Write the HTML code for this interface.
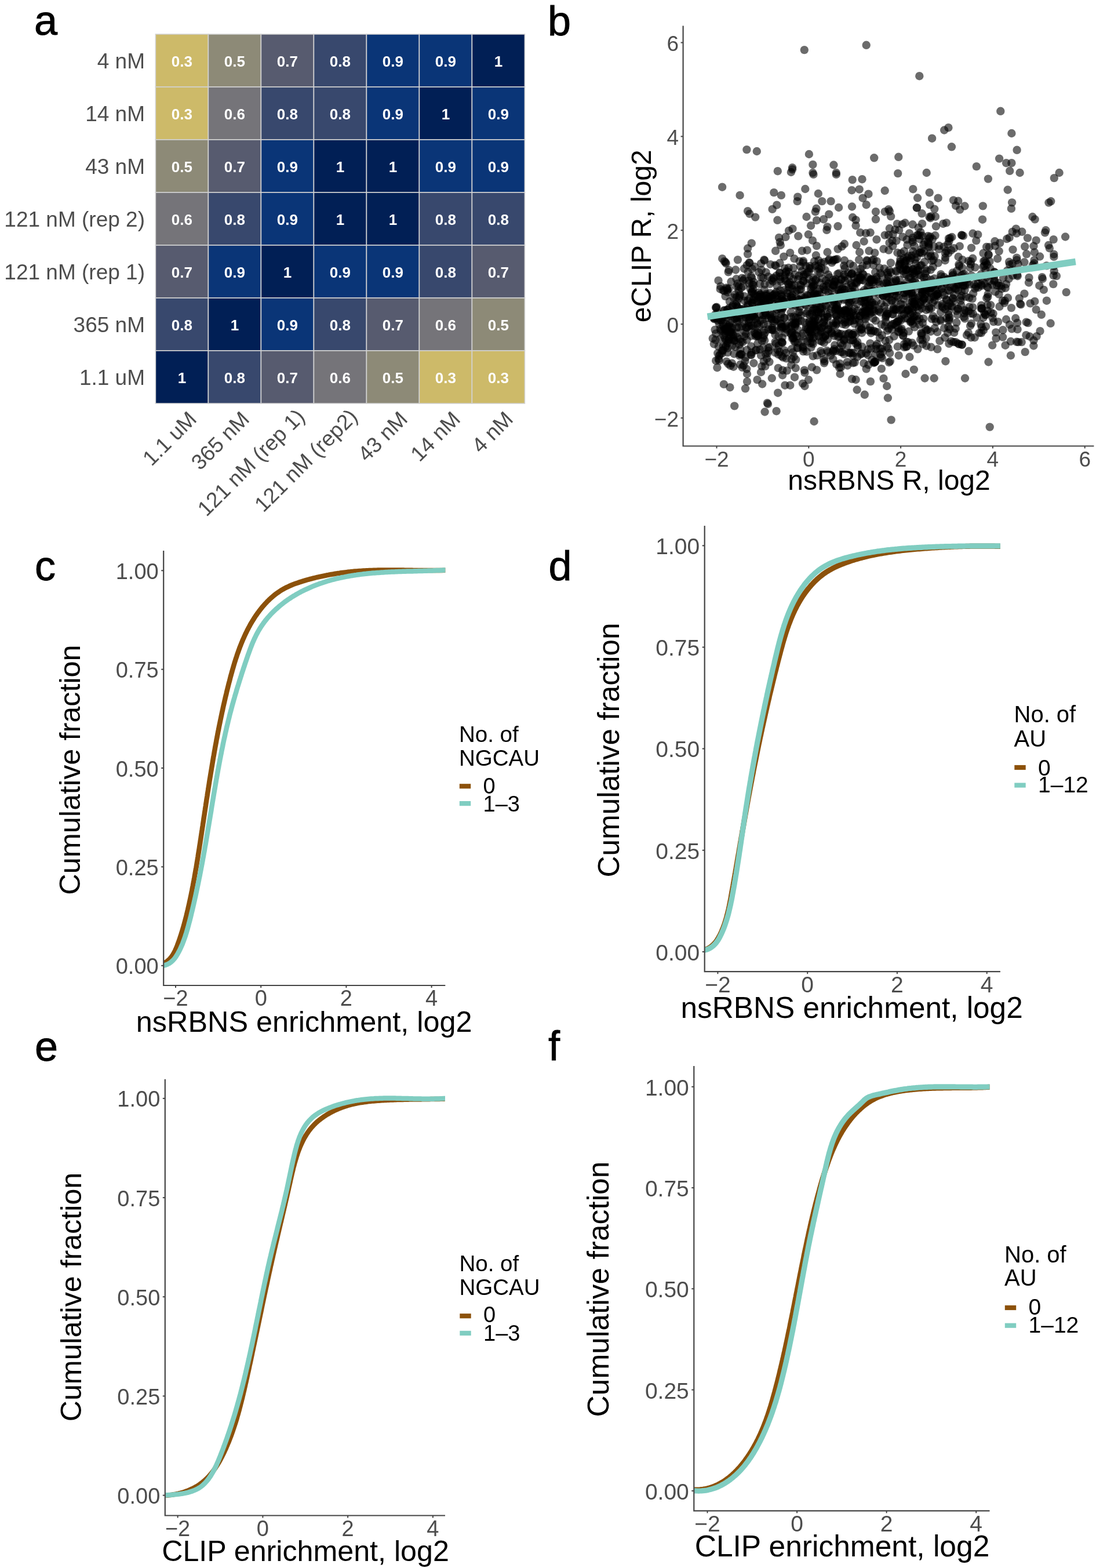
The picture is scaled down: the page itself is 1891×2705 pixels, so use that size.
<!DOCTYPE html>
<html><head><meta charset="utf-8"><style>
html,body{margin:0;padding:0;background:#fff;}
svg{display:block;font-family:"Liberation Sans", Arial, Helvetica, sans-serif;}
</style></head><body>
<svg width="1891" height="2705" viewBox="0 0 1891 2705">
<rect width="1891" height="2705" fill="#fff"/>
<text x="59.0" y="60.0" font-size="72" fill="#000" text-anchor="start" stroke="#000" stroke-width="0.9">a</text>
<text x="945.0" y="60.5" font-size="72" fill="#000" text-anchor="start" stroke="#000" stroke-width="0.9">b</text>
<text x="60.0" y="1001.0" font-size="72" fill="#000" text-anchor="start" stroke="#000" stroke-width="0.9">c</text>
<text x="946.5" y="1000.5" font-size="72" fill="#000" text-anchor="start" stroke="#000" stroke-width="0.9">d</text>
<text x="60.0" y="1829.5" font-size="72" fill="#000" text-anchor="start" stroke="#000" stroke-width="0.9">e</text>
<text x="946.0" y="1829.0" font-size="72" fill="#000" text-anchor="start" stroke="#000" stroke-width="0.9">f</text>
<g>
<rect x="268.4" y="59.0" width="91.0" height="91.0" fill="#cdba69" stroke="#d2d2d2" stroke-width="1.6"/>
<rect x="359.4" y="59.0" width="91.0" height="91.0" fill="#8d8a77" stroke="#d2d2d2" stroke-width="1.6"/>
<rect x="450.4" y="59.0" width="91.0" height="91.0" fill="#575b6f" stroke="#d2d2d2" stroke-width="1.6"/>
<rect x="541.4" y="59.0" width="91.0" height="91.0" fill="#38486d" stroke="#d2d2d2" stroke-width="1.6"/>
<rect x="632.4" y="59.0" width="91.0" height="91.0" fill="#0a3577" stroke="#d2d2d2" stroke-width="1.6"/>
<rect x="723.4" y="59.0" width="91.0" height="91.0" fill="#0a3577" stroke="#d2d2d2" stroke-width="1.6"/>
<rect x="814.4" y="59.0" width="91.0" height="91.0" fill="#011f55" stroke="#d2d2d2" stroke-width="1.6"/>
<rect x="268.4" y="150.0" width="91.0" height="91.0" fill="#cdba69" stroke="#d2d2d2" stroke-width="1.6"/>
<rect x="359.4" y="150.0" width="91.0" height="91.0" fill="#757479" stroke="#d2d2d2" stroke-width="1.6"/>
<rect x="450.4" y="150.0" width="91.0" height="91.0" fill="#38486d" stroke="#d2d2d2" stroke-width="1.6"/>
<rect x="541.4" y="150.0" width="91.0" height="91.0" fill="#38486d" stroke="#d2d2d2" stroke-width="1.6"/>
<rect x="632.4" y="150.0" width="91.0" height="91.0" fill="#0a3577" stroke="#d2d2d2" stroke-width="1.6"/>
<rect x="723.4" y="150.0" width="91.0" height="91.0" fill="#011f55" stroke="#d2d2d2" stroke-width="1.6"/>
<rect x="814.4" y="150.0" width="91.0" height="91.0" fill="#0a3577" stroke="#d2d2d2" stroke-width="1.6"/>
<rect x="268.4" y="241.0" width="91.0" height="91.0" fill="#8d8a77" stroke="#d2d2d2" stroke-width="1.6"/>
<rect x="359.4" y="241.0" width="91.0" height="91.0" fill="#575b6f" stroke="#d2d2d2" stroke-width="1.6"/>
<rect x="450.4" y="241.0" width="91.0" height="91.0" fill="#0a3577" stroke="#d2d2d2" stroke-width="1.6"/>
<rect x="541.4" y="241.0" width="91.0" height="91.0" fill="#011f55" stroke="#d2d2d2" stroke-width="1.6"/>
<rect x="632.4" y="241.0" width="91.0" height="91.0" fill="#011f55" stroke="#d2d2d2" stroke-width="1.6"/>
<rect x="723.4" y="241.0" width="91.0" height="91.0" fill="#0a3577" stroke="#d2d2d2" stroke-width="1.6"/>
<rect x="814.4" y="241.0" width="91.0" height="91.0" fill="#0a3577" stroke="#d2d2d2" stroke-width="1.6"/>
<rect x="268.4" y="332.0" width="91.0" height="91.0" fill="#757479" stroke="#d2d2d2" stroke-width="1.6"/>
<rect x="359.4" y="332.0" width="91.0" height="91.0" fill="#38486d" stroke="#d2d2d2" stroke-width="1.6"/>
<rect x="450.4" y="332.0" width="91.0" height="91.0" fill="#0a3577" stroke="#d2d2d2" stroke-width="1.6"/>
<rect x="541.4" y="332.0" width="91.0" height="91.0" fill="#011f55" stroke="#d2d2d2" stroke-width="1.6"/>
<rect x="632.4" y="332.0" width="91.0" height="91.0" fill="#011f55" stroke="#d2d2d2" stroke-width="1.6"/>
<rect x="723.4" y="332.0" width="91.0" height="91.0" fill="#38486d" stroke="#d2d2d2" stroke-width="1.6"/>
<rect x="814.4" y="332.0" width="91.0" height="91.0" fill="#38486d" stroke="#d2d2d2" stroke-width="1.6"/>
<rect x="268.4" y="423.0" width="91.0" height="91.0" fill="#575b6f" stroke="#d2d2d2" stroke-width="1.6"/>
<rect x="359.4" y="423.0" width="91.0" height="91.0" fill="#0a3577" stroke="#d2d2d2" stroke-width="1.6"/>
<rect x="450.4" y="423.0" width="91.0" height="91.0" fill="#011f55" stroke="#d2d2d2" stroke-width="1.6"/>
<rect x="541.4" y="423.0" width="91.0" height="91.0" fill="#0a3577" stroke="#d2d2d2" stroke-width="1.6"/>
<rect x="632.4" y="423.0" width="91.0" height="91.0" fill="#0a3577" stroke="#d2d2d2" stroke-width="1.6"/>
<rect x="723.4" y="423.0" width="91.0" height="91.0" fill="#38486d" stroke="#d2d2d2" stroke-width="1.6"/>
<rect x="814.4" y="423.0" width="91.0" height="91.0" fill="#575b6f" stroke="#d2d2d2" stroke-width="1.6"/>
<rect x="268.4" y="514.0" width="91.0" height="91.0" fill="#38486d" stroke="#d2d2d2" stroke-width="1.6"/>
<rect x="359.4" y="514.0" width="91.0" height="91.0" fill="#011f55" stroke="#d2d2d2" stroke-width="1.6"/>
<rect x="450.4" y="514.0" width="91.0" height="91.0" fill="#0a3577" stroke="#d2d2d2" stroke-width="1.6"/>
<rect x="541.4" y="514.0" width="91.0" height="91.0" fill="#38486d" stroke="#d2d2d2" stroke-width="1.6"/>
<rect x="632.4" y="514.0" width="91.0" height="91.0" fill="#575b6f" stroke="#d2d2d2" stroke-width="1.6"/>
<rect x="723.4" y="514.0" width="91.0" height="91.0" fill="#757479" stroke="#d2d2d2" stroke-width="1.6"/>
<rect x="814.4" y="514.0" width="91.0" height="91.0" fill="#8d8a77" stroke="#d2d2d2" stroke-width="1.6"/>
<rect x="268.4" y="605.0" width="91.0" height="91.0" fill="#011f55" stroke="#d2d2d2" stroke-width="1.6"/>
<rect x="359.4" y="605.0" width="91.0" height="91.0" fill="#38486d" stroke="#d2d2d2" stroke-width="1.6"/>
<rect x="450.4" y="605.0" width="91.0" height="91.0" fill="#575b6f" stroke="#d2d2d2" stroke-width="1.6"/>
<rect x="541.4" y="605.0" width="91.0" height="91.0" fill="#757479" stroke="#d2d2d2" stroke-width="1.6"/>
<rect x="632.4" y="605.0" width="91.0" height="91.0" fill="#8d8a77" stroke="#d2d2d2" stroke-width="1.6"/>
<rect x="723.4" y="605.0" width="91.0" height="91.0" fill="#cdba69" stroke="#d2d2d2" stroke-width="1.6"/>
<rect x="814.4" y="605.0" width="91.0" height="91.0" fill="#cdba69" stroke="#d2d2d2" stroke-width="1.6"/>
</g>
<text x="313.9" y="115.0" font-size="26" fill="#ffffff" text-anchor="middle" font-weight="bold">0.3</text>
<text x="404.9" y="115.0" font-size="26" fill="#ffffff" text-anchor="middle" font-weight="bold">0.5</text>
<text x="495.9" y="115.0" font-size="26" fill="#ffffff" text-anchor="middle" font-weight="bold">0.7</text>
<text x="586.9" y="115.0" font-size="26" fill="#ffffff" text-anchor="middle" font-weight="bold">0.8</text>
<text x="677.9" y="115.0" font-size="26" fill="#ffffff" text-anchor="middle" font-weight="bold">0.9</text>
<text x="768.9" y="115.0" font-size="26" fill="#ffffff" text-anchor="middle" font-weight="bold">0.9</text>
<text x="859.9" y="115.0" font-size="26" fill="#ffffff" text-anchor="middle" font-weight="bold">1</text>
<text x="313.9" y="206.0" font-size="26" fill="#ffffff" text-anchor="middle" font-weight="bold">0.3</text>
<text x="404.9" y="206.0" font-size="26" fill="#ffffff" text-anchor="middle" font-weight="bold">0.6</text>
<text x="495.9" y="206.0" font-size="26" fill="#ffffff" text-anchor="middle" font-weight="bold">0.8</text>
<text x="586.9" y="206.0" font-size="26" fill="#ffffff" text-anchor="middle" font-weight="bold">0.8</text>
<text x="677.9" y="206.0" font-size="26" fill="#ffffff" text-anchor="middle" font-weight="bold">0.9</text>
<text x="768.9" y="206.0" font-size="26" fill="#ffffff" text-anchor="middle" font-weight="bold">1</text>
<text x="859.9" y="206.0" font-size="26" fill="#ffffff" text-anchor="middle" font-weight="bold">0.9</text>
<text x="313.9" y="297.0" font-size="26" fill="#ffffff" text-anchor="middle" font-weight="bold">0.5</text>
<text x="404.9" y="297.0" font-size="26" fill="#ffffff" text-anchor="middle" font-weight="bold">0.7</text>
<text x="495.9" y="297.0" font-size="26" fill="#ffffff" text-anchor="middle" font-weight="bold">0.9</text>
<text x="586.9" y="297.0" font-size="26" fill="#ffffff" text-anchor="middle" font-weight="bold">1</text>
<text x="677.9" y="297.0" font-size="26" fill="#ffffff" text-anchor="middle" font-weight="bold">1</text>
<text x="768.9" y="297.0" font-size="26" fill="#ffffff" text-anchor="middle" font-weight="bold">0.9</text>
<text x="859.9" y="297.0" font-size="26" fill="#ffffff" text-anchor="middle" font-weight="bold">0.9</text>
<text x="313.9" y="388.0" font-size="26" fill="#ffffff" text-anchor="middle" font-weight="bold">0.6</text>
<text x="404.9" y="388.0" font-size="26" fill="#ffffff" text-anchor="middle" font-weight="bold">0.8</text>
<text x="495.9" y="388.0" font-size="26" fill="#ffffff" text-anchor="middle" font-weight="bold">0.9</text>
<text x="586.9" y="388.0" font-size="26" fill="#ffffff" text-anchor="middle" font-weight="bold">1</text>
<text x="677.9" y="388.0" font-size="26" fill="#ffffff" text-anchor="middle" font-weight="bold">1</text>
<text x="768.9" y="388.0" font-size="26" fill="#ffffff" text-anchor="middle" font-weight="bold">0.8</text>
<text x="859.9" y="388.0" font-size="26" fill="#ffffff" text-anchor="middle" font-weight="bold">0.8</text>
<text x="313.9" y="479.0" font-size="26" fill="#ffffff" text-anchor="middle" font-weight="bold">0.7</text>
<text x="404.9" y="479.0" font-size="26" fill="#ffffff" text-anchor="middle" font-weight="bold">0.9</text>
<text x="495.9" y="479.0" font-size="26" fill="#ffffff" text-anchor="middle" font-weight="bold">1</text>
<text x="586.9" y="479.0" font-size="26" fill="#ffffff" text-anchor="middle" font-weight="bold">0.9</text>
<text x="677.9" y="479.0" font-size="26" fill="#ffffff" text-anchor="middle" font-weight="bold">0.9</text>
<text x="768.9" y="479.0" font-size="26" fill="#ffffff" text-anchor="middle" font-weight="bold">0.8</text>
<text x="859.9" y="479.0" font-size="26" fill="#ffffff" text-anchor="middle" font-weight="bold">0.7</text>
<text x="313.9" y="570.0" font-size="26" fill="#ffffff" text-anchor="middle" font-weight="bold">0.8</text>
<text x="404.9" y="570.0" font-size="26" fill="#ffffff" text-anchor="middle" font-weight="bold">1</text>
<text x="495.9" y="570.0" font-size="26" fill="#ffffff" text-anchor="middle" font-weight="bold">0.9</text>
<text x="586.9" y="570.0" font-size="26" fill="#ffffff" text-anchor="middle" font-weight="bold">0.8</text>
<text x="677.9" y="570.0" font-size="26" fill="#ffffff" text-anchor="middle" font-weight="bold">0.7</text>
<text x="768.9" y="570.0" font-size="26" fill="#ffffff" text-anchor="middle" font-weight="bold">0.6</text>
<text x="859.9" y="570.0" font-size="26" fill="#ffffff" text-anchor="middle" font-weight="bold">0.5</text>
<text x="313.9" y="661.0" font-size="26" fill="#ffffff" text-anchor="middle" font-weight="bold">1</text>
<text x="404.9" y="661.0" font-size="26" fill="#ffffff" text-anchor="middle" font-weight="bold">0.8</text>
<text x="495.9" y="661.0" font-size="26" fill="#ffffff" text-anchor="middle" font-weight="bold">0.7</text>
<text x="586.9" y="661.0" font-size="26" fill="#ffffff" text-anchor="middle" font-weight="bold">0.6</text>
<text x="677.9" y="661.0" font-size="26" fill="#ffffff" text-anchor="middle" font-weight="bold">0.5</text>
<text x="768.9" y="661.0" font-size="26" fill="#ffffff" text-anchor="middle" font-weight="bold">0.3</text>
<text x="859.9" y="661.0" font-size="26" fill="#ffffff" text-anchor="middle" font-weight="bold">0.3</text>
<text x="250.0" y="117.7" font-size="37" fill="#4d4d4d" text-anchor="end" >4 nM</text>
<text x="250.0" y="208.7" font-size="37" fill="#4d4d4d" text-anchor="end" >14 nM</text>
<text x="250.0" y="299.7" font-size="37" fill="#4d4d4d" text-anchor="end" >43 nM</text>
<text x="250.0" y="390.7" font-size="37" fill="#4d4d4d" text-anchor="end" >121 nM (rep 2)</text>
<text x="250.0" y="481.7" font-size="37" fill="#4d4d4d" text-anchor="end" >121 nM (rep 1)</text>
<text x="250.0" y="572.7" font-size="37" fill="#4d4d4d" text-anchor="end" >365 nM</text>
<text x="250.0" y="663.7" font-size="37" fill="#4d4d4d" text-anchor="end" >1.1 uM</text>
<text transform="translate(341.4,725.5) rotate(-45)" font-size="37" fill="#4d4d4d" text-anchor="end">1.1 uM</text>
<text transform="translate(432.4,725.5) rotate(-45)" font-size="37" fill="#4d4d4d" text-anchor="end">365 nM</text>
<text transform="translate(527.9,721.0) rotate(-45)" font-size="37" fill="#4d4d4d" text-anchor="end">121 nM (rep 1)</text>
<text transform="translate(618.9,721.0) rotate(-45)" font-size="37" fill="#4d4d4d" text-anchor="end">121 nM (rep2)</text>
<text transform="translate(705.4,725.5) rotate(-45)" font-size="37" fill="#4d4d4d" text-anchor="end">43 nM</text>
<text transform="translate(796.4,725.5) rotate(-45)" font-size="37" fill="#4d4d4d" text-anchor="end">14 nM</text>
<text transform="translate(887.4,725.5) rotate(-45)" font-size="37" fill="#4d4d4d" text-anchor="end">4 nM</text>
<g fill="#000" fill-opacity="0.58">
<circle cx="1387.8" cy="86.1" r="7.2"/>
<circle cx="1494.7" cy="77.8" r="7.2"/>
<circle cx="1288.4" cy="258.1" r="7.2"/>
<circle cx="1305.8" cy="261.0" r="7.2"/>
<circle cx="1395.9" cy="266.0" r="7.2"/>
<circle cx="1508.2" cy="272.3" r="7.2"/>
<circle cx="1402.4" cy="283.9" r="7.2"/>
<circle cx="1438.4" cy="284.5" r="7.2"/>
<circle cx="1367.1" cy="289.3" r="7.2"/>
<circle cx="1341.8" cy="295.2" r="7.2"/>
<circle cx="1364.9" cy="297.0" r="7.2"/>
<circle cx="1402.4" cy="298.0" r="7.2"/>
<circle cx="1442.8" cy="298.0" r="7.2"/>
<circle cx="1586.3" cy="131.2" r="7.2"/>
<circle cx="1726.3" cy="191.8" r="7.2"/>
<circle cx="1636.4" cy="220.2" r="7.2"/>
<circle cx="1629.2" cy="224.5" r="7.2"/>
<circle cx="1608.1" cy="238.7" r="7.2"/>
<circle cx="1745.4" cy="230.0" r="7.2"/>
<circle cx="1641.9" cy="253.3" r="7.2"/>
<circle cx="1754.6" cy="258.8" r="7.2"/>
<circle cx="1550.3" cy="270.8" r="7.2"/>
<circle cx="1724.1" cy="273.6" r="7.2"/>
<circle cx="1736.1" cy="281.2" r="7.2"/>
<circle cx="1745.4" cy="281.2" r="7.2"/>
<circle cx="1684.8" cy="287.1" r="7.2"/>
<circle cx="1549.2" cy="299.1" r="7.2"/>
<circle cx="1598.7" cy="298.0" r="7.2"/>
<circle cx="1742.2" cy="294.8" r="7.2"/>
<circle cx="1759.6" cy="298.0" r="7.2"/>
<circle cx="1827.6" cy="298.0" r="7.2"/>
<circle cx="1367.1" cy="292.2" r="7.2"/>
<circle cx="1403.5" cy="300.9" r="7.2"/>
<circle cx="1442.8" cy="300.9" r="7.2"/>
<circle cx="1470.7" cy="310.1" r="7.2"/>
<circle cx="1487.5" cy="309.2" r="7.2"/>
<circle cx="1246.1" cy="322.7" r="7.2"/>
<circle cx="1276.6" cy="336.9" r="7.2"/>
<circle cx="1335.3" cy="332.1" r="7.2"/>
<circle cx="1347.9" cy="336.9" r="7.2"/>
<circle cx="1389.3" cy="326.0" r="7.2"/>
<circle cx="1411.8" cy="334.0" r="7.2"/>
<circle cx="1376.3" cy="339.7" r="7.2"/>
<circle cx="1375.6" cy="347.1" r="7.2"/>
<circle cx="1469.6" cy="328.2" r="7.2"/>
<circle cx="1482.7" cy="326.6" r="7.2"/>
<circle cx="1498.4" cy="334.7" r="7.2"/>
<circle cx="1488.6" cy="341.7" r="7.2"/>
<circle cx="1494.7" cy="353.2" r="7.2"/>
<circle cx="1526.7" cy="328.8" r="7.2"/>
<circle cx="1418.3" cy="347.1" r="7.2"/>
<circle cx="1433.6" cy="347.1" r="7.2"/>
<circle cx="1447.1" cy="358.0" r="7.2"/>
<circle cx="1470.0" cy="356.5" r="7.2"/>
<circle cx="1408.5" cy="359.8" r="7.2"/>
<circle cx="1406.8" cy="365.2" r="7.2"/>
<circle cx="1340.3" cy="353.7" r="7.2"/>
<circle cx="1332.6" cy="360.9" r="7.2"/>
<circle cx="1290.1" cy="364.1" r="7.2"/>
<circle cx="1293.4" cy="368.9" r="7.2"/>
<circle cx="1303.2" cy="374.6" r="7.2"/>
<circle cx="1341.4" cy="379.8" r="7.2"/>
<circle cx="1391.5" cy="374.0" r="7.2"/>
<circle cx="1421.0" cy="378.3" r="7.2"/>
<circle cx="1430.3" cy="369.6" r="7.2"/>
<circle cx="1409.0" cy="380.1" r="7.2"/>
<circle cx="1399.1" cy="389.2" r="7.2"/>
<circle cx="1427.5" cy="391.4" r="7.2"/>
<circle cx="1426.4" cy="396.8" r="7.2"/>
<circle cx="1445.6" cy="390.3" r="7.2"/>
<circle cx="1471.1" cy="375.0" r="7.2"/>
<circle cx="1476.6" cy="379.4" r="7.2"/>
<circle cx="1476.6" cy="389.2" r="7.2"/>
<circle cx="1511.0" cy="365.2" r="7.2"/>
<circle cx="1511.0" cy="378.3" r="7.2"/>
<circle cx="1526.7" cy="365.2" r="7.2"/>
<circle cx="1526.7" cy="405.6" r="7.2"/>
<circle cx="1367.5" cy="394.7" r="7.2"/>
<circle cx="1361.0" cy="397.9" r="7.2"/>
<circle cx="1377.3" cy="407.3" r="7.2"/>
<circle cx="1355.5" cy="408.8" r="7.2"/>
<circle cx="1344.0" cy="409.9" r="7.2"/>
<circle cx="1345.7" cy="417.6" r="7.2"/>
<circle cx="1346.8" cy="423.0" r="7.2"/>
<circle cx="1394.8" cy="404.5" r="7.2"/>
<circle cx="1402.0" cy="414.9" r="7.2"/>
<circle cx="1409.0" cy="424.1" r="7.2"/>
<circle cx="1296.7" cy="419.7" r="7.2"/>
<circle cx="1290.1" cy="428.5" r="7.2"/>
<circle cx="1290.1" cy="438.3" r="7.2"/>
<circle cx="1484.2" cy="401.2" r="7.2"/>
<circle cx="1494.0" cy="402.3" r="7.2"/>
<circle cx="1501.6" cy="401.2" r="7.2"/>
<circle cx="1490.7" cy="416.5" r="7.2"/>
<circle cx="1512.5" cy="413.2" r="7.2"/>
<circle cx="1477.6" cy="423.0" r="7.2"/>
<circle cx="1483.1" cy="435.0" r="7.2"/>
<circle cx="1456.9" cy="420.8" r="7.2"/>
<circle cx="1452.6" cy="425.2" r="7.2"/>
<circle cx="1445.6" cy="429.6" r="7.2"/>
<circle cx="1427.5" cy="435.0" r="7.2"/>
<circle cx="1338.1" cy="432.8" r="7.2"/>
<circle cx="1363.2" cy="436.1" r="7.2"/>
<circle cx="1383.9" cy="432.8" r="7.2"/>
<circle cx="1392.6" cy="431.7" r="7.2"/>
<circle cx="1407.9" cy="440.5" r="7.2"/>
<circle cx="1412.2" cy="449.2" r="7.2"/>
<circle cx="1352.3" cy="442.6" r="7.2"/>
<circle cx="1249.8" cy="450.9" r="7.2"/>
<circle cx="1293.4" cy="453.5" r="7.2"/>
<circle cx="1313.0" cy="454.6" r="7.2"/>
<circle cx="1329.4" cy="456.2" r="7.2"/>
<circle cx="1499.4" cy="432.8" r="7.2"/>
<circle cx="1509.3" cy="436.1" r="7.2"/>
<circle cx="1524.5" cy="429.6" r="7.2"/>
<circle cx="1404.6" cy="727.0" r="7.2"/>
<circle cx="1537.6" cy="724.4" r="7.2"/>
<circle cx="1707.7" cy="736.6" r="7.2"/>
<circle cx="1267.2" cy="700.4" r="7.2"/>
<circle cx="1323.9" cy="695.2" r="7.2"/>
<circle cx="1325.0" cy="697.0" r="7.2"/>
<circle cx="1319.6" cy="710.5" r="7.2"/>
<circle cx="1339.6" cy="709.2" r="7.2"/>
<circle cx="1342.2" cy="677.7" r="7.2"/>
<circle cx="1248.9" cy="662.9" r="7.2"/>
<circle cx="1259.4" cy="668.2" r="7.2"/>
<circle cx="1286.0" cy="670.3" r="7.2"/>
<circle cx="1478.7" cy="672.5" r="7.2"/>
<circle cx="1491.8" cy="680.8" r="7.2"/>
<circle cx="1531.9" cy="686.5" r="7.2"/>
<circle cx="1530.2" cy="666.0" r="7.2"/>
<circle cx="1524.5" cy="652.9" r="7.2"/>
<circle cx="1501.9" cy="658.1" r="7.2"/>
<circle cx="1470.0" cy="653.8" r="7.2"/>
<circle cx="1476.6" cy="655.0" r="7.2"/>
<circle cx="1595.6" cy="652.5" r="7.2"/>
<circle cx="1611.7" cy="652.5" r="7.2"/>
<circle cx="1665.0" cy="652.5" r="7.2"/>
<circle cx="1562.5" cy="645.0" r="7.2"/>
<circle cx="1576.9" cy="637.6" r="7.2"/>
<circle cx="1631.4" cy="623.2" r="7.2"/>
<circle cx="1705.5" cy="624.5" r="7.2"/>
<circle cx="1743.9" cy="613.2" r="7.2"/>
<circle cx="1768.7" cy="607.1" r="7.2"/>
<circle cx="1671.5" cy="605.8" r="7.2"/>
<circle cx="1617.4" cy="602.3" r="7.2"/>
<circle cx="1550.7" cy="613.2" r="7.2"/>
<circle cx="1569.4" cy="615.8" r="7.2"/>
<circle cx="1449.5" cy="645.0" r="7.2"/>
<circle cx="1388.5" cy="642.9" r="7.2"/>
<circle cx="1395.0" cy="655.1" r="7.2"/>
<circle cx="1388.5" cy="666.0" r="7.2"/>
<circle cx="1385.0" cy="661.6" r="7.2"/>
<circle cx="1371.0" cy="650.7" r="7.2"/>
<circle cx="1363.2" cy="664.7" r="7.2"/>
<circle cx="1354.4" cy="664.7" r="7.2"/>
<circle cx="1350.1" cy="647.2" r="7.2"/>
<circle cx="1331.8" cy="652.5" r="7.2"/>
<circle cx="1315.2" cy="662.5" r="7.2"/>
<circle cx="1306.5" cy="655.1" r="7.2"/>
<circle cx="1289.0" cy="658.1" r="7.2"/>
<circle cx="1289.0" cy="645.0" r="7.2"/>
<circle cx="1313.0" cy="642.0" r="7.2"/>
<circle cx="1583.4" cy="602.3" r="7.2"/>
<circle cx="1441.9" cy="605.7" r="7.2"/>
<circle cx="1298.9" cy="543.3" r="7.2"/>
<circle cx="1530.8" cy="540.7" r="7.2"/>
<circle cx="1244.5" cy="544.4" r="7.2"/>
<circle cx="1320.8" cy="540.3" r="7.2"/>
<circle cx="1549.6" cy="572.6" r="7.2"/>
<circle cx="1402.9" cy="593.2" r="7.2"/>
<circle cx="1839.7" cy="504.1" r="7.2"/>
<circle cx="1338.7" cy="458.7" r="7.2"/>
<circle cx="1551.2" cy="397.0" r="7.2"/>
<circle cx="1308.5" cy="579.6" r="7.2"/>
<circle cx="1602.2" cy="426.4" r="7.2"/>
<circle cx="1331.4" cy="483.3" r="7.2"/>
<circle cx="1734.7" cy="496.9" r="7.2"/>
<circle cx="1296.3" cy="533.6" r="7.2"/>
<circle cx="1301.2" cy="507.5" r="7.2"/>
<circle cx="1746.7" cy="454.7" r="7.2"/>
<circle cx="1554.2" cy="552.6" r="7.2"/>
<circle cx="1605.6" cy="505.4" r="7.2"/>
<circle cx="1447.5" cy="492.4" r="7.2"/>
<circle cx="1287.3" cy="542.2" r="7.2"/>
<circle cx="1510.4" cy="572.0" r="7.2"/>
<circle cx="1590.7" cy="575.2" r="7.2"/>
<circle cx="1243.3" cy="493.9" r="7.2"/>
<circle cx="1542.5" cy="534.6" r="7.2"/>
<circle cx="1254.8" cy="534.2" r="7.2"/>
<circle cx="1703.0" cy="456.6" r="7.2"/>
<circle cx="1331.2" cy="568.7" r="7.2"/>
<circle cx="1295.7" cy="579.5" r="7.2"/>
<circle cx="1568.1" cy="536.0" r="7.2"/>
<circle cx="1492.0" cy="519.5" r="7.2"/>
<circle cx="1575.5" cy="505.0" r="7.2"/>
<circle cx="1609.4" cy="494.9" r="7.2"/>
<circle cx="1571.6" cy="554.5" r="7.2"/>
<circle cx="1767.4" cy="452.3" r="7.2"/>
<circle cx="1396.5" cy="462.3" r="7.2"/>
<circle cx="1457.7" cy="484.3" r="7.2"/>
<circle cx="1494.7" cy="636.4" r="7.2"/>
<circle cx="1397.0" cy="581.3" r="7.2"/>
<circle cx="1392.8" cy="470.4" r="7.2"/>
<circle cx="1770.7" cy="555.7" r="7.2"/>
<circle cx="1417.8" cy="565.0" r="7.2"/>
<circle cx="1723.5" cy="507.6" r="7.2"/>
<circle cx="1333.4" cy="485.6" r="7.2"/>
<circle cx="1416.8" cy="453.7" r="7.2"/>
<circle cx="1498.6" cy="569.9" r="7.2"/>
<circle cx="1280.3" cy="479.6" r="7.2"/>
<circle cx="1544.8" cy="501.7" r="7.2"/>
<circle cx="1468.7" cy="518.6" r="7.2"/>
<circle cx="1805.7" cy="458.4" r="7.2"/>
<circle cx="1296.8" cy="503.4" r="7.2"/>
<circle cx="1494.3" cy="609.4" r="7.2"/>
<circle cx="1530.4" cy="597.6" r="7.2"/>
<circle cx="1584.0" cy="465.8" r="7.2"/>
<circle cx="1575.4" cy="464.1" r="7.2"/>
<circle cx="1563.7" cy="449.5" r="7.2"/>
<circle cx="1306.6" cy="573.7" r="7.2"/>
<circle cx="1708.5" cy="463.1" r="7.2"/>
<circle cx="1818.8" cy="307.1" r="7.2"/>
<circle cx="1350.7" cy="518.9" r="7.2"/>
<circle cx="1396.6" cy="583.6" r="7.2"/>
<circle cx="1414.3" cy="526.0" r="7.2"/>
<circle cx="1356.2" cy="566.2" r="7.2"/>
<circle cx="1285.2" cy="572.8" r="7.2"/>
<circle cx="1620.5" cy="424.0" r="7.2"/>
<circle cx="1427.8" cy="546.7" r="7.2"/>
<circle cx="1347.4" cy="485.9" r="7.2"/>
<circle cx="1598.0" cy="534.7" r="7.2"/>
<circle cx="1533.9" cy="625.2" r="7.2"/>
<circle cx="1433.9" cy="532.8" r="7.2"/>
<circle cx="1787.7" cy="534.1" r="7.2"/>
<circle cx="1539.4" cy="518.1" r="7.2"/>
<circle cx="1490.4" cy="626.7" r="7.2"/>
<circle cx="1464.8" cy="527.1" r="7.2"/>
<circle cx="1303.9" cy="580.2" r="7.2"/>
<circle cx="1371.8" cy="577.5" r="7.2"/>
<circle cx="1469.2" cy="539.8" r="7.2"/>
<circle cx="1553.0" cy="491.7" r="7.2"/>
<circle cx="1537.5" cy="561.8" r="7.2"/>
<circle cx="1348.6" cy="511.8" r="7.2"/>
<circle cx="1265.5" cy="632.7" r="7.2"/>
<circle cx="1382.1" cy="498.9" r="7.2"/>
<circle cx="1421.3" cy="619.7" r="7.2"/>
<circle cx="1489.9" cy="483.7" r="7.2"/>
<circle cx="1424.8" cy="527.3" r="7.2"/>
<circle cx="1353.1" cy="604.4" r="7.2"/>
<circle cx="1233.6" cy="568.9" r="7.2"/>
<circle cx="1401.6" cy="572.9" r="7.2"/>
<circle cx="1423.9" cy="579.6" r="7.2"/>
<circle cx="1722.1" cy="555.1" r="7.2"/>
<circle cx="1420.8" cy="582.3" r="7.2"/>
<circle cx="1643.8" cy="514.5" r="7.2"/>
<circle cx="1719.8" cy="492.3" r="7.2"/>
<circle cx="1255.4" cy="608.1" r="7.2"/>
<circle cx="1364.1" cy="574.9" r="7.2"/>
<circle cx="1713.6" cy="541.0" r="7.2"/>
<circle cx="1612.5" cy="518.1" r="7.2"/>
<circle cx="1247.8" cy="597.4" r="7.2"/>
<circle cx="1324.2" cy="609.9" r="7.2"/>
<circle cx="1694.0" cy="531.8" r="7.2"/>
<circle cx="1537.1" cy="373.4" r="7.2"/>
<circle cx="1630.2" cy="582.4" r="7.2"/>
<circle cx="1429.3" cy="488.0" r="7.2"/>
<circle cx="1337.5" cy="589.9" r="7.2"/>
<circle cx="1341.4" cy="517.0" r="7.2"/>
<circle cx="1288.2" cy="636.5" r="7.2"/>
<circle cx="1247.7" cy="500.9" r="7.2"/>
<circle cx="1428.0" cy="516.7" r="7.2"/>
<circle cx="1407.1" cy="510.1" r="7.2"/>
<circle cx="1466.5" cy="609.3" r="7.2"/>
<circle cx="1450.5" cy="504.5" r="7.2"/>
<circle cx="1430.8" cy="447.4" r="7.2"/>
<circle cx="1272.0" cy="581.8" r="7.2"/>
<circle cx="1466.8" cy="546.0" r="7.2"/>
<circle cx="1251.7" cy="574.9" r="7.2"/>
<circle cx="1267.6" cy="542.1" r="7.2"/>
<circle cx="1438.4" cy="526.3" r="7.2"/>
<circle cx="1274.2" cy="494.2" r="7.2"/>
<circle cx="1521.5" cy="601.4" r="7.2"/>
<circle cx="1477.7" cy="510.3" r="7.2"/>
<circle cx="1437.6" cy="482.7" r="7.2"/>
<circle cx="1265.5" cy="583.7" r="7.2"/>
<circle cx="1260.2" cy="630.9" r="7.2"/>
<circle cx="1524.1" cy="510.1" r="7.2"/>
<circle cx="1259.7" cy="572.1" r="7.2"/>
<circle cx="1283.0" cy="630.6" r="7.2"/>
<circle cx="1368.2" cy="582.5" r="7.2"/>
<circle cx="1783.4" cy="596.5" r="7.2"/>
<circle cx="1642.4" cy="409.0" r="7.2"/>
<circle cx="1367.0" cy="573.7" r="7.2"/>
<circle cx="1532.3" cy="496.8" r="7.2"/>
<circle cx="1693.1" cy="490.9" r="7.2"/>
<circle cx="1596.9" cy="507.7" r="7.2"/>
<circle cx="1528.9" cy="487.8" r="7.2"/>
<circle cx="1571.2" cy="479.2" r="7.2"/>
<circle cx="1322.1" cy="507.2" r="7.2"/>
<circle cx="1520.0" cy="615.7" r="7.2"/>
<circle cx="1498.4" cy="629.4" r="7.2"/>
<circle cx="1553.8" cy="455.1" r="7.2"/>
<circle cx="1773.7" cy="557.1" r="7.2"/>
<circle cx="1534.3" cy="586.4" r="7.2"/>
<circle cx="1284.3" cy="511.3" r="7.2"/>
<circle cx="1306.4" cy="557.5" r="7.2"/>
<circle cx="1598.2" cy="496.7" r="7.2"/>
<circle cx="1296.9" cy="505.7" r="7.2"/>
<circle cx="1575.1" cy="465.0" r="7.2"/>
<circle cx="1501.9" cy="503.3" r="7.2"/>
<circle cx="1299.1" cy="517.2" r="7.2"/>
<circle cx="1437.5" cy="449.8" r="7.2"/>
<circle cx="1327.8" cy="511.9" r="7.2"/>
<circle cx="1593.3" cy="549.6" r="7.2"/>
<circle cx="1247.5" cy="604.2" r="7.2"/>
<circle cx="1333.2" cy="509.6" r="7.2"/>
<circle cx="1319.1" cy="449.3" r="7.2"/>
<circle cx="1459.5" cy="516.5" r="7.2"/>
<circle cx="1327.4" cy="624.3" r="7.2"/>
<circle cx="1645.0" cy="520.5" r="7.2"/>
<circle cx="1522.2" cy="617.9" r="7.2"/>
<circle cx="1411.5" cy="468.0" r="7.2"/>
<circle cx="1650.4" cy="536.4" r="7.2"/>
<circle cx="1578.0" cy="484.3" r="7.2"/>
<circle cx="1288.6" cy="586.4" r="7.2"/>
<circle cx="1347.0" cy="507.4" r="7.2"/>
<circle cx="1597.1" cy="522.6" r="7.2"/>
<circle cx="1499.2" cy="515.1" r="7.2"/>
<circle cx="1232.6" cy="548.1" r="7.2"/>
<circle cx="1371.9" cy="473.9" r="7.2"/>
<circle cx="1357.1" cy="568.5" r="7.2"/>
<circle cx="1507.3" cy="570.7" r="7.2"/>
<circle cx="1693.1" cy="574.4" r="7.2"/>
<circle cx="1297.1" cy="522.0" r="7.2"/>
<circle cx="1256.3" cy="627.6" r="7.2"/>
<circle cx="1541.5" cy="530.6" r="7.2"/>
<circle cx="1480.2" cy="475.6" r="7.2"/>
<circle cx="1354.7" cy="563.1" r="7.2"/>
<circle cx="1422.7" cy="561.6" r="7.2"/>
<circle cx="1702.4" cy="477.9" r="7.2"/>
<circle cx="1684.6" cy="478.7" r="7.2"/>
<circle cx="1705.5" cy="439.7" r="7.2"/>
<circle cx="1448.3" cy="601.5" r="7.2"/>
<circle cx="1575.1" cy="552.0" r="7.2"/>
<circle cx="1700.4" cy="543.3" r="7.2"/>
<circle cx="1447.2" cy="580.0" r="7.2"/>
<circle cx="1437.4" cy="604.9" r="7.2"/>
<circle cx="1712.0" cy="491.2" r="7.2"/>
<circle cx="1509.7" cy="624.7" r="7.2"/>
<circle cx="1304.6" cy="603.7" r="7.2"/>
<circle cx="1375.8" cy="515.2" r="7.2"/>
<circle cx="1445.0" cy="472.6" r="7.2"/>
<circle cx="1466.3" cy="554.4" r="7.2"/>
<circle cx="1666.6" cy="511.9" r="7.2"/>
<circle cx="1573.6" cy="591.4" r="7.2"/>
<circle cx="1653.0" cy="490.7" r="7.2"/>
<circle cx="1728.4" cy="498.1" r="7.2"/>
<circle cx="1255.2" cy="600.7" r="7.2"/>
<circle cx="1379.8" cy="499.7" r="7.2"/>
<circle cx="1810.8" cy="428.2" r="7.2"/>
<circle cx="1638.7" cy="567.7" r="7.2"/>
<circle cx="1572.9" cy="504.7" r="7.2"/>
<circle cx="1609.8" cy="460.4" r="7.2"/>
<circle cx="1252.4" cy="596.2" r="7.2"/>
<circle cx="1651.0" cy="467.2" r="7.2"/>
<circle cx="1818.7" cy="467.5" r="7.2"/>
<circle cx="1776.7" cy="580.5" r="7.2"/>
<circle cx="1269.0" cy="598.5" r="7.2"/>
<circle cx="1672.5" cy="490.6" r="7.2"/>
<circle cx="1297.5" cy="463.7" r="7.2"/>
<circle cx="1370.5" cy="492.3" r="7.2"/>
<circle cx="1343.3" cy="596.1" r="7.2"/>
<circle cx="1429.9" cy="449.2" r="7.2"/>
<circle cx="1457.1" cy="535.4" r="7.2"/>
<circle cx="1337.2" cy="457.5" r="7.2"/>
<circle cx="1334.9" cy="508.2" r="7.2"/>
<circle cx="1613.9" cy="373.7" r="7.2"/>
<circle cx="1375.2" cy="579.9" r="7.2"/>
<circle cx="1474.4" cy="532.5" r="7.2"/>
<circle cx="1426.9" cy="542.8" r="7.2"/>
<circle cx="1525.7" cy="463.4" r="7.2"/>
<circle cx="1528.3" cy="555.4" r="7.2"/>
<circle cx="1501.0" cy="564.9" r="7.2"/>
<circle cx="1632.9" cy="384.4" r="7.2"/>
<circle cx="1328.8" cy="545.2" r="7.2"/>
<circle cx="1284.3" cy="580.5" r="7.2"/>
<circle cx="1348.4" cy="589.9" r="7.2"/>
<circle cx="1262.3" cy="566.4" r="7.2"/>
<circle cx="1325.7" cy="477.2" r="7.2"/>
<circle cx="1402.1" cy="535.8" r="7.2"/>
<circle cx="1320.3" cy="521.2" r="7.2"/>
<circle cx="1390.3" cy="458.9" r="7.2"/>
<circle cx="1736.1" cy="490.1" r="7.2"/>
<circle cx="1320.7" cy="514.6" r="7.2"/>
<circle cx="1659.5" cy="406.0" r="7.2"/>
<circle cx="1382.2" cy="553.6" r="7.2"/>
<circle cx="1359.4" cy="500.9" r="7.2"/>
<circle cx="1675.4" cy="582.2" r="7.2"/>
<circle cx="1662.2" cy="492.7" r="7.2"/>
<circle cx="1557.4" cy="408.7" r="7.2"/>
<circle cx="1492.0" cy="532.1" r="7.2"/>
<circle cx="1328.5" cy="542.1" r="7.2"/>
<circle cx="1724.5" cy="528.8" r="7.2"/>
<circle cx="1658.9" cy="475.1" r="7.2"/>
<circle cx="1574.3" cy="472.2" r="7.2"/>
<circle cx="1653.6" cy="443.0" r="7.2"/>
<circle cx="1249.5" cy="501.9" r="7.2"/>
<circle cx="1347.6" cy="541.7" r="7.2"/>
<circle cx="1280.4" cy="563.2" r="7.2"/>
<circle cx="1383.0" cy="518.4" r="7.2"/>
<circle cx="1360.0" cy="489.3" r="7.2"/>
<circle cx="1468.8" cy="473.2" r="7.2"/>
<circle cx="1469.6" cy="471.9" r="7.2"/>
<circle cx="1251.5" cy="599.0" r="7.2"/>
<circle cx="1381.9" cy="544.0" r="7.2"/>
<circle cx="1482.1" cy="448.2" r="7.2"/>
<circle cx="1450.6" cy="505.5" r="7.2"/>
<circle cx="1495.4" cy="449.0" r="7.2"/>
<circle cx="1249.4" cy="535.1" r="7.2"/>
<circle cx="1352.6" cy="500.4" r="7.2"/>
<circle cx="1693.6" cy="493.0" r="7.2"/>
<circle cx="1448.2" cy="634.3" r="7.2"/>
<circle cx="1467.7" cy="587.0" r="7.2"/>
<circle cx="1544.7" cy="486.6" r="7.2"/>
<circle cx="1575.2" cy="433.7" r="7.2"/>
<circle cx="1600.9" cy="417.8" r="7.2"/>
<circle cx="1416.7" cy="539.8" r="7.2"/>
<circle cx="1466.5" cy="455.3" r="7.2"/>
<circle cx="1501.4" cy="592.4" r="7.2"/>
<circle cx="1443.4" cy="558.6" r="7.2"/>
<circle cx="1424.4" cy="501.1" r="7.2"/>
<circle cx="1271.5" cy="552.5" r="7.2"/>
<circle cx="1422.0" cy="626.3" r="7.2"/>
<circle cx="1501.4" cy="541.0" r="7.2"/>
<circle cx="1517.9" cy="582.9" r="7.2"/>
<circle cx="1693.9" cy="532.2" r="7.2"/>
<circle cx="1746.1" cy="349.4" r="7.2"/>
<circle cx="1626.7" cy="504.1" r="7.2"/>
<circle cx="1507.2" cy="486.6" r="7.2"/>
<circle cx="1435.3" cy="501.7" r="7.2"/>
<circle cx="1346.4" cy="526.9" r="7.2"/>
<circle cx="1464.0" cy="576.0" r="7.2"/>
<circle cx="1295.3" cy="612.1" r="7.2"/>
<circle cx="1414.6" cy="530.8" r="7.2"/>
<circle cx="1466.9" cy="522.8" r="7.2"/>
<circle cx="1412.3" cy="541.9" r="7.2"/>
<circle cx="1568.8" cy="497.9" r="7.2"/>
<circle cx="1298.1" cy="523.0" r="7.2"/>
<circle cx="1679.1" cy="506.3" r="7.2"/>
<circle cx="1664.5" cy="355.5" r="7.2"/>
<circle cx="1586.4" cy="549.4" r="7.2"/>
<circle cx="1672.2" cy="513.7" r="7.2"/>
<circle cx="1292.9" cy="489.5" r="7.2"/>
<circle cx="1515.8" cy="536.4" r="7.2"/>
<circle cx="1594.2" cy="515.2" r="7.2"/>
<circle cx="1737.2" cy="412.1" r="7.2"/>
<circle cx="1590.8" cy="531.8" r="7.2"/>
<circle cx="1612.6" cy="566.3" r="7.2"/>
<circle cx="1376.6" cy="600.4" r="7.2"/>
<circle cx="1471.7" cy="626.2" r="7.2"/>
<circle cx="1573.5" cy="468.0" r="7.2"/>
<circle cx="1309.1" cy="529.4" r="7.2"/>
<circle cx="1487.8" cy="483.0" r="7.2"/>
<circle cx="1351.1" cy="530.8" r="7.2"/>
<circle cx="1636.3" cy="563.8" r="7.2"/>
<circle cx="1604.9" cy="408.2" r="7.2"/>
<circle cx="1638.4" cy="523.3" r="7.2"/>
<circle cx="1486.7" cy="568.5" r="7.2"/>
<circle cx="1298.5" cy="528.2" r="7.2"/>
<circle cx="1372.7" cy="548.0" r="7.2"/>
<circle cx="1463.4" cy="481.0" r="7.2"/>
<circle cx="1401.3" cy="590.7" r="7.2"/>
<circle cx="1457.5" cy="505.9" r="7.2"/>
<circle cx="1240.8" cy="613.7" r="7.2"/>
<circle cx="1629.1" cy="566.0" r="7.2"/>
<circle cx="1729.8" cy="518.7" r="7.2"/>
<circle cx="1317.8" cy="623.4" r="7.2"/>
<circle cx="1617.8" cy="526.5" r="7.2"/>
<circle cx="1674.0" cy="562.0" r="7.2"/>
<circle cx="1635.1" cy="528.9" r="7.2"/>
<circle cx="1528.6" cy="545.4" r="7.2"/>
<circle cx="1533.4" cy="513.9" r="7.2"/>
<circle cx="1744.9" cy="359.9" r="7.2"/>
<circle cx="1242.6" cy="551.9" r="7.2"/>
<circle cx="1376.7" cy="569.0" r="7.2"/>
<circle cx="1572.3" cy="445.4" r="7.2"/>
<circle cx="1727.4" cy="493.3" r="7.2"/>
<circle cx="1468.6" cy="608.4" r="7.2"/>
<circle cx="1277.4" cy="602.7" r="7.2"/>
<circle cx="1607.7" cy="550.1" r="7.2"/>
<circle cx="1365.9" cy="572.3" r="7.2"/>
<circle cx="1390.4" cy="526.6" r="7.2"/>
<circle cx="1402.7" cy="493.5" r="7.2"/>
<circle cx="1318.1" cy="569.9" r="7.2"/>
<circle cx="1561.1" cy="459.0" r="7.2"/>
<circle cx="1457.7" cy="476.9" r="7.2"/>
<circle cx="1396.6" cy="520.0" r="7.2"/>
<circle cx="1493.4" cy="527.9" r="7.2"/>
<circle cx="1569.8" cy="449.6" r="7.2"/>
<circle cx="1358.7" cy="505.9" r="7.2"/>
<circle cx="1266.5" cy="610.5" r="7.2"/>
<circle cx="1367.1" cy="560.2" r="7.2"/>
<circle cx="1469.8" cy="577.3" r="7.2"/>
<circle cx="1484.2" cy="478.1" r="7.2"/>
<circle cx="1495.7" cy="457.2" r="7.2"/>
<circle cx="1404.7" cy="563.8" r="7.2"/>
<circle cx="1637.0" cy="553.6" r="7.2"/>
<circle cx="1379.0" cy="516.6" r="7.2"/>
<circle cx="1466.0" cy="515.2" r="7.2"/>
<circle cx="1537.7" cy="518.7" r="7.2"/>
<circle cx="1234.6" cy="586.4" r="7.2"/>
<circle cx="1529.3" cy="543.3" r="7.2"/>
<circle cx="1276.0" cy="544.8" r="7.2"/>
<circle cx="1340.6" cy="534.0" r="7.2"/>
<circle cx="1386.3" cy="520.0" r="7.2"/>
<circle cx="1598.4" cy="596.7" r="7.2"/>
<circle cx="1809.0" cy="423.0" r="7.2"/>
<circle cx="1287.2" cy="564.8" r="7.2"/>
<circle cx="1596.8" cy="503.9" r="7.2"/>
<circle cx="1258.4" cy="572.7" r="7.2"/>
<circle cx="1798.9" cy="481.0" r="7.2"/>
<circle cx="1573.0" cy="553.7" r="7.2"/>
<circle cx="1368.8" cy="462.3" r="7.2"/>
<circle cx="1365.2" cy="563.3" r="7.2"/>
<circle cx="1617.4" cy="506.6" r="7.2"/>
<circle cx="1380.9" cy="459.3" r="7.2"/>
<circle cx="1316.3" cy="525.2" r="7.2"/>
<circle cx="1610.6" cy="448.6" r="7.2"/>
<circle cx="1369.2" cy="559.0" r="7.2"/>
<circle cx="1453.2" cy="607.6" r="7.2"/>
<circle cx="1331.5" cy="550.5" r="7.2"/>
<circle cx="1556.3" cy="544.3" r="7.2"/>
<circle cx="1603.6" cy="411.3" r="7.2"/>
<circle cx="1349.5" cy="531.1" r="7.2"/>
<circle cx="1582.0" cy="358.4" r="7.2"/>
<circle cx="1449.5" cy="500.1" r="7.2"/>
<circle cx="1487.6" cy="509.4" r="7.2"/>
<circle cx="1396.5" cy="553.9" r="7.2"/>
<circle cx="1399.2" cy="506.1" r="7.2"/>
<circle cx="1255.8" cy="534.3" r="7.2"/>
<circle cx="1437.5" cy="606.7" r="7.2"/>
<circle cx="1580.1" cy="454.8" r="7.2"/>
<circle cx="1548.4" cy="436.0" r="7.2"/>
<circle cx="1372.4" cy="589.7" r="7.2"/>
<circle cx="1360.5" cy="461.9" r="7.2"/>
<circle cx="1447.4" cy="471.5" r="7.2"/>
<circle cx="1451.1" cy="482.7" r="7.2"/>
<circle cx="1317.6" cy="558.8" r="7.2"/>
<circle cx="1501.6" cy="482.5" r="7.2"/>
<circle cx="1441.8" cy="481.8" r="7.2"/>
<circle cx="1316.7" cy="583.2" r="7.2"/>
<circle cx="1345.4" cy="470.6" r="7.2"/>
<circle cx="1438.7" cy="517.3" r="7.2"/>
<circle cx="1590.9" cy="506.2" r="7.2"/>
<circle cx="1311.8" cy="507.5" r="7.2"/>
<circle cx="1718.6" cy="583.9" r="7.2"/>
<circle cx="1725.2" cy="419.2" r="7.2"/>
<circle cx="1340.2" cy="509.8" r="7.2"/>
<circle cx="1337.2" cy="506.9" r="7.2"/>
<circle cx="1561.6" cy="384.5" r="7.2"/>
<circle cx="1508.3" cy="625.0" r="7.2"/>
<circle cx="1578.9" cy="520.1" r="7.2"/>
<circle cx="1659.3" cy="483.1" r="7.2"/>
<circle cx="1401.1" cy="559.8" r="7.2"/>
<circle cx="1590.6" cy="368.3" r="7.2"/>
<circle cx="1622.6" cy="551.4" r="7.2"/>
<circle cx="1605.4" cy="497.6" r="7.2"/>
<circle cx="1603.1" cy="533.6" r="7.2"/>
<circle cx="1741.6" cy="409.9" r="7.2"/>
<circle cx="1429.3" cy="505.3" r="7.2"/>
<circle cx="1303.8" cy="604.5" r="7.2"/>
<circle cx="1414.1" cy="507.7" r="7.2"/>
<circle cx="1692.8" cy="472.9" r="7.2"/>
<circle cx="1817.7" cy="413.1" r="7.2"/>
<circle cx="1763.3" cy="399.8" r="7.2"/>
<circle cx="1489.9" cy="521.3" r="7.2"/>
<circle cx="1559.8" cy="541.9" r="7.2"/>
<circle cx="1240.7" cy="622.1" r="7.2"/>
<circle cx="1536.4" cy="506.5" r="7.2"/>
<circle cx="1600.3" cy="569.1" r="7.2"/>
<circle cx="1234.3" cy="542.4" r="7.2"/>
<circle cx="1429.1" cy="567.7" r="7.2"/>
<circle cx="1564.7" cy="413.3" r="7.2"/>
<circle cx="1411.1" cy="561.8" r="7.2"/>
<circle cx="1327.7" cy="519.3" r="7.2"/>
<circle cx="1562.8" cy="510.5" r="7.2"/>
<circle cx="1485.5" cy="478.6" r="7.2"/>
<circle cx="1258.5" cy="560.0" r="7.2"/>
<circle cx="1605.8" cy="465.5" r="7.2"/>
<circle cx="1575.8" cy="547.3" r="7.2"/>
<circle cx="1526.7" cy="502.7" r="7.2"/>
<circle cx="1373.2" cy="620.3" r="7.2"/>
<circle cx="1540.4" cy="424.3" r="7.2"/>
<circle cx="1253.4" cy="623.6" r="7.2"/>
<circle cx="1656.1" cy="361.6" r="7.2"/>
<circle cx="1500.9" cy="516.9" r="7.2"/>
<circle cx="1564.9" cy="486.2" r="7.2"/>
<circle cx="1673.9" cy="462.0" r="7.2"/>
<circle cx="1618.7" cy="453.6" r="7.2"/>
<circle cx="1345.5" cy="453.8" r="7.2"/>
<circle cx="1519.1" cy="471.4" r="7.2"/>
<circle cx="1619.9" cy="429.9" r="7.2"/>
<circle cx="1682.4" cy="461.4" r="7.2"/>
<circle cx="1340.8" cy="493.4" r="7.2"/>
<circle cx="1551.0" cy="535.1" r="7.2"/>
<circle cx="1588.4" cy="400.7" r="7.2"/>
<circle cx="1509.2" cy="499.6" r="7.2"/>
<circle cx="1533.1" cy="566.9" r="7.2"/>
<circle cx="1327.9" cy="598.7" r="7.2"/>
<circle cx="1408.8" cy="563.1" r="7.2"/>
<circle cx="1696.5" cy="436.8" r="7.2"/>
<circle cx="1404.0" cy="506.6" r="7.2"/>
<circle cx="1761.4" cy="525.3" r="7.2"/>
<circle cx="1422.5" cy="547.9" r="7.2"/>
<circle cx="1318.2" cy="523.3" r="7.2"/>
<circle cx="1589.7" cy="430.0" r="7.2"/>
<circle cx="1441.7" cy="485.2" r="7.2"/>
<circle cx="1684.3" cy="415.1" r="7.2"/>
<circle cx="1447.4" cy="535.4" r="7.2"/>
<circle cx="1262.8" cy="626.6" r="7.2"/>
<circle cx="1647.0" cy="497.6" r="7.2"/>
<circle cx="1533.4" cy="431.6" r="7.2"/>
<circle cx="1589.1" cy="574.7" r="7.2"/>
<circle cx="1682.3" cy="497.9" r="7.2"/>
<circle cx="1310.6" cy="508.7" r="7.2"/>
<circle cx="1537.1" cy="470.0" r="7.2"/>
<circle cx="1321.6" cy="469.7" r="7.2"/>
<circle cx="1423.6" cy="518.6" r="7.2"/>
<circle cx="1493.1" cy="544.3" r="7.2"/>
<circle cx="1704.7" cy="507.5" r="7.2"/>
<circle cx="1527.9" cy="547.9" r="7.2"/>
<circle cx="1588.1" cy="585.9" r="7.2"/>
<circle cx="1315.7" cy="551.1" r="7.2"/>
<circle cx="1493.2" cy="550.2" r="7.2"/>
<circle cx="1475.5" cy="487.4" r="7.2"/>
<circle cx="1654.4" cy="456.3" r="7.2"/>
<circle cx="1704.0" cy="536.2" r="7.2"/>
<circle cx="1355.6" cy="609.0" r="7.2"/>
<circle cx="1557.3" cy="532.6" r="7.2"/>
<circle cx="1512.3" cy="482.3" r="7.2"/>
<circle cx="1255.2" cy="504.2" r="7.2"/>
<circle cx="1590.2" cy="578.4" r="7.2"/>
<circle cx="1409.2" cy="511.4" r="7.2"/>
<circle cx="1393.6" cy="537.7" r="7.2"/>
<circle cx="1434.8" cy="575.2" r="7.2"/>
<circle cx="1250.3" cy="567.3" r="7.2"/>
<circle cx="1502.8" cy="574.5" r="7.2"/>
<circle cx="1269.2" cy="465.5" r="7.2"/>
<circle cx="1255.6" cy="588.5" r="7.2"/>
<circle cx="1277.3" cy="628.8" r="7.2"/>
<circle cx="1476.2" cy="577.5" r="7.2"/>
<circle cx="1246.2" cy="446.2" r="7.2"/>
<circle cx="1377.6" cy="524.5" r="7.2"/>
<circle cx="1603.5" cy="503.2" r="7.2"/>
<circle cx="1558.5" cy="579.0" r="7.2"/>
<circle cx="1643.7" cy="470.5" r="7.2"/>
<circle cx="1399.4" cy="599.4" r="7.2"/>
<circle cx="1466.3" cy="507.7" r="7.2"/>
<circle cx="1371.9" cy="527.7" r="7.2"/>
<circle cx="1741.9" cy="560.0" r="7.2"/>
<circle cx="1504.5" cy="620.6" r="7.2"/>
<circle cx="1483.4" cy="556.7" r="7.2"/>
<circle cx="1434.0" cy="572.3" r="7.2"/>
<circle cx="1312.8" cy="511.1" r="7.2"/>
<circle cx="1635.2" cy="421.4" r="7.2"/>
<circle cx="1756.5" cy="455.5" r="7.2"/>
<circle cx="1500.0" cy="530.9" r="7.2"/>
<circle cx="1497.3" cy="612.5" r="7.2"/>
<circle cx="1604.8" cy="496.7" r="7.2"/>
<circle cx="1646.2" cy="573.9" r="7.2"/>
<circle cx="1535.8" cy="623.3" r="7.2"/>
<circle cx="1591.9" cy="557.0" r="7.2"/>
<circle cx="1257.3" cy="586.4" r="7.2"/>
<circle cx="1561.1" cy="450.8" r="7.2"/>
<circle cx="1415.0" cy="488.2" r="7.2"/>
<circle cx="1540.7" cy="498.9" r="7.2"/>
<circle cx="1357.0" cy="467.7" r="7.2"/>
<circle cx="1409.2" cy="638.3" r="7.2"/>
<circle cx="1460.8" cy="494.8" r="7.2"/>
<circle cx="1313.4" cy="478.1" r="7.2"/>
<circle cx="1784.2" cy="454.3" r="7.2"/>
<circle cx="1310.9" cy="513.1" r="7.2"/>
<circle cx="1639.3" cy="495.1" r="7.2"/>
<circle cx="1450.8" cy="633.7" r="7.2"/>
<circle cx="1557.2" cy="493.6" r="7.2"/>
<circle cx="1494.2" cy="506.9" r="7.2"/>
<circle cx="1406.7" cy="458.3" r="7.2"/>
<circle cx="1364.2" cy="546.8" r="7.2"/>
<circle cx="1423.6" cy="465.7" r="7.2"/>
<circle cx="1479.9" cy="599.3" r="7.2"/>
<circle cx="1386.0" cy="606.3" r="7.2"/>
<circle cx="1431.7" cy="539.9" r="7.2"/>
<circle cx="1639.0" cy="501.9" r="7.2"/>
<circle cx="1337.4" cy="577.1" r="7.2"/>
<circle cx="1717.4" cy="503.3" r="7.2"/>
<circle cx="1439.3" cy="602.1" r="7.2"/>
<circle cx="1784.9" cy="435.1" r="7.2"/>
<circle cx="1689.5" cy="477.9" r="7.2"/>
<circle cx="1557.1" cy="494.9" r="7.2"/>
<circle cx="1611.3" cy="511.8" r="7.2"/>
<circle cx="1270.7" cy="512.9" r="7.2"/>
<circle cx="1454.1" cy="559.1" r="7.2"/>
<circle cx="1405.4" cy="559.8" r="7.2"/>
<circle cx="1435.7" cy="574.1" r="7.2"/>
<circle cx="1469.3" cy="503.3" r="7.2"/>
<circle cx="1692.3" cy="559.3" r="7.2"/>
<circle cx="1517.6" cy="462.2" r="7.2"/>
<circle cx="1282.1" cy="493.9" r="7.2"/>
<circle cx="1653.0" cy="500.6" r="7.2"/>
<circle cx="1443.2" cy="628.5" r="7.2"/>
<circle cx="1643.0" cy="476.2" r="7.2"/>
<circle cx="1641.2" cy="431.6" r="7.2"/>
<circle cx="1715.4" cy="469.3" r="7.2"/>
<circle cx="1721.1" cy="446.2" r="7.2"/>
<circle cx="1467.8" cy="547.9" r="7.2"/>
<circle cx="1416.1" cy="605.7" r="7.2"/>
<circle cx="1660.6" cy="448.1" r="7.2"/>
<circle cx="1633.0" cy="433.2" r="7.2"/>
<circle cx="1520.4" cy="523.5" r="7.2"/>
<circle cx="1258.3" cy="531.4" r="7.2"/>
<circle cx="1300.8" cy="517.5" r="7.2"/>
<circle cx="1518.6" cy="601.3" r="7.2"/>
<circle cx="1543.1" cy="507.6" r="7.2"/>
<circle cx="1662.2" cy="481.9" r="7.2"/>
<circle cx="1700.5" cy="465.7" r="7.2"/>
<circle cx="1301.4" cy="543.0" r="7.2"/>
<circle cx="1292.6" cy="453.2" r="7.2"/>
<circle cx="1422.2" cy="551.9" r="7.2"/>
<circle cx="1243.7" cy="570.8" r="7.2"/>
<circle cx="1378.0" cy="538.9" r="7.2"/>
<circle cx="1626.5" cy="530.5" r="7.2"/>
<circle cx="1574.7" cy="417.4" r="7.2"/>
<circle cx="1514.5" cy="572.9" r="7.2"/>
<circle cx="1271.5" cy="565.0" r="7.2"/>
<circle cx="1695.8" cy="355.4" r="7.2"/>
<circle cx="1594.6" cy="515.3" r="7.2"/>
<circle cx="1278.7" cy="496.6" r="7.2"/>
<circle cx="1351.6" cy="520.5" r="7.2"/>
<circle cx="1399.1" cy="498.8" r="7.2"/>
<circle cx="1493.0" cy="537.1" r="7.2"/>
<circle cx="1440.7" cy="534.3" r="7.2"/>
<circle cx="1353.7" cy="548.5" r="7.2"/>
<circle cx="1707.7" cy="484.8" r="7.2"/>
<circle cx="1555.1" cy="569.6" r="7.2"/>
<circle cx="1349.6" cy="582.3" r="7.2"/>
<circle cx="1636.1" cy="500.8" r="7.2"/>
<circle cx="1298.4" cy="544.7" r="7.2"/>
<circle cx="1485.6" cy="504.6" r="7.2"/>
<circle cx="1403.6" cy="532.7" r="7.2"/>
<circle cx="1437.3" cy="557.4" r="7.2"/>
<circle cx="1290.2" cy="518.4" r="7.2"/>
<circle cx="1458.5" cy="551.7" r="7.2"/>
<circle cx="1506.2" cy="501.5" r="7.2"/>
<circle cx="1450.4" cy="607.4" r="7.2"/>
<circle cx="1457.8" cy="555.7" r="7.2"/>
<circle cx="1459.9" cy="535.8" r="7.2"/>
<circle cx="1743.8" cy="589.0" r="7.2"/>
<circle cx="1664.3" cy="482.9" r="7.2"/>
<circle cx="1285.4" cy="622.9" r="7.2"/>
<circle cx="1341.0" cy="603.0" r="7.2"/>
<circle cx="1637.5" cy="416.3" r="7.2"/>
<circle cx="1567.9" cy="571.6" r="7.2"/>
<circle cx="1655.1" cy="458.9" r="7.2"/>
<circle cx="1242.7" cy="498.7" r="7.2"/>
<circle cx="1245.8" cy="609.6" r="7.2"/>
<circle cx="1578.0" cy="545.3" r="7.2"/>
<circle cx="1703.7" cy="526.0" r="7.2"/>
<circle cx="1572.9" cy="441.0" r="7.2"/>
<circle cx="1436.8" cy="519.9" r="7.2"/>
<circle cx="1642.5" cy="528.6" r="7.2"/>
<circle cx="1518.0" cy="491.0" r="7.2"/>
<circle cx="1494.0" cy="560.7" r="7.2"/>
<circle cx="1293.2" cy="551.0" r="7.2"/>
<circle cx="1474.2" cy="558.6" r="7.2"/>
<circle cx="1701.2" cy="452.6" r="7.2"/>
<circle cx="1462.3" cy="630.5" r="7.2"/>
<circle cx="1385.0" cy="575.3" r="7.2"/>
<circle cx="1551.3" cy="572.2" r="7.2"/>
<circle cx="1550.1" cy="554.3" r="7.2"/>
<circle cx="1266.9" cy="587.8" r="7.2"/>
<circle cx="1650.3" cy="478.8" r="7.2"/>
<circle cx="1568.5" cy="479.4" r="7.2"/>
<circle cx="1314.6" cy="587.9" r="7.2"/>
<circle cx="1339.4" cy="503.5" r="7.2"/>
<circle cx="1350.3" cy="638.7" r="7.2"/>
<circle cx="1580.2" cy="487.8" r="7.2"/>
<circle cx="1276.6" cy="507.7" r="7.2"/>
<circle cx="1263.8" cy="528.6" r="7.2"/>
<circle cx="1606.6" cy="373.2" r="7.2"/>
<circle cx="1474.7" cy="625.3" r="7.2"/>
<circle cx="1491.2" cy="542.5" r="7.2"/>
<circle cx="1543.1" cy="502.6" r="7.2"/>
<circle cx="1651.3" cy="490.9" r="7.2"/>
<circle cx="1443.7" cy="527.1" r="7.2"/>
<circle cx="1746.7" cy="399.9" r="7.2"/>
<circle cx="1565.5" cy="500.3" r="7.2"/>
<circle cx="1386.0" cy="450.3" r="7.2"/>
<circle cx="1404.8" cy="553.9" r="7.2"/>
<circle cx="1303.9" cy="576.0" r="7.2"/>
<circle cx="1229.7" cy="583.8" r="7.2"/>
<circle cx="1818.4" cy="442.9" r="7.2"/>
<circle cx="1794.1" cy="442.5" r="7.2"/>
<circle cx="1781.9" cy="457.4" r="7.2"/>
<circle cx="1402.7" cy="614.3" r="7.2"/>
<circle cx="1402.0" cy="554.2" r="7.2"/>
<circle cx="1283.8" cy="463.5" r="7.2"/>
<circle cx="1587.7" cy="457.9" r="7.2"/>
<circle cx="1347.1" cy="531.4" r="7.2"/>
<circle cx="1662.3" cy="492.6" r="7.2"/>
<circle cx="1504.5" cy="521.7" r="7.2"/>
<circle cx="1300.6" cy="546.1" r="7.2"/>
<circle cx="1400.8" cy="633.5" r="7.2"/>
<circle cx="1531.0" cy="470.4" r="7.2"/>
<circle cx="1606.4" cy="496.3" r="7.2"/>
<circle cx="1548.4" cy="554.7" r="7.2"/>
<circle cx="1570.7" cy="541.8" r="7.2"/>
<circle cx="1340.0" cy="551.4" r="7.2"/>
<circle cx="1699.2" cy="450.3" r="7.2"/>
<circle cx="1358.3" cy="512.4" r="7.2"/>
<circle cx="1385.7" cy="601.8" r="7.2"/>
<circle cx="1235.0" cy="530.5" r="7.2"/>
<circle cx="1372.5" cy="502.9" r="7.2"/>
<circle cx="1272.4" cy="530.0" r="7.2"/>
<circle cx="1563.5" cy="598.5" r="7.2"/>
<circle cx="1267.2" cy="540.2" r="7.2"/>
<circle cx="1416.6" cy="539.7" r="7.2"/>
<circle cx="1485.4" cy="611.2" r="7.2"/>
<circle cx="1540.7" cy="541.9" r="7.2"/>
<circle cx="1409.6" cy="613.1" r="7.2"/>
<circle cx="1630.9" cy="436.8" r="7.2"/>
<circle cx="1610.5" cy="491.1" r="7.2"/>
<circle cx="1251.6" cy="511.1" r="7.2"/>
<circle cx="1268.3" cy="548.7" r="7.2"/>
<circle cx="1625.5" cy="528.3" r="7.2"/>
<circle cx="1355.7" cy="469.9" r="7.2"/>
<circle cx="1754.0" cy="402.6" r="7.2"/>
<circle cx="1318.9" cy="500.0" r="7.2"/>
<circle cx="1408.7" cy="533.9" r="7.2"/>
<circle cx="1428.7" cy="607.7" r="7.2"/>
<circle cx="1472.2" cy="458.8" r="7.2"/>
<circle cx="1800.8" cy="499.9" r="7.2"/>
<circle cx="1760.0" cy="524.1" r="7.2"/>
<circle cx="1547.1" cy="533.6" r="7.2"/>
<circle cx="1251.9" cy="452.5" r="7.2"/>
<circle cx="1534.4" cy="466.2" r="7.2"/>
<circle cx="1400.5" cy="568.1" r="7.2"/>
<circle cx="1380.2" cy="529.4" r="7.2"/>
<circle cx="1387.0" cy="473.2" r="7.2"/>
<circle cx="1559.2" cy="574.0" r="7.2"/>
<circle cx="1462.4" cy="546.5" r="7.2"/>
<circle cx="1249.1" cy="547.6" r="7.2"/>
<circle cx="1674.9" cy="455.8" r="7.2"/>
<circle cx="1557.5" cy="525.8" r="7.2"/>
<circle cx="1705.0" cy="496.2" r="7.2"/>
<circle cx="1553.5" cy="447.4" r="7.2"/>
<circle cx="1664.6" cy="500.3" r="7.2"/>
<circle cx="1606.8" cy="531.8" r="7.2"/>
<circle cx="1345.0" cy="470.6" r="7.2"/>
<circle cx="1456.5" cy="517.3" r="7.2"/>
<circle cx="1635.1" cy="574.2" r="7.2"/>
<circle cx="1648.6" cy="566.9" r="7.2"/>
<circle cx="1253.5" cy="567.2" r="7.2"/>
<circle cx="1548.7" cy="598.0" r="7.2"/>
<circle cx="1288.7" cy="603.8" r="7.2"/>
<circle cx="1597.7" cy="583.6" r="7.2"/>
<circle cx="1602.4" cy="420.5" r="7.2"/>
<circle cx="1311.7" cy="522.5" r="7.2"/>
<circle cx="1621.0" cy="483.8" r="7.2"/>
<circle cx="1625.8" cy="497.4" r="7.2"/>
<circle cx="1716.2" cy="469.7" r="7.2"/>
<circle cx="1449.1" cy="627.2" r="7.2"/>
<circle cx="1333.6" cy="514.6" r="7.2"/>
<circle cx="1368.4" cy="481.4" r="7.2"/>
<circle cx="1733.1" cy="522.6" r="7.2"/>
<circle cx="1247.3" cy="571.3" r="7.2"/>
<circle cx="1649.3" cy="498.2" r="7.2"/>
<circle cx="1388.6" cy="513.2" r="7.2"/>
<circle cx="1651.9" cy="542.8" r="7.2"/>
<circle cx="1460.8" cy="540.0" r="7.2"/>
<circle cx="1496.1" cy="450.1" r="7.2"/>
<circle cx="1787.7" cy="414.7" r="7.2"/>
<circle cx="1618.1" cy="491.7" r="7.2"/>
<circle cx="1564.1" cy="465.2" r="7.2"/>
<circle cx="1393.7" cy="517.4" r="7.2"/>
<circle cx="1265.3" cy="513.1" r="7.2"/>
<circle cx="1644.4" cy="482.5" r="7.2"/>
<circle cx="1378.4" cy="475.8" r="7.2"/>
<circle cx="1501.0" cy="527.2" r="7.2"/>
<circle cx="1313.8" cy="465.6" r="7.2"/>
<circle cx="1493.0" cy="524.2" r="7.2"/>
<circle cx="1274.5" cy="502.1" r="7.2"/>
<circle cx="1603.7" cy="332.2" r="7.2"/>
<circle cx="1636.9" cy="543.0" r="7.2"/>
<circle cx="1410.1" cy="508.5" r="7.2"/>
<circle cx="1279.5" cy="611.4" r="7.2"/>
<circle cx="1576.2" cy="595.9" r="7.2"/>
<circle cx="1747.4" cy="475.4" r="7.2"/>
<circle cx="1604.5" cy="495.4" r="7.2"/>
<circle cx="1558.8" cy="515.3" r="7.2"/>
<circle cx="1486.4" cy="565.9" r="7.2"/>
<circle cx="1253.5" cy="559.6" r="7.2"/>
<circle cx="1730.2" cy="581.6" r="7.2"/>
<circle cx="1529.3" cy="506.6" r="7.2"/>
<circle cx="1283.9" cy="535.4" r="7.2"/>
<circle cx="1390.5" cy="564.9" r="7.2"/>
<circle cx="1559.0" cy="492.1" r="7.2"/>
<circle cx="1697.2" cy="450.5" r="7.2"/>
<circle cx="1550.3" cy="566.1" r="7.2"/>
<circle cx="1441.5" cy="561.7" r="7.2"/>
<circle cx="1636.6" cy="537.3" r="7.2"/>
<circle cx="1629.4" cy="509.4" r="7.2"/>
<circle cx="1462.8" cy="535.0" r="7.2"/>
<circle cx="1338.9" cy="592.5" r="7.2"/>
<circle cx="1559.9" cy="472.8" r="7.2"/>
<circle cx="1696.7" cy="547.8" r="7.2"/>
<circle cx="1524.6" cy="488.9" r="7.2"/>
<circle cx="1367.1" cy="498.3" r="7.2"/>
<circle cx="1450.4" cy="592.1" r="7.2"/>
<circle cx="1473.2" cy="477.8" r="7.2"/>
<circle cx="1314.3" cy="631.9" r="7.2"/>
<circle cx="1425.9" cy="493.0" r="7.2"/>
<circle cx="1487.0" cy="574.2" r="7.2"/>
<circle cx="1396.1" cy="556.2" r="7.2"/>
<circle cx="1648.9" cy="590.2" r="7.2"/>
<circle cx="1529.3" cy="511.4" r="7.2"/>
<circle cx="1457.3" cy="499.5" r="7.2"/>
<circle cx="1462.0" cy="624.4" r="7.2"/>
<circle cx="1508.0" cy="506.2" r="7.2"/>
<circle cx="1703.3" cy="494.9" r="7.2"/>
<circle cx="1393.4" cy="588.9" r="7.2"/>
<circle cx="1299.2" cy="498.8" r="7.2"/>
<circle cx="1704.3" cy="512.3" r="7.2"/>
<circle cx="1235.2" cy="622.2" r="7.2"/>
<circle cx="1511.4" cy="602.2" r="7.2"/>
<circle cx="1437.6" cy="561.3" r="7.2"/>
<circle cx="1496.7" cy="539.7" r="7.2"/>
<circle cx="1678.5" cy="402.8" r="7.2"/>
<circle cx="1632.6" cy="516.5" r="7.2"/>
<circle cx="1601.1" cy="441.8" r="7.2"/>
<circle cx="1471.6" cy="503.2" r="7.2"/>
<circle cx="1560.0" cy="433.4" r="7.2"/>
<circle cx="1439.3" cy="579.5" r="7.2"/>
<circle cx="1699.9" cy="542.7" r="7.2"/>
<circle cx="1559.1" cy="445.7" r="7.2"/>
<circle cx="1316.9" cy="600.0" r="7.2"/>
<circle cx="1457.8" cy="584.5" r="7.2"/>
<circle cx="1535.2" cy="609.2" r="7.2"/>
<circle cx="1356.2" cy="561.4" r="7.2"/>
<circle cx="1326.1" cy="605.3" r="7.2"/>
<circle cx="1560.2" cy="593.3" r="7.2"/>
<circle cx="1437.4" cy="492.4" r="7.2"/>
<circle cx="1731.0" cy="479.2" r="7.2"/>
<circle cx="1646.3" cy="508.3" r="7.2"/>
<circle cx="1550.1" cy="513.6" r="7.2"/>
<circle cx="1415.7" cy="532.4" r="7.2"/>
<circle cx="1554.3" cy="436.9" r="7.2"/>
<circle cx="1370.5" cy="589.5" r="7.2"/>
<circle cx="1580.8" cy="493.7" r="7.2"/>
<circle cx="1646.0" cy="428.2" r="7.2"/>
<circle cx="1451.9" cy="538.6" r="7.2"/>
<circle cx="1654.9" cy="593.9" r="7.2"/>
<circle cx="1260.9" cy="545.5" r="7.2"/>
<circle cx="1303.2" cy="549.5" r="7.2"/>
<circle cx="1487.5" cy="598.3" r="7.2"/>
<circle cx="1398.2" cy="573.9" r="7.2"/>
<circle cx="1277.5" cy="534.3" r="7.2"/>
<circle cx="1588.1" cy="435.5" r="7.2"/>
<circle cx="1798.0" cy="478.2" r="7.2"/>
<circle cx="1275.9" cy="613.6" r="7.2"/>
<circle cx="1718.3" cy="573.4" r="7.2"/>
<circle cx="1523.1" cy="509.9" r="7.2"/>
<circle cx="1284.6" cy="558.8" r="7.2"/>
<circle cx="1456.2" cy="473.8" r="7.2"/>
<circle cx="1390.6" cy="568.4" r="7.2"/>
<circle cx="1325.0" cy="559.9" r="7.2"/>
<circle cx="1678.3" cy="445.8" r="7.2"/>
<circle cx="1809.5" cy="349.6" r="7.2"/>
<circle cx="1245.9" cy="548.7" r="7.2"/>
<circle cx="1299.0" cy="545.6" r="7.2"/>
<circle cx="1455.7" cy="585.9" r="7.2"/>
<circle cx="1385.2" cy="598.0" r="7.2"/>
<circle cx="1564.1" cy="465.8" r="7.2"/>
<circle cx="1323.1" cy="618.6" r="7.2"/>
<circle cx="1319.8" cy="574.1" r="7.2"/>
<circle cx="1566.1" cy="549.3" r="7.2"/>
<circle cx="1469.6" cy="471.8" r="7.2"/>
<circle cx="1536.9" cy="453.4" r="7.2"/>
<circle cx="1476.8" cy="544.1" r="7.2"/>
<circle cx="1668.0" cy="578.0" r="7.2"/>
<circle cx="1334.6" cy="557.1" r="7.2"/>
<circle cx="1627.2" cy="386.0" r="7.2"/>
<circle cx="1235.9" cy="531.1" r="7.2"/>
<circle cx="1715.2" cy="475.9" r="7.2"/>
<circle cx="1264.6" cy="585.6" r="7.2"/>
<circle cx="1540.0" cy="542.1" r="7.2"/>
<circle cx="1250.9" cy="583.9" r="7.2"/>
<circle cx="1388.5" cy="556.3" r="7.2"/>
<circle cx="1457.0" cy="542.8" r="7.2"/>
<circle cx="1676.2" cy="475.3" r="7.2"/>
<circle cx="1554.3" cy="524.6" r="7.2"/>
<circle cx="1362.7" cy="487.0" r="7.2"/>
<circle cx="1572.4" cy="505.4" r="7.2"/>
<circle cx="1337.6" cy="608.3" r="7.2"/>
<circle cx="1591.4" cy="406.9" r="7.2"/>
<circle cx="1507.4" cy="448.0" r="7.2"/>
<circle cx="1289.8" cy="525.9" r="7.2"/>
<circle cx="1531.8" cy="541.2" r="7.2"/>
<circle cx="1770.4" cy="578.2" r="7.2"/>
<circle cx="1783.5" cy="587.3" r="7.2"/>
<circle cx="1367.4" cy="509.2" r="7.2"/>
<circle cx="1284.8" cy="531.9" r="7.2"/>
<circle cx="1463.7" cy="470.1" r="7.2"/>
<circle cx="1346.7" cy="565.1" r="7.2"/>
<circle cx="1321.1" cy="610.7" r="7.2"/>
<circle cx="1492.0" cy="513.3" r="7.2"/>
<circle cx="1344.4" cy="530.5" r="7.2"/>
<circle cx="1238.5" cy="553.1" r="7.2"/>
<circle cx="1258.8" cy="520.1" r="7.2"/>
<circle cx="1527.7" cy="588.0" r="7.2"/>
<circle cx="1541.4" cy="533.0" r="7.2"/>
<circle cx="1623.1" cy="553.3" r="7.2"/>
<circle cx="1585.1" cy="527.8" r="7.2"/>
<circle cx="1689.7" cy="574.4" r="7.2"/>
<circle cx="1473.2" cy="574.3" r="7.2"/>
<circle cx="1244.6" cy="552.8" r="7.2"/>
<circle cx="1427.0" cy="605.0" r="7.2"/>
<circle cx="1488.3" cy="459.3" r="7.2"/>
<circle cx="1384.5" cy="588.9" r="7.2"/>
<circle cx="1415.2" cy="470.8" r="7.2"/>
<circle cx="1249.5" cy="536.3" r="7.2"/>
<circle cx="1702.1" cy="425.9" r="7.2"/>
<circle cx="1407.2" cy="483.5" r="7.2"/>
<circle cx="1507.8" cy="626.0" r="7.2"/>
<circle cx="1480.0" cy="535.9" r="7.2"/>
<circle cx="1415.4" cy="570.9" r="7.2"/>
<circle cx="1531.4" cy="503.3" r="7.2"/>
<circle cx="1463.0" cy="556.3" r="7.2"/>
<circle cx="1633.2" cy="548.8" r="7.2"/>
<circle cx="1291.8" cy="545.3" r="7.2"/>
<circle cx="1474.6" cy="498.2" r="7.2"/>
<circle cx="1406.1" cy="506.5" r="7.2"/>
<circle cx="1346.0" cy="529.2" r="7.2"/>
<circle cx="1386.1" cy="476.9" r="7.2"/>
<circle cx="1593.2" cy="422.2" r="7.2"/>
<circle cx="1257.6" cy="497.8" r="7.2"/>
<circle cx="1781.4" cy="374.0" r="7.2"/>
<circle cx="1545.5" cy="467.5" r="7.2"/>
<circle cx="1452.5" cy="507.0" r="7.2"/>
<circle cx="1570.2" cy="529.2" r="7.2"/>
<circle cx="1464.8" cy="521.7" r="7.2"/>
<circle cx="1504.5" cy="482.3" r="7.2"/>
<circle cx="1311.0" cy="489.8" r="7.2"/>
<circle cx="1508.6" cy="537.3" r="7.2"/>
<circle cx="1515.9" cy="507.4" r="7.2"/>
<circle cx="1252.7" cy="586.7" r="7.2"/>
<circle cx="1239.5" cy="483.9" r="7.2"/>
<circle cx="1255.4" cy="572.5" r="7.2"/>
<circle cx="1412.7" cy="502.5" r="7.2"/>
<circle cx="1485.4" cy="568.7" r="7.2"/>
<circle cx="1306.3" cy="578.7" r="7.2"/>
<circle cx="1533.2" cy="361.1" r="7.2"/>
<circle cx="1365.3" cy="629.5" r="7.2"/>
<circle cx="1747.5" cy="430.6" r="7.2"/>
<circle cx="1602.1" cy="423.7" r="7.2"/>
<circle cx="1401.3" cy="486.5" r="7.2"/>
<circle cx="1237.9" cy="539.4" r="7.2"/>
<circle cx="1687.2" cy="404.7" r="7.2"/>
<circle cx="1526.8" cy="562.1" r="7.2"/>
<circle cx="1259.7" cy="572.4" r="7.2"/>
<circle cx="1592.2" cy="513.7" r="7.2"/>
<circle cx="1638.4" cy="547.7" r="7.2"/>
<circle cx="1380.7" cy="491.2" r="7.2"/>
<circle cx="1457.6" cy="462.9" r="7.2"/>
<circle cx="1389.9" cy="473.4" r="7.2"/>
<circle cx="1403.3" cy="479.0" r="7.2"/>
<circle cx="1281.1" cy="590.2" r="7.2"/>
<circle cx="1347.3" cy="558.0" r="7.2"/>
<circle cx="1549.2" cy="496.8" r="7.2"/>
<circle cx="1264.8" cy="526.2" r="7.2"/>
<circle cx="1437.0" cy="496.7" r="7.2"/>
<circle cx="1312.1" cy="553.3" r="7.2"/>
<circle cx="1559.6" cy="505.3" r="7.2"/>
<circle cx="1637.4" cy="592.8" r="7.2"/>
<circle cx="1439.3" cy="448.3" r="7.2"/>
<circle cx="1704.9" cy="308.6" r="7.2"/>
<circle cx="1346.4" cy="548.7" r="7.2"/>
<circle cx="1316.9" cy="544.0" r="7.2"/>
<circle cx="1681.7" cy="582.2" r="7.2"/>
<circle cx="1362.7" cy="476.1" r="7.2"/>
<circle cx="1294.6" cy="497.8" r="7.2"/>
<circle cx="1418.2" cy="480.1" r="7.2"/>
<circle cx="1574.9" cy="559.0" r="7.2"/>
<circle cx="1438.2" cy="490.9" r="7.2"/>
<circle cx="1419.5" cy="557.3" r="7.2"/>
<circle cx="1471.0" cy="494.2" r="7.2"/>
<circle cx="1621.3" cy="588.1" r="7.2"/>
<circle cx="1421.7" cy="591.5" r="7.2"/>
<circle cx="1670.8" cy="574.2" r="7.2"/>
<circle cx="1618.6" cy="341.7" r="7.2"/>
<circle cx="1569.0" cy="506.9" r="7.2"/>
<circle cx="1345.3" cy="607.2" r="7.2"/>
<circle cx="1446.0" cy="521.2" r="7.2"/>
<circle cx="1539.1" cy="486.5" r="7.2"/>
<circle cx="1659.0" cy="502.0" r="7.2"/>
<circle cx="1738.9" cy="513.8" r="7.2"/>
<circle cx="1416.0" cy="518.3" r="7.2"/>
<circle cx="1591.6" cy="500.0" r="7.2"/>
<circle cx="1529.3" cy="536.7" r="7.2"/>
<circle cx="1451.8" cy="552.0" r="7.2"/>
<circle cx="1263.1" cy="596.5" r="7.2"/>
<circle cx="1256.8" cy="540.2" r="7.2"/>
<circle cx="1706.9" cy="426.2" r="7.2"/>
<circle cx="1551.4" cy="456.0" r="7.2"/>
<circle cx="1577.1" cy="470.9" r="7.2"/>
<circle cx="1442.1" cy="447.8" r="7.2"/>
<circle cx="1231.5" cy="549.3" r="7.2"/>
<circle cx="1430.7" cy="514.6" r="7.2"/>
<circle cx="1581.8" cy="444.1" r="7.2"/>
<circle cx="1308.3" cy="577.6" r="7.2"/>
<circle cx="1388.9" cy="515.6" r="7.2"/>
<circle cx="1538.7" cy="568.3" r="7.2"/>
<circle cx="1504.6" cy="487.4" r="7.2"/>
<circle cx="1339.4" cy="528.6" r="7.2"/>
<circle cx="1319.3" cy="490.5" r="7.2"/>
<circle cx="1546.6" cy="495.9" r="7.2"/>
<circle cx="1348.0" cy="567.4" r="7.2"/>
<circle cx="1755.7" cy="476.2" r="7.2"/>
<circle cx="1391.9" cy="540.7" r="7.2"/>
<circle cx="1561.6" cy="549.3" r="7.2"/>
<circle cx="1396.1" cy="481.3" r="7.2"/>
<circle cx="1603.8" cy="516.7" r="7.2"/>
<circle cx="1307.8" cy="531.5" r="7.2"/>
<circle cx="1237.4" cy="634.2" r="7.2"/>
<circle cx="1664.3" cy="535.0" r="7.2"/>
<circle cx="1361.7" cy="495.7" r="7.2"/>
<circle cx="1597.7" cy="495.4" r="7.2"/>
<circle cx="1252.1" cy="567.5" r="7.2"/>
<circle cx="1448.9" cy="489.0" r="7.2"/>
<circle cx="1512.4" cy="478.2" r="7.2"/>
<circle cx="1258.8" cy="563.0" r="7.2"/>
<circle cx="1294.6" cy="537.3" r="7.2"/>
<circle cx="1805.9" cy="518.7" r="7.2"/>
<circle cx="1503.1" cy="570.5" r="7.2"/>
<circle cx="1741.1" cy="451.8" r="7.2"/>
<circle cx="1445.8" cy="533.8" r="7.2"/>
<circle cx="1740.6" cy="481.0" r="7.2"/>
<circle cx="1395.6" cy="468.5" r="7.2"/>
<circle cx="1405.0" cy="491.5" r="7.2"/>
<circle cx="1565.4" cy="444.3" r="7.2"/>
<circle cx="1606.4" cy="482.8" r="7.2"/>
<circle cx="1817.3" cy="490.1" r="7.2"/>
<circle cx="1415.0" cy="588.0" r="7.2"/>
<circle cx="1392.4" cy="520.6" r="7.2"/>
<circle cx="1461.8" cy="596.5" r="7.2"/>
<circle cx="1616.6" cy="509.3" r="7.2"/>
<circle cx="1355.0" cy="573.8" r="7.2"/>
<circle cx="1506.6" cy="549.5" r="7.2"/>
<circle cx="1442.2" cy="556.0" r="7.2"/>
<circle cx="1242.7" cy="567.4" r="7.2"/>
<circle cx="1317.0" cy="479.4" r="7.2"/>
<circle cx="1645.3" cy="590.1" r="7.2"/>
<circle cx="1796.8" cy="542.8" r="7.2"/>
<circle cx="1354.1" cy="475.5" r="7.2"/>
<circle cx="1468.6" cy="491.8" r="7.2"/>
<circle cx="1369.5" cy="546.3" r="7.2"/>
<circle cx="1533.2" cy="405.4" r="7.2"/>
<circle cx="1457.0" cy="449.3" r="7.2"/>
<circle cx="1365.8" cy="577.7" r="7.2"/>
<circle cx="1698.2" cy="458.7" r="7.2"/>
<circle cx="1466.1" cy="541.5" r="7.2"/>
<circle cx="1605.8" cy="572.0" r="7.2"/>
<circle cx="1272.6" cy="489.2" r="7.2"/>
<circle cx="1274.9" cy="514.7" r="7.2"/>
<circle cx="1783.5" cy="424.5" r="7.2"/>
<circle cx="1758.7" cy="514.6" r="7.2"/>
<circle cx="1238.3" cy="609.4" r="7.2"/>
<circle cx="1412.5" cy="539.1" r="7.2"/>
<circle cx="1560.1" cy="599.0" r="7.2"/>
<circle cx="1551.7" cy="482.7" r="7.2"/>
<circle cx="1531.9" cy="474.4" r="7.2"/>
<circle cx="1606.2" cy="441.9" r="7.2"/>
<circle cx="1510.4" cy="623.6" r="7.2"/>
<circle cx="1754.9" cy="474.4" r="7.2"/>
<circle cx="1539.5" cy="415.1" r="7.2"/>
<circle cx="1479.3" cy="615.7" r="7.2"/>
<circle cx="1574.6" cy="387.3" r="7.2"/>
<circle cx="1385.6" cy="599.1" r="7.2"/>
<circle cx="1567.3" cy="441.4" r="7.2"/>
<circle cx="1653.1" cy="532.2" r="7.2"/>
<circle cx="1680.7" cy="490.8" r="7.2"/>
<circle cx="1290.7" cy="547.3" r="7.2"/>
<circle cx="1375.9" cy="556.4" r="7.2"/>
<circle cx="1641.2" cy="588.6" r="7.2"/>
<circle cx="1255.3" cy="500.5" r="7.2"/>
<circle cx="1440.2" cy="595.5" r="7.2"/>
<circle cx="1716.8" cy="424.1" r="7.2"/>
<circle cx="1591.1" cy="385.9" r="7.2"/>
<circle cx="1591.6" cy="586.5" r="7.2"/>
<circle cx="1296.4" cy="612.2" r="7.2"/>
<circle cx="1487.8" cy="514.5" r="7.2"/>
<circle cx="1595.0" cy="451.7" r="7.2"/>
<circle cx="1596.2" cy="463.9" r="7.2"/>
<circle cx="1370.4" cy="446.2" r="7.2"/>
<circle cx="1411.3" cy="574.5" r="7.2"/>
<circle cx="1487.6" cy="538.4" r="7.2"/>
<circle cx="1416.7" cy="573.9" r="7.2"/>
<circle cx="1417.5" cy="609.3" r="7.2"/>
<circle cx="1405.0" cy="450.9" r="7.2"/>
<circle cx="1422.0" cy="499.7" r="7.2"/>
<circle cx="1373.2" cy="556.0" r="7.2"/>
<circle cx="1369.7" cy="615.6" r="7.2"/>
<circle cx="1331.0" cy="548.4" r="7.2"/>
<circle cx="1575.6" cy="492.3" r="7.2"/>
<circle cx="1702.2" cy="514.2" r="7.2"/>
<circle cx="1546.1" cy="484.3" r="7.2"/>
<circle cx="1745.7" cy="567.3" r="7.2"/>
<circle cx="1755.2" cy="556.9" r="7.2"/>
<circle cx="1365.8" cy="619.7" r="7.2"/>
<circle cx="1469.0" cy="488.7" r="7.2"/>
<circle cx="1678.4" cy="530.1" r="7.2"/>
<circle cx="1422.7" cy="623.1" r="7.2"/>
<circle cx="1292.2" cy="557.2" r="7.2"/>
<circle cx="1557.6" cy="466.8" r="7.2"/>
<circle cx="1518.8" cy="611.1" r="7.2"/>
<circle cx="1515.6" cy="486.1" r="7.2"/>
<circle cx="1617.8" cy="507.3" r="7.2"/>
<circle cx="1360.7" cy="490.7" r="7.2"/>
<circle cx="1433.1" cy="613.4" r="7.2"/>
<circle cx="1497.6" cy="602.7" r="7.2"/>
<circle cx="1594.2" cy="478.9" r="7.2"/>
<circle cx="1407.2" cy="516.9" r="7.2"/>
<circle cx="1366.6" cy="513.1" r="7.2"/>
<circle cx="1578.1" cy="564.3" r="7.2"/>
<circle cx="1623.1" cy="538.5" r="7.2"/>
<circle cx="1431.1" cy="478.4" r="7.2"/>
<circle cx="1613.3" cy="549.8" r="7.2"/>
<circle cx="1429.6" cy="560.8" r="7.2"/>
<circle cx="1298.3" cy="503.6" r="7.2"/>
<circle cx="1447.1" cy="575.6" r="7.2"/>
<circle cx="1624.6" cy="498.1" r="7.2"/>
<circle cx="1385.8" cy="484.8" r="7.2"/>
<circle cx="1278.3" cy="589.5" r="7.2"/>
<circle cx="1435.3" cy="453.1" r="7.2"/>
<circle cx="1588.4" cy="499.7" r="7.2"/>
<circle cx="1494.0" cy="547.1" r="7.2"/>
<circle cx="1271.5" cy="521.1" r="7.2"/>
<circle cx="1775.0" cy="487.5" r="7.2"/>
<circle cx="1421.2" cy="555.5" r="7.2"/>
<circle cx="1393.9" cy="567.8" r="7.2"/>
<circle cx="1319.2" cy="587.2" r="7.2"/>
<circle cx="1420.7" cy="495.0" r="7.2"/>
<circle cx="1426.1" cy="529.5" r="7.2"/>
<circle cx="1565.1" cy="501.4" r="7.2"/>
<circle cx="1346.2" cy="482.0" r="7.2"/>
<circle cx="1491.3" cy="511.0" r="7.2"/>
<circle cx="1611.5" cy="425.2" r="7.2"/>
<circle cx="1325.7" cy="568.5" r="7.2"/>
<circle cx="1563.4" cy="473.6" r="7.2"/>
<circle cx="1564.3" cy="590.0" r="7.2"/>
<circle cx="1576.3" cy="521.7" r="7.2"/>
<circle cx="1406.1" cy="533.5" r="7.2"/>
<circle cx="1343.1" cy="611.6" r="7.2"/>
<circle cx="1255.7" cy="592.0" r="7.2"/>
<circle cx="1678.8" cy="541.5" r="7.2"/>
<circle cx="1566.8" cy="590.1" r="7.2"/>
<circle cx="1693.0" cy="526.7" r="7.2"/>
<circle cx="1402.9" cy="583.5" r="7.2"/>
<circle cx="1367.8" cy="517.6" r="7.2"/>
<circle cx="1573.5" cy="531.0" r="7.2"/>
<circle cx="1504.4" cy="448.9" r="7.2"/>
<circle cx="1614.9" cy="390.5" r="7.2"/>
<circle cx="1365.9" cy="602.2" r="7.2"/>
<circle cx="1434.4" cy="512.2" r="7.2"/>
<circle cx="1444.7" cy="574.1" r="7.2"/>
<circle cx="1558.0" cy="579.2" r="7.2"/>
<circle cx="1696.2" cy="460.1" r="7.2"/>
<circle cx="1458.9" cy="560.3" r="7.2"/>
<circle cx="1231.9" cy="593.5" r="7.2"/>
<circle cx="1598.8" cy="467.6" r="7.2"/>
<circle cx="1623.3" cy="473.2" r="7.2"/>
<circle cx="1284.8" cy="539.5" r="7.2"/>
<circle cx="1300.4" cy="626.5" r="7.2"/>
<circle cx="1573.9" cy="520.3" r="7.2"/>
<circle cx="1644.7" cy="514.9" r="7.2"/>
<circle cx="1441.6" cy="532.0" r="7.2"/>
<circle cx="1583.8" cy="405.8" r="7.2"/>
<circle cx="1476.4" cy="517.7" r="7.2"/>
<circle cx="1753.0" cy="394.6" r="7.2"/>
<circle cx="1275.4" cy="594.4" r="7.2"/>
<circle cx="1590.9" cy="436.7" r="7.2"/>
<circle cx="1278.3" cy="611.3" r="7.2"/>
<circle cx="1286.4" cy="546.8" r="7.2"/>
<circle cx="1513.2" cy="593.5" r="7.2"/>
<circle cx="1478.2" cy="486.7" r="7.2"/>
<circle cx="1339.8" cy="537.6" r="7.2"/>
<circle cx="1564.7" cy="535.8" r="7.2"/>
<circle cx="1545.0" cy="520.7" r="7.2"/>
<circle cx="1521.7" cy="578.4" r="7.2"/>
<circle cx="1577.0" cy="524.4" r="7.2"/>
<circle cx="1574.8" cy="486.5" r="7.2"/>
<circle cx="1503.1" cy="601.2" r="7.2"/>
<circle cx="1608.9" cy="412.3" r="7.2"/>
<circle cx="1666.5" cy="536.8" r="7.2"/>
<circle cx="1291.2" cy="552.8" r="7.2"/>
<circle cx="1657.5" cy="518.8" r="7.2"/>
<circle cx="1447.1" cy="501.4" r="7.2"/>
<circle cx="1838.1" cy="408.5" r="7.2"/>
<circle cx="1490.5" cy="511.8" r="7.2"/>
<circle cx="1612.1" cy="480.5" r="7.2"/>
<circle cx="1578.5" cy="514.8" r="7.2"/>
<circle cx="1438.9" cy="516.0" r="7.2"/>
<circle cx="1252.1" cy="569.1" r="7.2"/>
<circle cx="1586.3" cy="474.1" r="7.2"/>
<circle cx="1354.1" cy="462.9" r="7.2"/>
<circle cx="1587.6" cy="510.6" r="7.2"/>
<circle cx="1325.7" cy="600.0" r="7.2"/>
<circle cx="1483.0" cy="483.1" r="7.2"/>
<circle cx="1523.9" cy="510.4" r="7.2"/>
<circle cx="1631.0" cy="444.5" r="7.2"/>
<circle cx="1348.0" cy="516.3" r="7.2"/>
<circle cx="1300.3" cy="492.0" r="7.2"/>
<circle cx="1504.5" cy="538.3" r="7.2"/>
<circle cx="1730.4" cy="569.3" r="7.2"/>
<circle cx="1578.5" cy="447.6" r="7.2"/>
<circle cx="1652.5" cy="533.2" r="7.2"/>
<circle cx="1438.1" cy="515.8" r="7.2"/>
<circle cx="1428.9" cy="568.7" r="7.2"/>
<circle cx="1575.2" cy="533.5" r="7.2"/>
<circle cx="1350.9" cy="616.6" r="7.2"/>
<circle cx="1371.5" cy="563.6" r="7.2"/>
<circle cx="1591.2" cy="503.3" r="7.2"/>
<circle cx="1399.8" cy="577.3" r="7.2"/>
<circle cx="1584.1" cy="514.0" r="7.2"/>
<circle cx="1257.6" cy="571.0" r="7.2"/>
<circle cx="1715.4" cy="485.0" r="7.2"/>
<circle cx="1342.9" cy="519.9" r="7.2"/>
<circle cx="1565.6" cy="502.8" r="7.2"/>
<circle cx="1277.4" cy="547.4" r="7.2"/>
<circle cx="1419.5" cy="515.2" r="7.2"/>
<circle cx="1693.8" cy="564.4" r="7.2"/>
<circle cx="1471.1" cy="586.7" r="7.2"/>
<circle cx="1818.3" cy="438.6" r="7.2"/>
<circle cx="1236.4" cy="529.6" r="7.2"/>
<circle cx="1645.0" cy="345.4" r="7.2"/>
<circle cx="1442.8" cy="544.8" r="7.2"/>
<circle cx="1291.9" cy="483.7" r="7.2"/>
<circle cx="1386.3" cy="485.2" r="7.2"/>
<circle cx="1672.5" cy="529.5" r="7.2"/>
<circle cx="1328.7" cy="505.7" r="7.2"/>
<circle cx="1510.8" cy="553.1" r="7.2"/>
<circle cx="1348.5" cy="614.4" r="7.2"/>
<circle cx="1287.0" cy="575.8" r="7.2"/>
<circle cx="1482.3" cy="565.4" r="7.2"/>
<circle cx="1311.9" cy="543.1" r="7.2"/>
<circle cx="1429.0" cy="473.8" r="7.2"/>
<circle cx="1488.5" cy="539.3" r="7.2"/>
<circle cx="1545.0" cy="534.2" r="7.2"/>
<circle cx="1582.3" cy="405.6" r="7.2"/>
<circle cx="1246.0" cy="604.9" r="7.2"/>
<circle cx="1417.6" cy="588.8" r="7.2"/>
<circle cx="1400.4" cy="495.1" r="7.2"/>
<circle cx="1365.6" cy="556.7" r="7.2"/>
<circle cx="1522.8" cy="607.2" r="7.2"/>
<circle cx="1323.5" cy="516.6" r="7.2"/>
<circle cx="1471.3" cy="537.1" r="7.2"/>
<circle cx="1290.9" cy="527.7" r="7.2"/>
<circle cx="1489.6" cy="473.7" r="7.2"/>
<circle cx="1480.2" cy="469.7" r="7.2"/>
<circle cx="1803.0" cy="401.3" r="7.2"/>
<circle cx="1334.8" cy="481.0" r="7.2"/>
<circle cx="1587.7" cy="521.7" r="7.2"/>
<circle cx="1271.2" cy="527.6" r="7.2"/>
<circle cx="1270.9" cy="547.8" r="7.2"/>
<circle cx="1630.8" cy="533.5" r="7.2"/>
<circle cx="1255.2" cy="564.4" r="7.2"/>
<circle cx="1671.3" cy="536.9" r="7.2"/>
<circle cx="1349.0" cy="510.1" r="7.2"/>
<circle cx="1316.0" cy="532.0" r="7.2"/>
<circle cx="1812.6" cy="557.8" r="7.2"/>
<circle cx="1547.2" cy="468.3" r="7.2"/>
<circle cx="1677.6" cy="515.4" r="7.2"/>
<circle cx="1297.3" cy="479.7" r="7.2"/>
<circle cx="1594.2" cy="502.5" r="7.2"/>
<circle cx="1239.8" cy="619.5" r="7.2"/>
<circle cx="1542.6" cy="580.2" r="7.2"/>
<circle cx="1754.1" cy="589.8" r="7.2"/>
<circle cx="1308.3" cy="515.2" r="7.2"/>
<circle cx="1404.7" cy="581.2" r="7.2"/>
<circle cx="1534.5" cy="418.9" r="7.2"/>
<circle cx="1257.6" cy="465.9" r="7.2"/>
<circle cx="1306.6" cy="518.8" r="7.2"/>
<circle cx="1471.9" cy="587.0" r="7.2"/>
<circle cx="1453.5" cy="497.6" r="7.2"/>
<circle cx="1296.0" cy="476.6" r="7.2"/>
<circle cx="1549.1" cy="502.6" r="7.2"/>
<circle cx="1601.2" cy="407.3" r="7.2"/>
<circle cx="1563.3" cy="465.7" r="7.2"/>
<circle cx="1547.0" cy="555.7" r="7.2"/>
<circle cx="1479.7" cy="595.8" r="7.2"/>
<circle cx="1502.9" cy="481.1" r="7.2"/>
<circle cx="1296.0" cy="597.5" r="7.2"/>
<circle cx="1658.3" cy="526.5" r="7.2"/>
<circle cx="1612.6" cy="441.9" r="7.2"/>
<circle cx="1439.1" cy="520.6" r="7.2"/>
<circle cx="1674.8" cy="540.7" r="7.2"/>
<circle cx="1319.6" cy="526.7" r="7.2"/>
<circle cx="1400.9" cy="524.9" r="7.2"/>
<circle cx="1338.4" cy="551.4" r="7.2"/>
<circle cx="1497.0" cy="536.5" r="7.2"/>
<circle cx="1333.1" cy="569.5" r="7.2"/>
<circle cx="1269.7" cy="525.6" r="7.2"/>
<circle cx="1698.9" cy="489.1" r="7.2"/>
<circle cx="1336.5" cy="554.4" r="7.2"/>
<circle cx="1320.8" cy="509.8" r="7.2"/>
<circle cx="1506.4" cy="534.1" r="7.2"/>
<circle cx="1346.1" cy="500.8" r="7.2"/>
<circle cx="1775.5" cy="478.9" r="7.2"/>
<circle cx="1551.5" cy="550.7" r="7.2"/>
<circle cx="1581.6" cy="545.1" r="7.2"/>
<circle cx="1436.2" cy="514.9" r="7.2"/>
<circle cx="1788.6" cy="580.1" r="7.2"/>
<circle cx="1392.3" cy="509.2" r="7.2"/>
<circle cx="1349.5" cy="591.3" r="7.2"/>
<circle cx="1465.2" cy="536.9" r="7.2"/>
<circle cx="1492.9" cy="536.2" r="7.2"/>
<circle cx="1639.2" cy="410.6" r="7.2"/>
<circle cx="1635.2" cy="481.8" r="7.2"/>
<circle cx="1569.0" cy="402.5" r="7.2"/>
<circle cx="1239.8" cy="597.9" r="7.2"/>
<circle cx="1556.9" cy="386.9" r="7.2"/>
<circle cx="1665.1" cy="492.9" r="7.2"/>
<circle cx="1586.6" cy="412.5" r="7.2"/>
<circle cx="1296.9" cy="566.4" r="7.2"/>
<circle cx="1687.8" cy="496.1" r="7.2"/>
<circle cx="1344.5" cy="520.8" r="7.2"/>
<circle cx="1645.7" cy="494.9" r="7.2"/>
<circle cx="1322.3" cy="509.9" r="7.2"/>
<circle cx="1511.5" cy="596.7" r="7.2"/>
<circle cx="1623.9" cy="476.8" r="7.2"/>
<circle cx="1277.9" cy="550.0" r="7.2"/>
<circle cx="1258.0" cy="584.7" r="7.2"/>
<circle cx="1408.0" cy="524.9" r="7.2"/>
<circle cx="1479.8" cy="480.2" r="7.2"/>
<circle cx="1577.8" cy="474.4" r="7.2"/>
<circle cx="1354.1" cy="481.0" r="7.2"/>
<circle cx="1443.6" cy="544.8" r="7.2"/>
<circle cx="1662.0" cy="406.8" r="7.2"/>
<circle cx="1256.3" cy="539.9" r="7.2"/>
<circle cx="1437.4" cy="619.7" r="7.2"/>
<circle cx="1580.3" cy="437.9" r="7.2"/>
<circle cx="1290.6" cy="469.0" r="7.2"/>
<circle cx="1336.6" cy="525.0" r="7.2"/>
<circle cx="1533.1" cy="478.3" r="7.2"/>
<circle cx="1254.7" cy="498.0" r="7.2"/>
<circle cx="1567.7" cy="462.2" r="7.2"/>
<circle cx="1456.3" cy="610.9" r="7.2"/>
<circle cx="1532.9" cy="492.0" r="7.2"/>
<circle cx="1424.9" cy="484.2" r="7.2"/>
<circle cx="1658.9" cy="487.1" r="7.2"/>
<circle cx="1278.4" cy="539.4" r="7.2"/>
<circle cx="1506.1" cy="503.0" r="7.2"/>
<circle cx="1320.3" cy="631.8" r="7.2"/>
<circle cx="1712.2" cy="595.6" r="7.2"/>
<circle cx="1610.0" cy="545.4" r="7.2"/>
<circle cx="1343.5" cy="580.3" r="7.2"/>
<circle cx="1261.3" cy="574.7" r="7.2"/>
<circle cx="1278.2" cy="532.9" r="7.2"/>
<circle cx="1274.8" cy="564.6" r="7.2"/>
<circle cx="1709.2" cy="526.3" r="7.2"/>
<circle cx="1293.4" cy="514.9" r="7.2"/>
<circle cx="1695.1" cy="378.7" r="7.2"/>
<circle cx="1685.4" cy="547.8" r="7.2"/>
<circle cx="1304.1" cy="551.0" r="7.2"/>
<circle cx="1493.7" cy="503.2" r="7.2"/>
<circle cx="1574.6" cy="509.7" r="7.2"/>
<circle cx="1617.3" cy="572.8" r="7.2"/>
<circle cx="1418.6" cy="531.6" r="7.2"/>
<circle cx="1372.5" cy="559.8" r="7.2"/>
<circle cx="1453.4" cy="595.6" r="7.2"/>
<circle cx="1692.8" cy="532.3" r="7.2"/>
<circle cx="1686.9" cy="489.2" r="7.2"/>
<circle cx="1737.9" cy="466.8" r="7.2"/>
<circle cx="1509.0" cy="624.1" r="7.2"/>
<circle cx="1438.8" cy="492.8" r="7.2"/>
<circle cx="1603.6" cy="529.6" r="7.2"/>
<circle cx="1346.1" cy="477.2" r="7.2"/>
<circle cx="1473.1" cy="545.0" r="7.2"/>
<circle cx="1560.5" cy="505.6" r="7.2"/>
<circle cx="1818.1" cy="459.2" r="7.2"/>
<circle cx="1752.2" cy="549.0" r="7.2"/>
<circle cx="1784.5" cy="448.9" r="7.2"/>
<circle cx="1632.0" cy="487.2" r="7.2"/>
<circle cx="1705.7" cy="439.1" r="7.2"/>
<circle cx="1299.9" cy="562.2" r="7.2"/>
<circle cx="1458.9" cy="576.7" r="7.2"/>
<circle cx="1709.7" cy="539.2" r="7.2"/>
<circle cx="1595.7" cy="497.1" r="7.2"/>
<circle cx="1486.0" cy="520.1" r="7.2"/>
<circle cx="1352.3" cy="519.0" r="7.2"/>
<circle cx="1315.8" cy="511.8" r="7.2"/>
<circle cx="1793.3" cy="492.7" r="7.2"/>
<circle cx="1450.5" cy="543.0" r="7.2"/>
<circle cx="1613.5" cy="406.3" r="7.2"/>
<circle cx="1414.1" cy="498.6" r="7.2"/>
<circle cx="1744.9" cy="531.1" r="7.2"/>
<circle cx="1417.1" cy="461.9" r="7.2"/>
<circle cx="1372.8" cy="635.0" r="7.2"/>
<circle cx="1529.7" cy="522.1" r="7.2"/>
<circle cx="1817.7" cy="475.2" r="7.2"/>
<circle cx="1375.4" cy="600.1" r="7.2"/>
<circle cx="1659.7" cy="594.9" r="7.2"/>
<circle cx="1604.3" cy="353.3" r="7.2"/>
<circle cx="1258.5" cy="576.4" r="7.2"/>
<circle cx="1379.6" cy="450.7" r="7.2"/>
<circle cx="1707.5" cy="450.9" r="7.2"/>
<circle cx="1612.3" cy="360.6" r="7.2"/>
<circle cx="1530.8" cy="507.3" r="7.2"/>
<circle cx="1615.4" cy="555.4" r="7.2"/>
<circle cx="1813.2" cy="347.3" r="7.2"/>
<circle cx="1458.2" cy="534.5" r="7.2"/>
<circle cx="1307.6" cy="511.0" r="7.2"/>
<circle cx="1271.8" cy="555.9" r="7.2"/>
<circle cx="1585.3" cy="534.8" r="7.2"/>
<circle cx="1634.2" cy="482.0" r="7.2"/>
<circle cx="1785.3" cy="519.9" r="7.2"/>
<circle cx="1733.8" cy="518.8" r="7.2"/>
<circle cx="1412.6" cy="580.3" r="7.2"/>
<circle cx="1325.9" cy="518.0" r="7.2"/>
<circle cx="1399.1" cy="565.6" r="7.2"/>
<circle cx="1384.0" cy="580.2" r="7.2"/>
<circle cx="1403.8" cy="546.1" r="7.2"/>
<circle cx="1534.9" cy="364.5" r="7.2"/>
<circle cx="1499.3" cy="525.8" r="7.2"/>
<circle cx="1349.8" cy="590.9" r="7.2"/>
<circle cx="1382.4" cy="509.9" r="7.2"/>
<circle cx="1479.2" cy="524.3" r="7.2"/>
<circle cx="1502.9" cy="483.4" r="7.2"/>
<circle cx="1676.0" cy="427.6" r="7.2"/>
<circle cx="1242.8" cy="584.7" r="7.2"/>
<circle cx="1714.3" cy="555.1" r="7.2"/>
<circle cx="1696.9" cy="569.7" r="7.2"/>
<circle cx="1625.9" cy="524.4" r="7.2"/>
<circle cx="1396.2" cy="571.5" r="7.2"/>
<circle cx="1742.2" cy="456.6" r="7.2"/>
<circle cx="1512.7" cy="450.7" r="7.2"/>
<circle cx="1397.3" cy="458.9" r="7.2"/>
<circle cx="1301.9" cy="574.2" r="7.2"/>
<circle cx="1654.0" cy="490.8" r="7.2"/>
<circle cx="1404.5" cy="562.0" r="7.2"/>
<circle cx="1566.6" cy="534.2" r="7.2"/>
<circle cx="1569.6" cy="522.7" r="7.2"/>
<circle cx="1424.2" cy="580.0" r="7.2"/>
<circle cx="1640.1" cy="527.7" r="7.2"/>
<circle cx="1607.9" cy="449.9" r="7.2"/>
<circle cx="1261.4" cy="486.0" r="7.2"/>
<circle cx="1318.3" cy="448.1" r="7.2"/>
<circle cx="1659.1" cy="510.2" r="7.2"/>
<circle cx="1596.9" cy="567.0" r="7.2"/>
<circle cx="1526.3" cy="502.0" r="7.2"/>
<circle cx="1486.5" cy="609.7" r="7.2"/>
<circle cx="1520.9" cy="636.1" r="7.2"/>
<circle cx="1772.9" cy="410.6" r="7.2"/>
<circle cx="1428.6" cy="489.7" r="7.2"/>
<circle cx="1661.4" cy="473.7" r="7.2"/>
<circle cx="1684.3" cy="494.2" r="7.2"/>
<circle cx="1592.1" cy="518.4" r="7.2"/>
<circle cx="1286.4" cy="616.8" r="7.2"/>
<circle cx="1570.6" cy="555.3" r="7.2"/>
<circle cx="1399.0" cy="463.1" r="7.2"/>
<circle cx="1262.7" cy="573.4" r="7.2"/>
<circle cx="1408.3" cy="481.2" r="7.2"/>
<circle cx="1274.3" cy="538.1" r="7.2"/>
<circle cx="1267.3" cy="587.4" r="7.2"/>
<circle cx="1372.0" cy="526.3" r="7.2"/>
<circle cx="1296.6" cy="608.2" r="7.2"/>
<circle cx="1262.7" cy="564.9" r="7.2"/>
<circle cx="1350.1" cy="563.7" r="7.2"/>
<circle cx="1553.3" cy="451.5" r="7.2"/>
<circle cx="1406.7" cy="548.0" r="7.2"/>
<circle cx="1394.4" cy="510.1" r="7.2"/>
<circle cx="1407.7" cy="568.9" r="7.2"/>
<circle cx="1586.8" cy="406.0" r="7.2"/>
<circle cx="1662.3" cy="486.8" r="7.2"/>
<circle cx="1520.7" cy="559.8" r="7.2"/>
<circle cx="1456.7" cy="587.3" r="7.2"/>
<circle cx="1738.7" cy="327.5" r="7.2"/>
<circle cx="1471.0" cy="553.1" r="7.2"/>
<circle cx="1247.1" cy="556.8" r="7.2"/>
<circle cx="1574.8" cy="410.1" r="7.2"/>
<circle cx="1595.3" cy="417.7" r="7.2"/>
<circle cx="1668.7" cy="481.5" r="7.2"/>
<circle cx="1453.7" cy="541.0" r="7.2"/>
<circle cx="1328.3" cy="489.9" r="7.2"/>
<circle cx="1633.3" cy="489.8" r="7.2"/>
<circle cx="1574.8" cy="515.5" r="7.2"/>
<circle cx="1785.6" cy="378.4" r="7.2"/>
<circle cx="1407.8" cy="553.1" r="7.2"/>
<circle cx="1542.4" cy="558.7" r="7.2"/>
<circle cx="1324.8" cy="526.9" r="7.2"/>
<circle cx="1491.0" cy="500.7" r="7.2"/>
<circle cx="1547.9" cy="386.2" r="7.2"/>
<circle cx="1376.4" cy="591.1" r="7.2"/>
<circle cx="1332.4" cy="565.8" r="7.2"/>
<circle cx="1606.5" cy="512.4" r="7.2"/>
<circle cx="1615.0" cy="509.2" r="7.2"/>
<circle cx="1385.7" cy="452.9" r="7.2"/>
<circle cx="1614.4" cy="501.0" r="7.2"/>
<circle cx="1594.5" cy="486.9" r="7.2"/>
<circle cx="1288.7" cy="457.5" r="7.2"/>
<circle cx="1242.8" cy="610.5" r="7.2"/>
<circle cx="1546.6" cy="510.6" r="7.2"/>
<circle cx="1606.5" cy="598.8" r="7.2"/>
<circle cx="1265.0" cy="577.8" r="7.2"/>
<circle cx="1664.6" cy="549.6" r="7.2"/>
<circle cx="1347.7" cy="559.1" r="7.2"/>
<circle cx="1357.8" cy="639.4" r="7.2"/>
<circle cx="1408.7" cy="539.6" r="7.2"/>
<circle cx="1276.7" cy="585.0" r="7.2"/>
<circle cx="1583.1" cy="341.5" r="7.2"/>
<circle cx="1316.7" cy="525.6" r="7.2"/>
<circle cx="1588.8" cy="475.5" r="7.2"/>
<circle cx="1268.0" cy="508.3" r="7.2"/>
<circle cx="1369.3" cy="583.3" r="7.2"/>
<circle cx="1334.6" cy="479.1" r="7.2"/>
<circle cx="1562.9" cy="493.1" r="7.2"/>
<circle cx="1526.0" cy="528.6" r="7.2"/>
<circle cx="1396.5" cy="542.8" r="7.2"/>
<circle cx="1777.6" cy="523.4" r="7.2"/>
<circle cx="1374.7" cy="500.6" r="7.2"/>
<circle cx="1367.0" cy="584.0" r="7.2"/>
<circle cx="1391.8" cy="606.6" r="7.2"/>
<circle cx="1497.0" cy="478.2" r="7.2"/>
<circle cx="1360.6" cy="469.2" r="7.2"/>
<circle cx="1475.5" cy="552.2" r="7.2"/>
<circle cx="1508.6" cy="525.3" r="7.2"/>
<circle cx="1531.2" cy="570.4" r="7.2"/>
<circle cx="1347.7" cy="563.1" r="7.2"/>
<circle cx="1555.6" cy="566.9" r="7.2"/>
<circle cx="1754.2" cy="444.7" r="7.2"/>
<circle cx="1583.5" cy="466.8" r="7.2"/>
<circle cx="1309.4" cy="469.7" r="7.2"/>
<circle cx="1382.3" cy="492.8" r="7.2"/>
<circle cx="1510.2" cy="469.7" r="7.2"/>
<circle cx="1722.0" cy="488.3" r="7.2"/>
<circle cx="1565.9" cy="535.5" r="7.2"/>
<circle cx="1387.8" cy="638.6" r="7.2"/>
<circle cx="1331.6" cy="513.7" r="7.2"/>
<circle cx="1577.8" cy="424.5" r="7.2"/>
<circle cx="1484.6" cy="464.0" r="7.2"/>
<circle cx="1256.7" cy="469.3" r="7.2"/>
<circle cx="1582.9" cy="462.2" r="7.2"/>
<circle cx="1398.4" cy="559.5" r="7.2"/>
<circle cx="1531.1" cy="489.2" r="7.2"/>
<circle cx="1701.1" cy="563.2" r="7.2"/>
<circle cx="1371.9" cy="557.8" r="7.2"/>
<circle cx="1671.0" cy="450.1" r="7.2"/>
<circle cx="1637.0" cy="411.4" r="7.2"/>
<circle cx="1355.5" cy="484.2" r="7.2"/>
<circle cx="1545.4" cy="560.9" r="7.2"/>
<circle cx="1612.8" cy="496.2" r="7.2"/>
<circle cx="1320.1" cy="538.9" r="7.2"/>
<circle cx="1282.0" cy="484.0" r="7.2"/>
<circle cx="1574.6" cy="539.8" r="7.2"/>
<circle cx="1629.2" cy="478.0" r="7.2"/>
<circle cx="1464.9" cy="574.3" r="7.2"/>
<circle cx="1288.6" cy="565.4" r="7.2"/>
<circle cx="1565.5" cy="422.8" r="7.2"/>
<circle cx="1512.1" cy="520.0" r="7.2"/>
<circle cx="1715.8" cy="483.0" r="7.2"/>
<circle cx="1307.3" cy="592.8" r="7.2"/>
<circle cx="1404.2" cy="508.2" r="7.2"/>
<circle cx="1586.4" cy="560.2" r="7.2"/>
<circle cx="1307.1" cy="580.3" r="7.2"/>
<circle cx="1298.4" cy="491.0" r="7.2"/>
<circle cx="1534.8" cy="394.0" r="7.2"/>
<circle cx="1479.4" cy="590.2" r="7.2"/>
<circle cx="1653.3" cy="346.8" r="7.2"/>
<circle cx="1388.9" cy="525.0" r="7.2"/>
<circle cx="1500.6" cy="537.5" r="7.2"/>
<circle cx="1335.5" cy="569.3" r="7.2"/>
<circle cx="1456.2" cy="458.5" r="7.2"/>
<circle cx="1598.3" cy="569.9" r="7.2"/>
<circle cx="1574.2" cy="414.0" r="7.2"/>
<circle cx="1694.8" cy="484.0" r="7.2"/>
<circle cx="1488.3" cy="472.4" r="7.2"/>
<circle cx="1471.7" cy="613.6" r="7.2"/>
<circle cx="1441.6" cy="542.3" r="7.2"/>
<circle cx="1592.2" cy="593.5" r="7.2"/>
<circle cx="1442.9" cy="533.0" r="7.2"/>
<circle cx="1644.4" cy="473.8" r="7.2"/>
<circle cx="1517.0" cy="533.6" r="7.2"/>
<circle cx="1272.9" cy="448.1" r="7.2"/>
<circle cx="1477.8" cy="488.9" r="7.2"/>
<circle cx="1544.3" cy="396.1" r="7.2"/>
<circle cx="1510.5" cy="611.2" r="7.2"/>
<circle cx="1582.8" cy="552.5" r="7.2"/>
<circle cx="1320.7" cy="544.0" r="7.2"/>
<circle cx="1521.9" cy="475.0" r="7.2"/>
<circle cx="1333.2" cy="542.7" r="7.2"/>
<circle cx="1424.0" cy="577.6" r="7.2"/>
<circle cx="1365.1" cy="513.4" r="7.2"/>
<circle cx="1483.2" cy="545.5" r="7.2"/>
<circle cx="1253.4" cy="496.4" r="7.2"/>
<circle cx="1580.5" cy="467.9" r="7.2"/>
<circle cx="1716.5" cy="416.3" r="7.2"/>
<circle cx="1675.1" cy="450.9" r="7.2"/>
<circle cx="1445.9" cy="581.4" r="7.2"/>
<circle cx="1628.6" cy="425.7" r="7.2"/>
<circle cx="1397.5" cy="569.5" r="7.2"/>
<circle cx="1310.6" cy="563.5" r="7.2"/>
<circle cx="1428.7" cy="546.5" r="7.2"/>
<circle cx="1301.9" cy="460.0" r="7.2"/>
<circle cx="1376.8" cy="481.8" r="7.2"/>
<circle cx="1660.1" cy="461.8" r="7.2"/>
<circle cx="1311.2" cy="603.0" r="7.2"/>
<circle cx="1252.7" cy="543.5" r="7.2"/>
<circle cx="1586.2" cy="435.8" r="7.2"/>
<circle cx="1578.3" cy="525.4" r="7.2"/>
<circle cx="1422.3" cy="451.9" r="7.2"/>
<circle cx="1476.0" cy="592.1" r="7.2"/>
<circle cx="1284.3" cy="518.6" r="7.2"/>
<circle cx="1364.1" cy="511.3" r="7.2"/>
<circle cx="1270.9" cy="494.5" r="7.2"/>
<circle cx="1413.1" cy="463.5" r="7.2"/>
<circle cx="1364.0" cy="526.2" r="7.2"/>
<circle cx="1403.2" cy="493.7" r="7.2"/>
<circle cx="1276.4" cy="510.3" r="7.2"/>
<circle cx="1445.3" cy="552.4" r="7.2"/>
<circle cx="1356.7" cy="618.4" r="7.2"/>
<circle cx="1411.5" cy="458.7" r="7.2"/>
<circle cx="1532.6" cy="600.9" r="7.2"/>
<circle cx="1472.4" cy="609.0" r="7.2"/>
<circle cx="1325.3" cy="548.5" r="7.2"/>
<circle cx="1270.5" cy="481.3" r="7.2"/>
<circle cx="1318.0" cy="578.7" r="7.2"/>
<circle cx="1464.5" cy="608.6" r="7.2"/>
<circle cx="1313.0" cy="613.1" r="7.2"/>
<circle cx="1564.5" cy="597.6" r="7.2"/>
<circle cx="1447.8" cy="505.6" r="7.2"/>
<circle cx="1483.9" cy="545.0" r="7.2"/>
<circle cx="1235.2" cy="575.4" r="7.2"/>
<circle cx="1584.7" cy="392.8" r="7.2"/>
<circle cx="1391.9" cy="488.6" r="7.2"/>
<circle cx="1327.0" cy="527.5" r="7.2"/>
<circle cx="1659.6" cy="594.4" r="7.2"/>
<circle cx="1657.5" cy="513.8" r="7.2"/>
<circle cx="1589.7" cy="457.4" r="7.2"/>
<circle cx="1307.7" cy="574.4" r="7.2"/>
<circle cx="1339.3" cy="475.8" r="7.2"/>
<circle cx="1313.5" cy="524.0" r="7.2"/>
<circle cx="1637.4" cy="551.0" r="7.2"/>
<circle cx="1349.0" cy="534.7" r="7.2"/>
<circle cx="1767.4" cy="506.6" r="7.2"/>
<circle cx="1471.4" cy="577.3" r="7.2"/>
<circle cx="1267.7" cy="550.1" r="7.2"/>
<circle cx="1822.9" cy="476.1" r="7.2"/>
<circle cx="1541.4" cy="496.7" r="7.2"/>
<circle cx="1303.2" cy="511.2" r="7.2"/>
<circle cx="1581.8" cy="358.5" r="7.2"/>
<circle cx="1712.5" cy="548.6" r="7.2"/>
<circle cx="1342.7" cy="634.9" r="7.2"/>
<circle cx="1376.8" cy="548.7" r="7.2"/>
<circle cx="1498.8" cy="512.5" r="7.2"/>
<circle cx="1755.6" cy="568.1" r="7.2"/>
<circle cx="1650.4" cy="556.4" r="7.2"/>
<circle cx="1588.4" cy="525.5" r="7.2"/>
<circle cx="1444.5" cy="530.0" r="7.2"/>
<circle cx="1668.1" cy="487.8" r="7.2"/>
<circle cx="1284.2" cy="481.0" r="7.2"/>
<circle cx="1280.7" cy="633.8" r="7.2"/>
<circle cx="1439.8" cy="485.7" r="7.2"/>
<circle cx="1630.7" cy="449.2" r="7.2"/>
<circle cx="1364.4" cy="539.3" r="7.2"/>
<circle cx="1329.7" cy="516.9" r="7.2"/>
<circle cx="1451.8" cy="481.7" r="7.2"/>
<circle cx="1400.4" cy="541.2" r="7.2"/>
<circle cx="1416.7" cy="566.6" r="7.2"/>
<circle cx="1378.2" cy="517.7" r="7.2"/>
<circle cx="1575.3" cy="326.2" r="7.2"/>
<circle cx="1609.4" cy="522.0" r="7.2"/>
<circle cx="1352.6" cy="548.4" r="7.2"/>
<circle cx="1560.7" cy="498.2" r="7.2"/>
<circle cx="1596.1" cy="472.1" r="7.2"/>
<circle cx="1649.1" cy="354.8" r="7.2"/>
<circle cx="1276.7" cy="610.9" r="7.2"/>
<circle cx="1580.4" cy="529.4" r="7.2"/>
<circle cx="1663.6" cy="540.3" r="7.2"/>
<circle cx="1455.1" cy="537.0" r="7.2"/>
<circle cx="1736.0" cy="551.0" r="7.2"/>
<circle cx="1482.4" cy="552.3" r="7.2"/>
<circle cx="1255.1" cy="547.2" r="7.2"/>
<circle cx="1723.8" cy="493.0" r="7.2"/>
<circle cx="1663.0" cy="546.8" r="7.2"/>
<circle cx="1259.3" cy="542.7" r="7.2"/>
<circle cx="1506.8" cy="457.1" r="7.2"/>
<circle cx="1546.6" cy="415.4" r="7.2"/>
<circle cx="1558.7" cy="462.9" r="7.2"/>
<circle cx="1444.5" cy="447.0" r="7.2"/>
<circle cx="1663.7" cy="472.7" r="7.2"/>
<circle cx="1553.4" cy="464.6" r="7.2"/>
<circle cx="1252.6" cy="454.5" r="7.2"/>
<circle cx="1300.3" cy="486.4" r="7.2"/>
<circle cx="1296.8" cy="561.8" r="7.2"/>
<circle cx="1618.7" cy="511.1" r="7.2"/>
<circle cx="1507.9" cy="482.7" r="7.2"/>
<circle cx="1653.1" cy="592.7" r="7.2"/>
<circle cx="1603.5" cy="374.2" r="7.2"/>
<circle cx="1235.2" cy="548.9" r="7.2"/>
<circle cx="1451.7" cy="576.3" r="7.2"/>
<circle cx="1247.8" cy="562.7" r="7.2"/>
<circle cx="1306.7" cy="560.1" r="7.2"/>
<circle cx="1379.8" cy="538.5" r="7.2"/>
<circle cx="1366.4" cy="491.7" r="7.2"/>
<circle cx="1505.8" cy="526.4" r="7.2"/>
<circle cx="1232.8" cy="550.4" r="7.2"/>
<circle cx="1428.0" cy="585.6" r="7.2"/>
<circle cx="1551.7" cy="458.5" r="7.2"/>
<circle cx="1397.9" cy="592.0" r="7.2"/>
<circle cx="1604.8" cy="436.9" r="7.2"/>
<circle cx="1771.2" cy="438.3" r="7.2"/>
<circle cx="1383.8" cy="467.6" r="7.2"/>
<circle cx="1540.6" cy="404.2" r="7.2"/>
<circle cx="1754.4" cy="448.7" r="7.2"/>
<circle cx="1594.2" cy="433.6" r="7.2"/>
<circle cx="1292.5" cy="562.5" r="7.2"/>
<circle cx="1633.3" cy="517.6" r="7.2"/>
<circle cx="1757.1" cy="590.1" r="7.2"/>
<circle cx="1499.3" cy="492.8" r="7.2"/>
<circle cx="1734.6" cy="595.7" r="7.2"/>
<circle cx="1768.2" cy="425.3" r="7.2"/>
<circle cx="1560.8" cy="454.3" r="7.2"/>
<circle cx="1539.8" cy="559.3" r="7.2"/>
<circle cx="1500.5" cy="487.2" r="7.2"/>
<circle cx="1545.5" cy="482.1" r="7.2"/>
<circle cx="1272.1" cy="574.3" r="7.2"/>
<circle cx="1659.1" cy="405.5" r="7.2"/>
<circle cx="1762.7" cy="590.1" r="7.2"/>
<circle cx="1605.2" cy="376.2" r="7.2"/>
<circle cx="1293.1" cy="536.3" r="7.2"/>
<circle cx="1555.4" cy="534.0" r="7.2"/>
<circle cx="1804.4" cy="397.3" r="7.2"/>
<circle cx="1308.7" cy="504.6" r="7.2"/>
<circle cx="1357.4" cy="521.4" r="7.2"/>
<circle cx="1367.8" cy="607.9" r="7.2"/>
<circle cx="1636.2" cy="436.7" r="7.2"/>
<circle cx="1411.6" cy="550.3" r="7.2"/>
<circle cx="1496.9" cy="494.9" r="7.2"/>
<circle cx="1655.7" cy="424.7" r="7.2"/>
<circle cx="1256.5" cy="540.3" r="7.2"/>
<circle cx="1259.3" cy="557.3" r="7.2"/>
<circle cx="1794.5" cy="571.1" r="7.2"/>
<circle cx="1698.1" cy="539.9" r="7.2"/>
<circle cx="1676.0" cy="558.1" r="7.2"/>
<circle cx="1447.7" cy="516.3" r="7.2"/>
<circle cx="1518.6" cy="538.7" r="7.2"/>
<circle cx="1598.7" cy="479.4" r="7.2"/>
<circle cx="1248.2" cy="578.6" r="7.2"/>
<circle cx="1457.3" cy="500.3" r="7.2"/>
<circle cx="1531.0" cy="484.6" r="7.2"/>
<circle cx="1241.1" cy="559.3" r="7.2"/>
<circle cx="1746.7" cy="464.9" r="7.2"/>
<circle cx="1723.7" cy="433.3" r="7.2"/>
<circle cx="1325.6" cy="527.0" r="7.2"/>
</g>
<line x1="1220.6" y1="546.2" x2="1855.8" y2="451.5" stroke="#80CDC1" stroke-width="11.5"/>
<path d="M1178.6,44.5 V769.5 H1887.4" fill="none" stroke="#444444" stroke-width="2.2"/>
<line x1="1174.6" y1="73.5" x2="1178.6" y2="73.5" stroke="#444444" stroke-width="2"/>
<line x1="1174.6" y1="235.4" x2="1178.6" y2="235.4" stroke="#444444" stroke-width="2"/>
<line x1="1174.6" y1="397.3" x2="1178.6" y2="397.3" stroke="#444444" stroke-width="2"/>
<line x1="1174.6" y1="559.2" x2="1178.6" y2="559.2" stroke="#444444" stroke-width="2"/>
<line x1="1174.6" y1="721.1" x2="1178.6" y2="721.1" stroke="#444444" stroke-width="2"/>
<line x1="1236.5" y1="769.5" x2="1236.5" y2="773.5" stroke="#444444" stroke-width="2"/>
<line x1="1395.3" y1="769.5" x2="1395.3" y2="773.5" stroke="#444444" stroke-width="2"/>
<line x1="1554.1" y1="769.5" x2="1554.1" y2="773.5" stroke="#444444" stroke-width="2"/>
<line x1="1712.9" y1="769.5" x2="1712.9" y2="773.5" stroke="#444444" stroke-width="2"/>
<line x1="1871.7" y1="769.5" x2="1871.7" y2="773.5" stroke="#444444" stroke-width="2"/>
<text x="1236.5" y="804.5" font-size="37" fill="#4d4d4d" text-anchor="middle" >−2</text>
<text x="1395.3" y="804.5" font-size="37" fill="#4d4d4d" text-anchor="middle" >0</text>
<text x="1554.1" y="804.5" font-size="37" fill="#4d4d4d" text-anchor="middle" >2</text>
<text x="1712.9" y="804.5" font-size="37" fill="#4d4d4d" text-anchor="middle" >4</text>
<text x="1871.7" y="804.5" font-size="37" fill="#4d4d4d" text-anchor="middle" >6</text>
<text x="1171.0" y="88.0" font-size="37" fill="#4d4d4d" text-anchor="end" >6</text>
<text x="1171.0" y="249.9" font-size="37" fill="#4d4d4d" text-anchor="end" >4</text>
<text x="1171.0" y="411.8" font-size="37" fill="#4d4d4d" text-anchor="end" >2</text>
<text x="1171.0" y="573.7" font-size="37" fill="#4d4d4d" text-anchor="end" >0</text>
<text x="1171.0" y="735.6" font-size="37" fill="#4d4d4d" text-anchor="end" >−2</text>
<text x="1534.0" y="845.4" font-size="48" fill="#000" text-anchor="middle" >nsRBNS R, log2</text>
<text transform="translate(1122.5,407.3) rotate(-90)" font-size="48" text-anchor="middle">eCLIP R, log2</text>
<clipPath id="clipc"><rect x="282.2" y="950" width="486.09999999999997" height="750"/></clipPath>
<g clip-path="url(#clipc)">
<path d="M282.0,1662.2 L284.2,1661.0 L286.3,1659.7 L288.2,1658.4 L290.1,1656.9 L291.8,1655.3 L293.4,1653.6 L294.9,1651.8 L296.3,1650.0 L297.6,1648.1 L298.9,1646.1 L300.0,1644.1 L301.1,1642.0 L302.2,1639.9 L303.1,1637.7 L304.1,1635.5 L305.0,1633.3 L305.9,1631.0 L306.7,1628.7 L307.6,1626.4 L308.4,1624.2 L309.2,1621.9 L310.0,1619.6 L310.8,1617.2 L311.5,1614.9 L312.3,1612.6 L313.0,1610.2 L313.8,1607.9 L314.5,1605.6 L315.2,1603.2 L315.9,1600.8 L316.6,1598.5 L317.2,1596.1 L317.9,1593.7 L318.6,1591.3 L319.2,1588.9 L319.8,1586.5 L320.4,1584.2 L321.1,1581.8 L321.7,1579.3 L322.3,1576.9 L322.8,1574.5 L323.4,1572.1 L324.0,1569.7 L324.5,1567.3 L325.1,1564.9 L325.6,1562.5 L326.2,1560.0 L326.7,1557.6 L327.2,1555.2 L327.8,1552.8 L328.3,1550.3 L328.8,1547.9 L329.3,1545.5 L329.8,1543.1 L330.3,1540.6 L330.8,1538.2 L331.3,1535.8 L331.7,1533.4 L332.2,1530.9 L332.7,1528.5 L333.1,1526.1 L333.6,1523.7 L334.0,1521.2 L334.5,1518.8 L334.9,1516.4 L335.4,1514.0 L335.8,1511.5 L336.2,1509.1 L336.7,1506.7 L337.1,1504.3 L337.5,1501.8 L337.9,1499.4 L338.4,1497.0 L338.8,1494.6 L339.2,1492.1 L339.6,1489.7 L340.0,1487.3 L340.4,1484.8 L340.8,1482.4 L341.2,1480.0 L341.6,1477.6 L341.9,1475.1 L342.3,1472.7 L342.7,1470.3 L343.1,1467.9 L343.5,1465.4 L343.9,1463.0 L344.2,1460.6 L344.6,1458.1 L345.0,1455.7 L345.4,1453.3 L345.7,1450.9 L346.1,1448.4 L346.5,1446.0 L346.8,1443.6 L347.2,1441.1 L347.6,1438.7 L347.9,1436.3 L348.3,1433.9 L348.7,1431.4 L349.0,1429.0 L349.4,1426.6 L349.8,1424.1 L350.1,1421.7 L350.5,1419.3 L350.9,1416.9 L351.2,1414.4 L351.6,1412.0 L351.9,1409.6 L352.3,1407.1 L352.7,1404.7 L353.0,1402.3 L353.4,1399.9 L353.8,1397.4 L354.1,1395.0 L354.5,1392.6 L354.9,1390.1 L355.2,1387.7 L355.6,1385.3 L356.0,1382.9 L356.3,1380.4 L356.7,1378.0 L357.1,1375.6 L357.5,1373.1 L357.8,1370.7 L358.2,1368.3 L358.6,1365.9 L359.0,1363.4 L359.3,1361.0 L359.7,1358.6 L360.1,1356.2 L360.5,1353.7 L360.9,1351.3 L361.2,1348.9 L361.6,1346.5 L362.0,1344.0 L362.4,1341.6 L362.8,1339.2 L363.2,1336.8 L363.6,1334.3 L364.0,1331.9 L364.4,1329.5 L364.8,1327.1 L365.2,1324.6 L365.6,1322.2 L366.0,1319.8 L366.4,1317.4 L366.8,1315.0 L367.2,1312.5 L367.6,1310.1 L368.0,1307.7 L368.4,1305.3 L368.9,1302.8 L369.3,1300.4 L369.7,1298.0 L370.1,1295.6 L370.6,1293.2 L371.0,1290.7 L371.4,1288.3 L371.9,1285.9 L372.3,1283.5 L372.8,1281.1 L373.2,1278.7 L373.6,1276.2 L374.1,1273.8 L374.6,1271.4 L375.0,1269.0 L375.5,1266.6 L375.9,1264.2 L376.4,1261.7 L376.9,1259.3 L377.4,1256.9 L377.8,1254.5 L378.3,1252.1 L378.8,1249.7 L379.3,1247.3 L379.8,1244.8 L380.3,1242.4 L380.8,1240.0 L381.3,1237.6 L381.8,1235.2 L382.3,1232.8 L382.8,1230.4 L383.3,1228.0 L383.9,1225.6 L384.4,1223.2 L384.9,1220.7 L385.4,1218.3 L386.0,1215.9 L386.5,1213.5 L387.1,1211.1 L387.6,1208.7 L388.2,1206.3 L388.7,1203.9 L389.3,1201.5 L389.9,1199.1 L390.5,1196.7 L391.0,1194.3 L391.6,1191.9 L392.2,1189.5 L392.8,1187.1 L393.4,1184.7 L394.0,1182.3 L394.6,1179.9 L395.2,1177.5 L395.9,1175.1 L396.5,1172.7 L397.1,1170.3 L397.7,1167.9 L398.4,1165.5 L399.0,1163.1 L399.7,1160.7 L400.4,1158.3 L401.0,1156.0 L401.7,1153.6 L402.4,1151.2 L403.1,1148.8 L403.8,1146.4 L404.5,1144.1 L405.2,1141.7 L406.0,1139.3 L406.7,1137.0 L407.5,1134.6 L408.3,1132.3 L409.0,1130.0 L409.8,1127.6 L410.7,1125.3 L411.5,1123.0 L412.3,1120.7 L413.2,1118.3 L414.0,1116.0 L414.9,1113.8 L415.8,1111.5 L416.7,1109.2 L417.7,1106.9 L418.6,1104.7 L419.6,1102.4 L420.6,1100.2 L421.6,1097.9 L422.6,1095.7 L423.6,1093.5 L424.7,1091.3 L425.8,1089.1 L426.8,1086.9 L428.0,1084.8 L429.1,1082.6 L430.3,1080.5 L431.4,1078.3 L432.6,1076.2 L433.9,1074.1 L435.1,1072.0 L436.4,1069.9 L437.7,1067.9 L439.0,1065.8 L440.3,1063.8 L441.7,1061.7 L443.1,1059.7 L444.5,1057.7 L446.0,1055.8 L447.4,1053.8 L448.9,1051.9 L450.5,1049.9 L452.0,1048.0 L453.6,1046.1 L455.2,1044.3 L456.8,1042.4 L458.5,1040.6 L460.2,1038.8 L461.9,1037.1 L463.6,1035.4 L465.4,1033.7 L467.2,1032.0 L469.0,1030.4 L470.9,1028.8 L472.8,1027.2 L474.7,1025.7 L476.6,1024.2 L478.6,1022.8 L480.6,1021.4 L482.6,1020.0 L484.7,1018.7 L486.8,1017.4 L488.9,1016.2 L491.0,1015.0 L493.2,1013.9 L495.4,1012.8 L497.6,1011.8 L499.9,1010.7 L502.1,1009.8 L504.4,1008.8 L506.7,1007.9 L509.0,1007.0 L511.4,1006.2 L513.7,1005.4 L516.1,1004.6 L518.4,1003.8 L520.8,1003.1 L523.2,1002.3 L525.6,1001.6 L528.0,1000.9 L530.3,1000.2 L532.7,999.6 L535.1,998.9 L537.5,998.3 L539.9,997.7 L542.3,997.1 L544.7,996.5 L547.1,995.9 L549.5,995.4 L551.9,994.8 L554.3,994.3 L556.8,993.8 L559.2,993.3 L561.6,992.8 L564.0,992.3 L566.4,991.9 L568.8,991.4 L571.2,991.0 L573.7,990.6 L576.1,990.2 L578.5,989.8 L580.9,989.4 L583.4,989.0 L585.8,988.7 L588.2,988.3 L590.6,988.0 L593.1,987.7 L595.5,987.4 L597.9,987.1 L600.4,986.8 L602.8,986.6 L605.3,986.3 L607.7,986.1 L610.1,985.8 L612.6,985.6 L615.0,985.4 L617.5,985.2 L619.9,985.0 L622.4,984.9 L624.8,984.7 L627.3,984.5 L629.7,984.4 L632.2,984.3 L634.6,984.2 L637.1,984.1 L639.5,984.0 L642.0,983.9 L644.4,983.8 L646.9,983.7 L649.4,983.7 L651.8,983.6 L654.3,983.6 L656.7,983.5 L659.2,983.5 L661.7,983.5 L664.1,983.4 L666.6,983.4 L669.1,983.4 L671.5,983.4 L674.0,983.4 L676.5,983.4 L678.9,983.4 L681.4,983.5 L683.8,983.5 L686.3,983.5 L688.8,983.5 L691.2,983.6 L693.7,983.6 L696.2,983.6 L698.6,983.7 L701.1,983.7 L703.6,983.7 L706.0,983.8 L708.5,983.8 L711.0,983.8 L713.4,983.9 L715.9,983.9 L718.4,983.9 L720.8,984.0 L723.3,984.0 L725.8,984.0 L728.2,984.1 L730.7,984.1 L733.1,984.1 L735.6,984.1 L738.1,984.1 L740.5,984.1 L743.0,984.1 L745.4,984.1 L747.9,984.1 L750.3,984.1 L752.8,984.1 L755.3,984.0 L757.7,984.0 L760.2,983.9 L762.6,983.9 L765.1,983.8 L767.5,983.8 L770.0,983.7" fill="none" stroke="#8C510A" stroke-width="8.5" stroke-linejoin="round"/>
<path d="M280.2,1666.0 L282.8,1665.5 L285.3,1664.9 L287.6,1664.1 L289.8,1663.1 L291.9,1662.0 L293.8,1660.7 L295.6,1659.3 L297.3,1657.8 L298.9,1656.2 L300.4,1654.5 L301.9,1652.7 L303.2,1650.8 L304.5,1648.9 L305.7,1646.9 L306.9,1644.9 L308.0,1642.8 L309.1,1640.7 L310.2,1638.6 L311.2,1636.5 L312.2,1634.3 L313.2,1632.1 L314.1,1629.9 L315.1,1627.7 L315.9,1625.4 L316.8,1623.2 L317.6,1620.9 L318.4,1618.6 L319.2,1616.3 L320.0,1614.0 L320.7,1611.6 L321.5,1609.3 L322.2,1606.9 L322.9,1604.6 L323.6,1602.2 L324.2,1599.8 L324.9,1597.4 L325.5,1595.0 L326.1,1592.6 L326.8,1590.3 L327.4,1587.9 L328.0,1585.5 L328.6,1583.1 L329.2,1580.7 L329.8,1578.3 L330.3,1575.9 L330.9,1573.5 L331.5,1571.1 L332.1,1568.7 L332.6,1566.4 L333.2,1564.0 L333.7,1561.6 L334.3,1559.2 L334.8,1556.8 L335.4,1554.5 L335.9,1552.1 L336.4,1549.7 L337.0,1547.3 L337.5,1544.9 L338.0,1542.6 L338.5,1540.2 L339.0,1537.8 L339.5,1535.5 L340.0,1533.1 L340.5,1530.7 L341.0,1528.3 L341.5,1526.0 L342.0,1523.6 L342.5,1521.2 L343.0,1518.9 L343.4,1516.5 L343.9,1514.1 L344.4,1511.8 L344.9,1509.4 L345.3,1507.0 L345.8,1504.6 L346.2,1502.3 L346.7,1499.9 L347.1,1497.5 L347.6,1495.2 L348.0,1492.8 L348.5,1490.4 L348.9,1488.1 L349.4,1485.7 L349.8,1483.3 L350.2,1480.9 L350.7,1478.6 L351.1,1476.2 L351.5,1473.8 L351.9,1471.4 L352.4,1469.1 L352.8,1466.7 L353.2,1464.3 L353.6,1461.9 L354.0,1459.5 L354.5,1457.2 L354.9,1454.8 L355.3,1452.4 L355.7,1450.0 L356.1,1447.6 L356.5,1445.2 L356.9,1442.8 L357.3,1440.4 L357.7,1438.0 L358.1,1435.7 L358.5,1433.3 L358.9,1430.9 L359.3,1428.5 L359.7,1426.1 L360.1,1423.7 L360.5,1421.3 L360.9,1418.9 L361.3,1416.5 L361.7,1414.1 L362.1,1411.7 L362.5,1409.3 L362.9,1406.9 L363.3,1404.5 L363.7,1402.1 L364.1,1399.7 L364.5,1397.3 L364.8,1394.9 L365.2,1392.5 L365.6,1390.1 L366.0,1387.7 L366.4,1385.3 L366.8,1382.9 L367.2,1380.5 L367.6,1378.1 L368.0,1375.7 L368.4,1373.3 L368.8,1370.8 L369.2,1368.4 L369.6,1366.0 L370.0,1363.6 L370.5,1361.2 L370.9,1358.8 L371.3,1356.4 L371.7,1354.0 L372.1,1351.6 L372.5,1349.2 L372.9,1346.8 L373.3,1344.4 L373.8,1342.0 L374.2,1339.6 L374.6,1337.2 L375.0,1334.8 L375.5,1332.4 L375.9,1330.0 L376.3,1327.6 L376.8,1325.2 L377.2,1322.9 L377.6,1320.5 L378.1,1318.1 L378.5,1315.7 L379.0,1313.3 L379.4,1310.9 L379.9,1308.5 L380.4,1306.1 L380.8,1303.7 L381.3,1301.3 L381.8,1299.0 L382.2,1296.6 L382.7,1294.2 L383.2,1291.8 L383.7,1289.4 L384.2,1287.1 L384.6,1284.7 L385.1,1282.3 L385.6,1279.9 L386.1,1277.6 L386.6,1275.2 L387.2,1272.8 L387.7,1270.5 L388.2,1268.1 L388.7,1265.7 L389.2,1263.4 L389.8,1261.0 L390.3,1258.6 L390.8,1256.3 L391.4,1253.9 L391.9,1251.6 L392.5,1249.2 L393.1,1246.9 L393.6,1244.5 L394.2,1242.2 L394.8,1239.8 L395.4,1237.5 L395.9,1235.2 L396.5,1232.8 L397.1,1230.5 L397.7,1228.2 L398.4,1225.8 L399.0,1223.5 L399.6,1221.2 L400.2,1218.9 L400.8,1216.5 L401.5,1214.2 L402.1,1211.9 L402.8,1209.6 L403.4,1207.3 L404.1,1205.0 L404.8,1202.6 L405.4,1200.3 L406.1,1198.0 L406.8,1195.7 L407.5,1193.4 L408.1,1191.1 L408.8,1188.8 L409.5,1186.5 L410.2,1184.1 L411.0,1181.8 L411.7,1179.5 L412.4,1177.2 L413.1,1174.9 L413.8,1172.6 L414.6,1170.3 L415.3,1168.0 L416.1,1165.6 L416.8,1163.3 L417.5,1161.0 L418.3,1158.7 L419.1,1156.4 L419.8,1154.0 L420.6,1151.7 L421.4,1149.4 L422.1,1147.1 L422.9,1144.7 L423.7,1142.4 L424.5,1140.1 L425.3,1137.7 L426.1,1135.4 L426.9,1133.0 L427.7,1130.7 L428.5,1128.4 L429.4,1126.0 L430.2,1123.7 L431.1,1121.4 L431.9,1119.0 L432.8,1116.7 L433.7,1114.4 L434.6,1112.1 L435.5,1109.8 L436.5,1107.6 L437.5,1105.3 L438.5,1103.1 L439.5,1100.8 L440.6,1098.6 L441.6,1096.4 L442.7,1094.3 L443.9,1092.1 L445.0,1090.0 L446.2,1087.9 L447.5,1085.8 L448.7,1083.8 L450.0,1081.7 L451.3,1079.7 L452.7,1077.7 L454.1,1075.8 L455.5,1073.8 L456.9,1071.9 L458.4,1070.0 L459.9,1068.2 L461.4,1066.3 L463.0,1064.5 L464.6,1062.7 L466.2,1060.9 L467.8,1059.2 L469.5,1057.4 L471.2,1055.7 L472.9,1054.1 L474.6,1052.4 L476.4,1050.8 L478.2,1049.2 L480.0,1047.6 L481.8,1046.0 L483.6,1044.5 L485.5,1043.0 L487.4,1041.5 L489.3,1040.0 L491.2,1038.5 L493.2,1037.1 L495.1,1035.7 L497.1,1034.3 L499.1,1033.0 L501.2,1031.6 L503.2,1030.3 L505.2,1029.0 L507.3,1027.8 L509.4,1026.5 L511.5,1025.3 L513.6,1024.1 L515.7,1022.9 L517.9,1021.7 L520.0,1020.6 L522.2,1019.5 L524.4,1018.4 L526.6,1017.3 L528.8,1016.3 L531.0,1015.3 L533.2,1014.3 L535.4,1013.3 L537.7,1012.3 L539.9,1011.4 L542.2,1010.5 L544.4,1009.6 L546.7,1008.7 L549.0,1007.9 L551.3,1007.0 L553.6,1006.2 L555.9,1005.5 L558.2,1004.7 L560.5,1004.0 L562.8,1003.2 L565.1,1002.5 L567.4,1001.8 L569.7,1001.2 L572.1,1000.5 L574.4,999.9 L576.7,999.3 L579.1,998.7 L581.4,998.2 L583.8,997.6 L586.1,997.1 L588.5,996.5 L590.9,996.0 L593.2,995.6 L595.6,995.1 L598.0,994.6 L600.4,994.2 L602.8,993.8 L605.1,993.4 L607.5,993.0 L609.9,992.6 L612.3,992.2 L614.7,991.9 L617.1,991.5 L619.5,991.2 L621.9,990.9 L624.4,990.6 L626.8,990.3 L629.2,990.0 L631.6,989.8 L634.0,989.5 L636.4,989.3 L638.9,989.1 L641.3,988.8 L643.7,988.6 L646.2,988.4 L648.6,988.2 L651.0,988.0 L653.4,987.9 L655.9,987.7 L658.3,987.5 L660.8,987.4 L663.2,987.2 L665.6,987.1 L668.1,987.0 L670.5,986.8 L672.9,986.7 L675.4,986.6 L677.8,986.5 L680.3,986.4 L682.7,986.3 L685.1,986.2 L687.6,986.1 L690.0,986.0 L692.5,985.9 L694.9,985.8 L697.3,985.8 L699.8,985.7 L702.2,985.6 L704.6,985.6 L707.1,985.5 L709.5,985.4 L711.9,985.4 L714.4,985.3 L716.8,985.2 L719.2,985.2 L721.7,985.1 L724.1,985.0 L726.5,985.0 L728.9,984.9 L731.3,984.8 L733.8,984.8 L736.2,984.7 L738.6,984.6 L741.0,984.5 L743.4,984.4 L745.8,984.4 L748.2,984.3 L750.6,984.2 L753.0,984.1 L755.4,984.0 L757.8,983.9 L760.2,983.8 L762.6,983.7 L764.9,983.5 L767.3,983.4 L769.7,983.3" fill="none" stroke="#80CDC1" stroke-width="8.5" stroke-linejoin="round"/>
</g>
<path d="M282.2,950.0 V1700.0 H768.3" fill="none" stroke="#444444" stroke-width="2.2"/>
<line x1="278.2" y1="984.3" x2="282.2" y2="984.3" stroke="#444444" stroke-width="2"/>
<line x1="278.2" y1="1154.7" x2="282.2" y2="1154.7" stroke="#444444" stroke-width="2"/>
<line x1="278.2" y1="1325.0" x2="282.2" y2="1325.0" stroke="#444444" stroke-width="2"/>
<line x1="278.2" y1="1495.4" x2="282.2" y2="1495.4" stroke="#444444" stroke-width="2"/>
<line x1="278.2" y1="1665.8" x2="282.2" y2="1665.8" stroke="#444444" stroke-width="2"/>
<line x1="303.0" y1="1700.0" x2="303.0" y2="1704.0" stroke="#444444" stroke-width="2"/>
<line x1="450.2" y1="1700.0" x2="450.2" y2="1704.0" stroke="#444444" stroke-width="2"/>
<line x1="597.4" y1="1700.0" x2="597.4" y2="1704.0" stroke="#444444" stroke-width="2"/>
<line x1="744.6" y1="1700.0" x2="744.6" y2="1704.0" stroke="#444444" stroke-width="2"/>
<text x="273.7" y="998.8" font-size="38" fill="#4d4d4d" text-anchor="end" >1.00</text>
<text x="273.7" y="1169.2" font-size="38" fill="#4d4d4d" text-anchor="end" >0.75</text>
<text x="273.7" y="1339.5" font-size="38" fill="#4d4d4d" text-anchor="end" >0.50</text>
<text x="273.7" y="1509.9" font-size="38" fill="#4d4d4d" text-anchor="end" >0.25</text>
<text x="273.7" y="1680.3" font-size="38" fill="#4d4d4d" text-anchor="end" >0.00</text>
<text x="303.0" y="1734.8" font-size="38" fill="#4d4d4d" text-anchor="middle" >−2</text>
<text x="450.2" y="1734.8" font-size="38" fill="#4d4d4d" text-anchor="middle" >0</text>
<text x="597.4" y="1734.8" font-size="38" fill="#4d4d4d" text-anchor="middle" >2</text>
<text x="744.6" y="1734.8" font-size="38" fill="#4d4d4d" text-anchor="middle" >4</text>
<text x="524.7" y="1779.6" font-size="50.4" fill="#000" text-anchor="middle" >nsRBNS enrichment, log2</text>
<text transform="translate(138.1,1328) rotate(-90)" font-size="50.4" text-anchor="middle">Cumulative fraction</text>
<text x="792.0" y="1279.9" font-size="38.5" fill="#000" text-anchor="start" >No. of</text>
<text x="792.0" y="1321.4" font-size="38.5" fill="#000" text-anchor="start" >NGCAU</text>
<rect x="792.8" y="1352.2" width="19.4" height="8.2" fill="#8C510A"/>
<rect x="792.8" y="1382.0" width="19.4" height="8.2" fill="#80CDC1"/>
<text x="833.5" y="1368.9" font-size="38" fill="#000" text-anchor="start" >0</text>
<text x="833.5" y="1399.9" font-size="38" fill="#000" text-anchor="start" >1–3</text>
<clipPath id="clipd"><rect x="1215.7" y="907" width="510.20000000000005" height="769.2"/></clipPath>
<g clip-path="url(#clipd)">
<path d="M1213.4,1639.4 L1216.0,1638.6 L1218.5,1637.7 L1220.9,1636.7 L1223.1,1635.5 L1225.2,1634.2 L1227.2,1632.7 L1229.1,1631.2 L1230.8,1629.5 L1232.5,1627.8 L1234.1,1626.0 L1235.6,1624.1 L1237.0,1622.1 L1238.3,1620.1 L1239.5,1618.0 L1240.7,1615.9 L1241.9,1613.7 L1243.0,1611.5 L1244.0,1609.3 L1245.1,1607.0 L1246.0,1604.7 L1247.0,1602.4 L1247.9,1600.1 L1248.8,1597.8 L1249.6,1595.5 L1250.4,1593.1 L1251.2,1590.7 L1252.0,1588.3 L1252.7,1585.9 L1253.4,1583.5 L1254.0,1581.1 L1254.7,1578.6 L1255.3,1576.1 L1255.9,1573.7 L1256.5,1571.2 L1257.1,1568.7 L1257.6,1566.2 L1258.2,1563.7 L1258.7,1561.2 L1259.2,1558.7 L1259.7,1556.1 L1260.2,1553.6 L1260.7,1551.1 L1261.2,1548.6 L1261.6,1546.0 L1262.1,1543.5 L1262.5,1540.9 L1263.0,1538.4 L1263.4,1535.9 L1263.9,1533.4 L1264.3,1530.8 L1264.8,1528.3 L1265.2,1525.8 L1265.7,1523.2 L1266.1,1520.7 L1266.6,1518.2 L1267.0,1515.7 L1267.4,1513.1 L1267.9,1510.6 L1268.3,1508.1 L1268.8,1505.6 L1269.2,1503.1 L1269.6,1500.6 L1270.1,1498.0 L1270.5,1495.5 L1270.9,1493.0 L1271.4,1490.5 L1271.8,1488.0 L1272.2,1485.5 L1272.6,1483.0 L1273.1,1480.5 L1273.5,1478.0 L1273.9,1475.4 L1274.4,1472.9 L1274.8,1470.4 L1275.2,1467.9 L1275.6,1465.4 L1276.1,1462.9 L1276.5,1460.4 L1276.9,1457.9 L1277.3,1455.4 L1277.8,1452.9 L1278.2,1450.4 L1278.6,1447.9 L1279.0,1445.4 L1279.5,1442.9 L1279.9,1440.4 L1280.3,1437.9 L1280.7,1435.4 L1281.2,1432.9 L1281.6,1430.4 L1282.0,1428.0 L1282.5,1425.5 L1282.9,1423.0 L1283.3,1420.5 L1283.8,1418.0 L1284.2,1415.5 L1284.6,1413.0 L1285.1,1410.5 L1285.5,1408.0 L1285.9,1405.5 L1286.4,1403.0 L1286.8,1400.5 L1287.3,1398.0 L1287.7,1395.6 L1288.1,1393.1 L1288.6,1390.6 L1289.0,1388.1 L1289.5,1385.6 L1289.9,1383.1 L1290.4,1380.6 L1290.8,1378.1 L1291.3,1375.6 L1291.7,1373.2 L1292.2,1370.7 L1292.7,1368.2 L1293.1,1365.7 L1293.6,1363.2 L1294.0,1360.7 L1294.5,1358.2 L1295.0,1355.7 L1295.4,1353.2 L1295.9,1350.8 L1296.4,1348.3 L1296.9,1345.8 L1297.3,1343.3 L1297.8,1340.8 L1298.3,1338.3 L1298.8,1335.8 L1299.3,1333.3 L1299.7,1330.9 L1300.2,1328.4 L1300.7,1325.9 L1301.2,1323.4 L1301.7,1320.9 L1302.2,1318.4 L1302.7,1315.9 L1303.2,1313.5 L1303.7,1311.0 L1304.2,1308.5 L1304.7,1306.0 L1305.2,1303.5 L1305.7,1301.0 L1306.2,1298.5 L1306.7,1296.1 L1307.2,1293.6 L1307.7,1291.1 L1308.2,1288.6 L1308.7,1286.1 L1309.2,1283.6 L1309.8,1281.2 L1310.3,1278.7 L1310.8,1276.2 L1311.3,1273.7 L1311.8,1271.2 L1312.4,1268.7 L1312.9,1266.3 L1313.4,1263.8 L1314.0,1261.3 L1314.5,1258.8 L1315.0,1256.3 L1315.6,1253.9 L1316.1,1251.4 L1316.7,1248.9 L1317.2,1246.4 L1317.8,1243.9 L1318.3,1241.5 L1318.9,1239.0 L1319.4,1236.5 L1320.0,1234.0 L1320.5,1231.5 L1321.1,1229.1 L1321.6,1226.6 L1322.2,1224.1 L1322.8,1221.6 L1323.3,1219.1 L1323.9,1216.7 L1324.5,1214.2 L1325.0,1211.7 L1325.6,1209.2 L1326.2,1206.7 L1326.8,1204.3 L1327.3,1201.8 L1327.9,1199.3 L1328.5,1196.8 L1329.1,1194.4 L1329.7,1191.9 L1330.3,1189.4 L1330.9,1186.9 L1331.5,1184.5 L1332.1,1182.0 L1332.7,1179.5 L1333.3,1177.0 L1333.9,1174.5 L1334.5,1172.1 L1335.1,1169.6 L1335.7,1167.1 L1336.3,1164.7 L1336.9,1162.2 L1337.5,1159.7 L1338.2,1157.2 L1338.8,1154.8 L1339.4,1152.3 L1340.0,1149.8 L1340.7,1147.3 L1341.3,1144.9 L1341.9,1142.4 L1342.5,1139.9 L1343.2,1137.4 L1343.8,1135.0 L1344.5,1132.5 L1345.1,1130.0 L1345.8,1127.6 L1346.4,1125.1 L1347.1,1122.6 L1347.7,1120.2 L1348.4,1117.7 L1349.1,1115.2 L1349.8,1112.8 L1350.4,1110.3 L1351.1,1107.9 L1351.8,1105.4 L1352.6,1103.0 L1353.3,1100.5 L1354.0,1098.1 L1354.8,1095.7 L1355.5,1093.3 L1356.3,1090.9 L1357.1,1088.4 L1357.9,1086.0 L1358.7,1083.6 L1359.6,1081.3 L1360.4,1078.9 L1361.3,1076.5 L1362.2,1074.2 L1363.1,1071.8 L1364.0,1069.5 L1364.9,1067.1 L1365.9,1064.8 L1366.9,1062.5 L1367.9,1060.2 L1368.9,1057.9 L1370.0,1055.6 L1371.0,1053.3 L1372.1,1051.1 L1373.3,1048.8 L1374.4,1046.6 L1375.6,1044.4 L1376.8,1042.2 L1378.0,1040.0 L1379.3,1037.8 L1380.5,1035.7 L1381.9,1033.5 L1383.2,1031.4 L1384.6,1029.3 L1386.0,1027.2 L1387.4,1025.1 L1388.9,1023.0 L1390.4,1021.0 L1391.9,1019.0 L1393.5,1016.9 L1395.1,1015.0 L1396.7,1013.0 L1398.4,1011.1 L1400.1,1009.1 L1401.8,1007.3 L1403.5,1005.4 L1405.3,1003.6 L1407.1,1001.8 L1409.0,1000.0 L1410.9,998.3 L1412.8,996.6 L1414.7,995.0 L1416.7,993.4 L1418.7,991.8 L1420.7,990.3 L1422.8,988.8 L1424.9,987.4 L1427.0,986.0 L1429.2,984.7 L1431.4,983.4 L1433.6,982.2 L1435.8,981.0 L1438.0,979.8 L1440.3,978.7 L1442.6,977.6 L1444.9,976.5 L1447.3,975.5 L1449.6,974.5 L1452.0,973.5 L1454.3,972.6 L1456.7,971.7 L1459.1,970.8 L1461.5,970.0 L1463.9,969.1 L1466.3,968.3 L1468.7,967.5 L1471.2,966.7 L1473.6,966.0 L1476.0,965.2 L1478.4,964.5 L1480.9,963.8 L1483.3,963.1 L1485.8,962.5 L1488.2,961.8 L1490.7,961.2 L1493.1,960.6 L1495.6,960.0 L1498.1,959.4 L1500.5,958.8 L1503.0,958.3 L1505.5,957.8 L1508.0,957.2 L1510.5,956.7 L1513.0,956.2 L1515.4,955.8 L1517.9,955.3 L1520.4,954.9 L1522.9,954.4 L1525.4,954.0 L1527.9,953.6 L1530.5,953.2 L1533.0,952.8 L1535.5,952.4 L1538.0,952.1 L1540.5,951.7 L1543.0,951.4 L1545.5,951.0 L1548.1,950.7 L1550.6,950.4 L1553.1,950.1 L1555.6,949.8 L1558.2,949.5 L1560.7,949.2 L1563.2,948.9 L1565.7,948.7 L1568.3,948.4 L1570.8,948.2 L1573.3,947.9 L1575.9,947.7 L1578.4,947.4 L1580.9,947.2 L1583.5,947.0 L1586.0,946.8 L1588.5,946.6 L1591.1,946.4 L1593.6,946.2 L1596.1,946.0 L1598.6,945.8 L1601.2,945.6 L1603.7,945.4 L1606.2,945.2 L1608.8,945.0 L1611.3,944.9 L1613.8,944.7 L1616.4,944.6 L1618.9,944.4 L1621.4,944.2 L1624.0,944.1 L1626.5,944.0 L1629.0,943.8 L1631.6,943.7 L1634.1,943.6 L1636.6,943.5 L1639.2,943.3 L1641.7,943.2 L1644.2,943.1 L1646.8,943.0 L1649.3,942.9 L1651.8,942.8 L1654.4,942.7 L1656.9,942.7 L1659.4,942.6 L1662.0,942.5 L1664.5,942.5 L1667.0,942.4 L1669.6,942.3 L1672.1,942.3 L1674.6,942.2 L1677.2,942.2 L1679.7,942.2 L1682.3,942.1 L1684.8,942.1 L1687.3,942.1 L1689.9,942.1 L1692.4,942.1 L1695.0,942.1 L1697.5,942.1 L1700.0,942.1 L1702.6,942.1 L1705.1,942.1 L1707.7,942.1 L1710.2,942.1 L1712.8,942.2 L1715.3,942.2 L1717.8,942.3 L1720.4,942.3 L1722.9,942.3 L1725.5,942.4 L1728.0,942.5" fill="none" stroke="#8C510A" stroke-width="9.2" stroke-linejoin="round"/>
<path d="M1213.2,1639.6 L1216.1,1639.1 L1218.7,1638.4 L1221.2,1637.5 L1223.6,1636.4 L1225.8,1635.2 L1227.8,1633.9 L1229.8,1632.4 L1231.6,1630.8 L1233.3,1629.1 L1234.9,1627.3 L1236.4,1625.4 L1237.8,1623.4 L1239.1,1621.4 L1240.4,1619.3 L1241.6,1617.1 L1242.7,1614.9 L1243.8,1612.7 L1244.9,1610.4 L1245.9,1608.1 L1246.9,1605.8 L1247.9,1603.5 L1248.8,1601.2 L1249.7,1598.8 L1250.6,1596.4 L1251.4,1594.1 L1252.2,1591.6 L1253.0,1589.2 L1253.8,1586.8 L1254.5,1584.3 L1255.2,1581.9 L1255.9,1579.4 L1256.6,1576.9 L1257.2,1574.4 L1257.8,1571.9 L1258.4,1569.4 L1259.0,1566.9 L1259.6,1564.3 L1260.2,1561.8 L1260.7,1559.3 L1261.2,1556.7 L1261.8,1554.2 L1262.3,1551.6 L1262.8,1549.1 L1263.3,1546.5 L1263.7,1543.9 L1264.2,1541.4 L1264.7,1538.8 L1265.1,1536.2 L1265.6,1533.7 L1266.1,1531.1 L1266.5,1528.6 L1267.0,1526.0 L1267.4,1523.5 L1267.8,1520.9 L1268.3,1518.3 L1268.7,1515.8 L1269.1,1513.2 L1269.5,1510.7 L1270.0,1508.1 L1270.4,1505.6 L1270.8,1503.0 L1271.2,1500.5 L1271.6,1497.9 L1272.0,1495.4 L1272.4,1492.8 L1272.8,1490.3 L1273.2,1487.7 L1273.6,1485.2 L1274.0,1482.6 L1274.4,1480.1 L1274.8,1477.5 L1275.2,1475.0 L1275.5,1472.5 L1275.9,1469.9 L1276.3,1467.4 L1276.7,1464.8 L1277.1,1462.3 L1277.4,1459.8 L1277.8,1457.2 L1278.2,1454.7 L1278.6,1452.1 L1278.9,1449.6 L1279.3,1447.1 L1279.7,1444.5 L1280.0,1442.0 L1280.4,1439.4 L1280.8,1436.9 L1281.2,1434.4 L1281.5,1431.8 L1281.9,1429.3 L1282.3,1426.8 L1282.6,1424.2 L1283.0,1421.7 L1283.4,1419.2 L1283.8,1416.6 L1284.1,1414.1 L1284.5,1411.6 L1284.9,1409.0 L1285.3,1406.5 L1285.7,1404.0 L1286.0,1401.4 L1286.4,1398.9 L1286.8,1396.4 L1287.2,1393.8 L1287.6,1391.3 L1288.0,1388.8 L1288.4,1386.2 L1288.8,1383.7 L1289.2,1381.2 L1289.6,1378.6 L1290.0,1376.1 L1290.4,1373.6 L1290.8,1371.1 L1291.2,1368.5 L1291.6,1366.0 L1292.0,1363.5 L1292.4,1360.9 L1292.8,1358.4 L1293.3,1355.9 L1293.7,1353.4 L1294.1,1350.8 L1294.5,1348.3 L1295.0,1345.8 L1295.4,1343.2 L1295.8,1340.7 L1296.3,1338.2 L1296.7,1335.7 L1297.1,1333.1 L1297.6,1330.6 L1298.0,1328.1 L1298.5,1325.6 L1298.9,1323.0 L1299.4,1320.5 L1299.8,1318.0 L1300.3,1315.5 L1300.7,1312.9 L1301.2,1310.4 L1301.6,1307.9 L1302.1,1305.4 L1302.6,1302.8 L1303.0,1300.3 L1303.5,1297.8 L1304.0,1295.3 L1304.4,1292.7 L1304.9,1290.2 L1305.4,1287.7 L1305.9,1285.2 L1306.3,1282.6 L1306.8,1280.1 L1307.3,1277.6 L1307.8,1275.1 L1308.3,1272.6 L1308.8,1270.0 L1309.3,1267.5 L1309.8,1265.0 L1310.3,1262.5 L1310.8,1260.0 L1311.3,1257.4 L1311.8,1254.9 L1312.3,1252.4 L1312.8,1249.9 L1313.3,1247.3 L1313.8,1244.8 L1314.3,1242.3 L1314.8,1239.8 L1315.3,1237.3 L1315.8,1234.8 L1316.4,1232.2 L1316.9,1229.7 L1317.4,1227.2 L1317.9,1224.7 L1318.5,1222.2 L1319.0,1219.6 L1319.5,1217.1 L1320.1,1214.6 L1320.6,1212.1 L1321.1,1209.6 L1321.7,1207.0 L1322.2,1204.5 L1322.8,1202.0 L1323.3,1199.5 L1323.8,1197.0 L1324.4,1194.5 L1324.9,1191.9 L1325.5,1189.4 L1326.1,1186.9 L1326.6,1184.4 L1327.2,1181.9 L1327.7,1179.4 L1328.3,1176.8 L1328.9,1174.3 L1329.4,1171.8 L1330.0,1169.3 L1330.6,1166.8 L1331.1,1164.3 L1331.7,1161.8 L1332.3,1159.2 L1332.8,1156.7 L1333.4,1154.2 L1334.0,1151.7 L1334.6,1149.2 L1335.2,1146.7 L1335.8,1144.2 L1336.3,1141.6 L1336.9,1139.1 L1337.5,1136.6 L1338.1,1134.1 L1338.7,1131.6 L1339.3,1129.1 L1339.9,1126.6 L1340.5,1124.1 L1341.1,1121.5 L1341.7,1119.0 L1342.3,1116.5 L1343.0,1114.0 L1343.6,1111.5 L1344.2,1109.0 L1344.9,1106.5 L1345.6,1104.0 L1346.2,1101.6 L1346.9,1099.1 L1347.6,1096.6 L1348.3,1094.1 L1349.0,1091.7 L1349.7,1089.2 L1350.5,1086.7 L1351.2,1084.3 L1352.0,1081.8 L1352.7,1079.4 L1353.5,1077.0 L1354.4,1074.5 L1355.2,1072.1 L1356.0,1069.7 L1356.9,1067.3 L1357.8,1064.9 L1358.7,1062.5 L1359.6,1060.2 L1360.5,1057.8 L1361.5,1055.4 L1362.5,1053.1 L1363.5,1050.7 L1364.5,1048.4 L1365.6,1046.1 L1366.7,1043.8 L1367.8,1041.5 L1368.9,1039.2 L1370.1,1036.9 L1371.3,1034.7 L1372.5,1032.4 L1373.7,1030.2 L1375.0,1028.0 L1376.3,1025.8 L1377.6,1023.6 L1379.0,1021.4 L1380.4,1019.2 L1381.8,1017.1 L1383.3,1015.0 L1384.8,1012.9 L1386.3,1010.8 L1387.8,1008.7 L1389.4,1006.7 L1391.0,1004.7 L1392.7,1002.7 L1394.4,1000.7 L1396.1,998.8 L1397.8,996.9 L1399.6,995.1 L1401.4,993.3 L1403.3,991.5 L1405.1,989.8 L1407.1,988.1 L1409.0,986.5 L1411.0,984.9 L1413.0,983.3 L1415.1,981.8 L1417.2,980.4 L1419.3,979.0 L1421.5,977.7 L1423.7,976.4 L1425.9,975.2 L1428.1,974.0 L1430.4,972.8 L1432.7,971.8 L1435.1,970.7 L1437.4,969.7 L1439.8,968.7 L1442.2,967.8 L1444.7,966.9 L1447.1,966.1 L1449.6,965.3 L1452.0,964.5 L1454.5,963.7 L1457.0,963.0 L1459.5,962.3 L1462.0,961.6 L1464.6,960.9 L1467.1,960.3 L1469.6,959.7 L1472.1,959.0 L1474.7,958.5 L1477.2,957.9 L1479.7,957.3 L1482.3,956.8 L1484.8,956.2 L1487.3,955.7 L1489.9,955.2 L1492.4,954.7 L1494.9,954.3 L1497.5,953.8 L1500.0,953.4 L1502.5,952.9 L1505.1,952.5 L1507.6,952.1 L1510.2,951.7 L1512.7,951.3 L1515.2,950.9 L1517.8,950.6 L1520.3,950.2 L1522.8,949.9 L1525.4,949.6 L1527.9,949.2 L1530.5,948.9 L1533.0,948.6 L1535.6,948.4 L1538.1,948.1 L1540.7,947.8 L1543.2,947.6 L1545.7,947.3 L1548.3,947.1 L1550.8,946.8 L1553.4,946.6 L1555.9,946.4 L1558.5,946.2 L1561.1,946.0 L1563.6,945.8 L1566.2,945.6 L1568.7,945.4 L1571.3,945.3 L1573.8,945.1 L1576.4,945.0 L1578.9,944.8 L1581.5,944.7 L1584.1,944.5 L1586.6,944.4 L1589.2,944.3 L1591.7,944.1 L1594.3,944.0 L1596.9,943.9 L1599.4,943.8 L1602.0,943.7 L1604.6,943.6 L1607.1,943.5 L1609.7,943.4 L1612.3,943.3 L1614.9,943.2 L1617.4,943.1 L1620.0,943.0 L1622.6,942.9 L1625.1,942.9 L1627.7,942.8 L1630.3,942.7 L1632.9,942.7 L1635.4,942.6 L1638.0,942.5 L1640.6,942.5 L1643.2,942.4 L1645.7,942.4 L1648.3,942.3 L1650.9,942.3 L1653.5,942.2 L1656.0,942.2 L1658.6,942.1 L1661.2,942.1 L1663.8,942.1 L1666.4,942.0 L1668.9,942.0 L1671.5,942.0 L1674.1,941.9 L1676.6,941.9 L1679.2,941.9 L1681.8,941.9 L1684.4,941.9 L1686.9,941.9 L1689.5,941.8 L1692.1,941.8 L1694.6,941.8 L1697.2,941.8 L1699.8,941.8 L1702.3,941.8 L1704.9,941.8 L1707.5,941.8 L1710.0,941.8 L1712.6,941.8 L1715.2,941.8 L1717.7,941.8 L1720.3,941.8 L1722.8,941.8 L1725.4,941.8 L1727.9,941.8" fill="none" stroke="#80CDC1" stroke-width="9.2" stroke-linejoin="round"/>
</g>
<path d="M1215.7,907.0 V1676.2 H1725.9" fill="none" stroke="#444444" stroke-width="2.2"/>
<line x1="1211.7" y1="941.3" x2="1215.7" y2="941.3" stroke="#444444" stroke-width="2"/>
<line x1="1211.7" y1="1116.5" x2="1215.7" y2="1116.5" stroke="#444444" stroke-width="2"/>
<line x1="1211.7" y1="1291.6" x2="1215.7" y2="1291.6" stroke="#444444" stroke-width="2"/>
<line x1="1211.7" y1="1466.8" x2="1215.7" y2="1466.8" stroke="#444444" stroke-width="2"/>
<line x1="1211.7" y1="1641.9" x2="1215.7" y2="1641.9" stroke="#444444" stroke-width="2"/>
<line x1="1238.4" y1="1676.2" x2="1238.4" y2="1680.2" stroke="#444444" stroke-width="2"/>
<line x1="1393.2" y1="1676.2" x2="1393.2" y2="1680.2" stroke="#444444" stroke-width="2"/>
<line x1="1547.9" y1="1676.2" x2="1547.9" y2="1680.2" stroke="#444444" stroke-width="2"/>
<line x1="1702.7" y1="1676.2" x2="1702.7" y2="1680.2" stroke="#444444" stroke-width="2"/>
<text x="1207.2" y="956.1" font-size="39" fill="#4d4d4d" text-anchor="end" >1.00</text>
<text x="1207.2" y="1131.3" font-size="39" fill="#4d4d4d" text-anchor="end" >0.75</text>
<text x="1207.2" y="1306.4" font-size="39" fill="#4d4d4d" text-anchor="end" >0.50</text>
<text x="1207.2" y="1481.6" font-size="39" fill="#4d4d4d" text-anchor="end" >0.25</text>
<text x="1207.2" y="1656.7" font-size="39" fill="#4d4d4d" text-anchor="end" >0.00</text>
<text x="1238.4" y="1712.1" font-size="39" fill="#4d4d4d" text-anchor="middle" >−2</text>
<text x="1393.2" y="1712.1" font-size="39" fill="#4d4d4d" text-anchor="middle" >0</text>
<text x="1547.9" y="1712.1" font-size="39" fill="#4d4d4d" text-anchor="middle" >2</text>
<text x="1702.7" y="1712.1" font-size="39" fill="#4d4d4d" text-anchor="middle" >4</text>
<text x="1469.6" y="1755.8" font-size="51.3" fill="#000" text-anchor="middle" >nsRBNS enrichment, log2</text>
<text transform="translate(1068.1,1294) rotate(-90)" font-size="51.3" text-anchor="middle">Cumulative fraction</text>
<text x="1749.5" y="1245.6" font-size="40" fill="#000" text-anchor="start" >No. of</text>
<text x="1749.5" y="1288.3" font-size="40" fill="#000" text-anchor="start" >AU</text>
<rect x="1750.3" y="1319.9" width="19.4" height="8.2" fill="#8C510A"/>
<rect x="1750.3" y="1350.5" width="19.4" height="8.2" fill="#80CDC1"/>
<text x="1791.0" y="1338.0" font-size="39" fill="#000" text-anchor="start" >0</text>
<text x="1791.0" y="1367.0" font-size="39" fill="#000" text-anchor="start" >1–12</text>
<clipPath id="clipe"><rect x="284.8" y="1861.7" width="483.2" height="752.8"/></clipPath>
<g clip-path="url(#clipe)">
<path d="M281.6,2579.7 L284.1,2579.6 L286.6,2579.5 L289.1,2579.4 L291.6,2579.2 L294.0,2579.0 L296.5,2578.7 L299.0,2578.3 L301.4,2577.9 L303.9,2577.5 L306.3,2577.0 L308.7,2576.4 L311.1,2575.8 L313.5,2575.2 L315.9,2574.5 L318.2,2573.7 L320.6,2572.9 L322.9,2572.1 L325.1,2571.2 L327.4,2570.2 L329.6,2569.2 L331.8,2568.2 L334.0,2567.1 L336.1,2566.0 L338.2,2564.8 L340.3,2563.5 L342.3,2562.3 L344.3,2560.9 L346.2,2559.5 L348.1,2558.1 L350.0,2556.6 L351.8,2555.1 L353.6,2553.5 L355.3,2551.9 L357.0,2550.3 L358.7,2548.6 L360.3,2546.9 L361.9,2545.1 L363.4,2543.3 L364.9,2541.5 L366.4,2539.6 L367.8,2537.7 L369.2,2535.8 L370.6,2533.8 L372.0,2531.8 L373.3,2529.8 L374.6,2527.8 L375.8,2525.7 L377.1,2523.7 L378.3,2521.6 L379.5,2519.5 L380.6,2517.3 L381.8,2515.2 L382.9,2513.0 L384.0,2510.9 L385.1,2508.7 L386.1,2506.5 L387.2,2504.3 L388.2,2502.1 L389.2,2499.9 L390.2,2497.7 L391.1,2495.5 L392.1,2493.3 L393.0,2491.0 L394.0,2488.8 L394.9,2486.6 L395.8,2484.3 L396.6,2482.1 L397.5,2479.8 L398.4,2477.6 L399.2,2475.3 L400.0,2473.0 L400.8,2470.8 L401.6,2468.5 L402.4,2466.2 L403.2,2463.9 L403.9,2461.6 L404.7,2459.4 L405.4,2457.1 L406.2,2454.8 L406.9,2452.5 L407.6,2450.2 L408.3,2447.9 L409.0,2445.5 L409.6,2443.2 L410.3,2440.9 L411.0,2438.6 L411.6,2436.3 L412.3,2433.9 L412.9,2431.6 L413.5,2429.3 L414.1,2427.0 L414.7,2424.6 L415.3,2422.3 L415.9,2419.9 L416.5,2417.6 L417.1,2415.3 L417.7,2412.9 L418.3,2410.6 L418.8,2408.2 L419.4,2405.9 L419.9,2403.5 L420.5,2401.1 L421.1,2398.8 L421.6,2396.4 L422.1,2394.1 L422.7,2391.7 L423.2,2389.4 L423.7,2387.0 L424.3,2384.6 L424.8,2382.3 L425.3,2379.9 L425.9,2377.5 L426.4,2375.2 L426.9,2372.8 L427.4,2370.4 L427.9,2368.1 L428.5,2365.7 L429.0,2363.3 L429.5,2361.0 L430.0,2358.6 L430.5,2356.2 L431.0,2353.9 L431.6,2351.5 L432.1,2349.1 L432.6,2346.8 L433.1,2344.4 L433.6,2342.0 L434.1,2339.6 L434.6,2337.3 L435.1,2334.9 L435.6,2332.5 L436.1,2330.2 L436.6,2327.8 L437.1,2325.4 L437.6,2323.0 L438.1,2320.7 L438.6,2318.3 L439.1,2315.9 L439.6,2313.6 L440.1,2311.2 L440.6,2308.8 L441.1,2306.4 L441.6,2304.1 L442.1,2301.7 L442.6,2299.3 L443.1,2297.0 L443.6,2294.6 L444.1,2292.2 L444.6,2289.8 L445.1,2287.5 L445.6,2285.1 L446.1,2282.7 L446.6,2280.4 L447.1,2278.0 L447.6,2275.6 L448.1,2273.2 L448.6,2270.9 L449.1,2268.5 L449.6,2266.1 L450.1,2263.8 L450.6,2261.4 L451.1,2259.0 L451.5,2256.7 L452.0,2254.3 L452.5,2251.9 L453.0,2249.6 L453.5,2247.2 L454.0,2244.8 L454.5,2242.5 L455.0,2240.1 L455.5,2237.7 L456.0,2235.4 L456.5,2233.0 L457.0,2230.6 L457.5,2228.3 L458.0,2225.9 L458.5,2223.6 L459.0,2221.2 L459.6,2218.8 L460.1,2216.5 L460.6,2214.1 L461.1,2211.8 L461.6,2209.4 L462.1,2207.0 L462.6,2204.7 L463.1,2202.3 L463.6,2200.0 L464.1,2197.6 L464.6,2195.3 L465.2,2192.9 L465.7,2190.6 L466.2,2188.2 L466.7,2185.9 L467.2,2183.5 L467.8,2181.2 L468.3,2178.8 L468.8,2176.5 L469.3,2174.1 L469.9,2171.8 L470.4,2169.5 L470.9,2167.1 L471.4,2164.8 L472.0,2162.4 L472.5,2160.1 L473.0,2157.8 L473.6,2155.4 L474.1,2153.1 L474.7,2150.7 L475.2,2148.4 L475.7,2146.1 L476.3,2143.7 L476.8,2141.4 L477.4,2139.1 L477.9,2136.7 L478.5,2134.4 L479.0,2132.1 L479.5,2129.7 L480.1,2127.4 L480.6,2125.1 L481.2,2122.7 L481.7,2120.4 L482.3,2118.1 L482.8,2115.7 L483.4,2113.4 L483.9,2111.0 L484.5,2108.7 L485.1,2106.4 L485.6,2104.0 L486.2,2101.7 L486.7,2099.3 L487.3,2097.0 L487.8,2094.6 L488.4,2092.3 L488.9,2089.9 L489.5,2087.6 L490.0,2085.2 L490.6,2082.8 L491.1,2080.5 L491.7,2078.1 L492.2,2075.7 L492.8,2073.4 L493.3,2071.0 L493.9,2068.6 L494.4,2066.3 L495.0,2063.9 L495.5,2061.5 L496.0,2059.1 L496.6,2056.7 L497.1,2054.3 L497.7,2051.9 L498.2,2049.5 L498.7,2047.1 L499.3,2044.7 L499.8,2042.3 L500.4,2039.9 L500.9,2037.5 L501.4,2035.0 L502.0,2032.6 L502.5,2030.2 L503.1,2027.8 L503.6,2025.4 L504.2,2023.0 L504.8,2020.6 L505.4,2018.2 L505.9,2015.8 L506.5,2013.4 L507.2,2011.0 L507.8,2008.6 L508.4,2006.2 L509.1,2003.9 L509.8,2001.5 L510.5,1999.2 L511.2,1996.9 L511.9,1994.6 L512.7,1992.3 L513.4,1990.0 L514.2,1987.7 L515.0,1985.5 L515.9,1983.2 L516.8,1981.0 L517.6,1978.8 L518.6,1976.6 L519.5,1974.4 L520.5,1972.3 L521.5,1970.2 L522.5,1968.1 L523.6,1966.0 L524.7,1963.9 L525.9,1961.9 L527.0,1959.9 L528.3,1957.9 L529.5,1955.9 L530.8,1954.0 L532.1,1952.1 L533.5,1950.2 L534.9,1948.4 L536.3,1946.6 L537.8,1944.8 L539.4,1943.1 L541.0,1941.4 L542.6,1939.7 L544.3,1938.0 L546.0,1936.4 L547.8,1934.8 L549.6,1933.3 L551.4,1931.8 L553.3,1930.3 L555.2,1928.9 L557.2,1927.5 L559.1,1926.1 L561.2,1924.8 L563.2,1923.5 L565.3,1922.2 L567.4,1921.0 L569.6,1919.8 L571.7,1918.6 L573.9,1917.5 L576.1,1916.4 L578.3,1915.3 L580.6,1914.3 L582.9,1913.3 L585.1,1912.4 L587.4,1911.5 L589.8,1910.6 L592.1,1909.7 L594.4,1908.9 L596.8,1908.2 L599.1,1907.4 L601.5,1906.7 L603.9,1906.1 L606.2,1905.5 L608.6,1904.9 L611.0,1904.3 L613.4,1903.8 L615.8,1903.3 L618.1,1902.9 L620.5,1902.4 L622.9,1902.0 L625.3,1901.7 L627.7,1901.3 L630.1,1901.0 L632.5,1900.7 L634.9,1900.4 L637.3,1900.1 L639.7,1899.9 L642.1,1899.6 L644.5,1899.4 L646.9,1899.2 L649.3,1899.0 L651.7,1898.8 L654.1,1898.7 L656.5,1898.5 L659.0,1898.3 L661.4,1898.2 L663.8,1898.1 L666.2,1897.9 L668.6,1897.8 L671.0,1897.7 L673.4,1897.6 L675.8,1897.5 L678.2,1897.4 L680.6,1897.3 L683.0,1897.2 L685.4,1897.1 L687.8,1897.1 L690.2,1897.0 L692.7,1896.9 L695.1,1896.9 L697.5,1896.8 L699.9,1896.8 L702.3,1896.7 L704.7,1896.7 L707.1,1896.6 L709.5,1896.6 L711.9,1896.5 L714.4,1896.5 L716.8,1896.5 L719.2,1896.4 L721.6,1896.4 L724.0,1896.4 L726.4,1896.4 L728.8,1896.3 L731.3,1896.3 L733.7,1896.3 L736.1,1896.2 L738.5,1896.2 L740.9,1896.2 L743.4,1896.1 L745.8,1896.1 L748.2,1896.1 L750.6,1896.0 L753.1,1896.0 L755.5,1895.9 L757.9,1895.9 L760.3,1895.8 L762.8,1895.8 L765.2,1895.7 L767.6,1895.6 L770.0,1895.6" fill="none" stroke="#8C510A" stroke-width="8.5" stroke-linejoin="round"/>
<path d="M282.1,2579.5 L284.4,2579.4 L286.7,2579.3 L289.0,2579.2 L291.4,2579.0 L293.8,2578.9 L296.3,2578.7 L298.8,2578.5 L301.3,2578.3 L303.8,2578.1 L306.3,2577.8 L308.8,2577.5 L311.4,2577.1 L313.9,2576.8 L316.4,2576.3 L318.9,2575.9 L321.4,2575.3 L323.8,2574.8 L326.2,2574.1 L328.6,2573.4 L331.0,2572.7 L333.3,2571.8 L335.6,2570.9 L337.8,2569.9 L339.9,2568.9 L342.0,2567.7 L344.0,2566.5 L346.0,2565.2 L347.9,2563.8 L349.7,2562.3 L351.4,2560.7 L353.1,2559.1 L354.7,2557.4 L356.3,2555.7 L357.8,2553.8 L359.3,2552.0 L360.7,2550.0 L362.1,2548.1 L363.4,2546.1 L364.7,2544.0 L365.9,2541.9 L367.2,2539.8 L368.3,2537.7 L369.5,2535.5 L370.6,2533.3 L371.6,2531.1 L372.7,2528.9 L373.7,2526.7 L374.7,2524.4 L375.7,2522.1 L376.7,2519.9 L377.6,2517.6 L378.6,2515.3 L379.5,2513.0 L380.4,2510.7 L381.3,2508.4 L382.2,2506.1 L383.1,2503.8 L384.0,2501.5 L384.9,2499.2 L385.7,2496.9 L386.6,2494.6 L387.4,2492.3 L388.3,2490.0 L389.1,2487.7 L390.0,2485.4 L390.8,2483.1 L391.6,2480.8 L392.4,2478.5 L393.2,2476.1 L394.0,2473.8 L394.8,2471.5 L395.6,2469.2 L396.4,2466.9 L397.1,2464.5 L397.9,2462.2 L398.7,2459.9 L399.4,2457.5 L400.1,2455.2 L400.9,2452.9 L401.6,2450.5 L402.3,2448.2 L403.1,2445.9 L403.8,2443.5 L404.5,2441.2 L405.2,2438.9 L405.9,2436.5 L406.6,2434.2 L407.3,2431.8 L407.9,2429.5 L408.6,2427.1 L409.3,2424.8 L409.9,2422.4 L410.6,2420.1 L411.3,2417.7 L411.9,2415.4 L412.6,2413.0 L413.2,2410.6 L413.8,2408.3 L414.5,2405.9 L415.1,2403.6 L415.7,2401.2 L416.3,2398.8 L416.9,2396.5 L417.5,2394.1 L418.1,2391.7 L418.7,2389.4 L419.3,2387.0 L419.9,2384.6 L420.5,2382.3 L421.1,2379.9 L421.7,2377.5 L422.2,2375.1 L422.8,2372.7 L423.4,2370.4 L423.9,2368.0 L424.5,2365.6 L425.0,2363.2 L425.6,2360.8 L426.1,2358.5 L426.7,2356.1 L427.2,2353.7 L427.8,2351.3 L428.3,2348.9 L428.8,2346.5 L429.4,2344.1 L429.9,2341.8 L430.4,2339.4 L431.0,2337.0 L431.5,2334.6 L432.0,2332.2 L432.5,2329.8 L433.0,2327.4 L433.5,2325.0 L434.1,2322.6 L434.6,2320.2 L435.1,2317.8 L435.6,2315.4 L436.1,2313.0 L436.6,2310.6 L437.1,2308.2 L437.6,2305.8 L438.1,2303.4 L438.6,2301.0 L439.1,2298.6 L439.6,2296.2 L440.1,2293.8 L440.6,2291.4 L441.0,2289.0 L441.5,2286.6 L442.0,2284.2 L442.5,2281.8 L443.0,2279.4 L443.5,2277.0 L444.0,2274.6 L444.5,2272.2 L445.0,2269.8 L445.5,2267.4 L445.9,2265.0 L446.4,2262.6 L446.9,2260.2 L447.4,2257.8 L447.9,2255.4 L448.4,2253.0 L448.9,2250.6 L449.4,2248.2 L449.9,2245.8 L450.3,2243.4 L450.8,2241.0 L451.3,2238.6 L451.8,2236.2 L452.3,2233.8 L452.8,2231.4 L453.3,2229.0 L453.8,2226.6 L454.3,2224.2 L454.8,2221.8 L455.3,2219.4 L455.8,2217.0 L456.3,2214.6 L456.8,2212.2 L457.4,2209.8 L457.9,2207.4 L458.4,2205.0 L458.9,2202.6 L459.4,2200.2 L459.9,2197.8 L460.5,2195.4 L461.0,2193.0 L461.5,2190.6 L462.0,2188.2 L462.6,2185.8 L463.1,2183.4 L463.7,2181.1 L464.2,2178.7 L464.7,2176.3 L465.3,2173.9 L465.8,2171.5 L466.4,2169.1 L467.0,2166.7 L467.5,2164.3 L468.1,2161.9 L468.7,2159.6 L469.2,2157.2 L469.8,2154.8 L470.4,2152.4 L471.0,2150.0 L471.5,2147.7 L472.1,2145.3 L472.7,2142.9 L473.3,2140.5 L473.9,2138.1 L474.5,2135.8 L475.1,2133.4 L475.7,2131.0 L476.3,2128.6 L476.9,2126.2 L477.5,2123.9 L478.1,2121.5 L478.6,2119.1 L479.2,2116.7 L479.8,2114.4 L480.4,2112.0 L481.0,2109.6 L481.6,2107.2 L482.2,2104.9 L482.8,2102.5 L483.4,2100.1 L484.0,2097.7 L484.6,2095.4 L485.2,2093.0 L485.8,2090.6 L486.4,2088.2 L486.9,2085.9 L487.5,2083.5 L488.1,2081.1 L488.7,2078.7 L489.2,2076.3 L489.8,2074.0 L490.4,2071.6 L490.9,2069.2 L491.5,2066.8 L492.0,2064.5 L492.6,2062.1 L493.1,2059.7 L493.7,2057.3 L494.2,2054.9 L494.8,2052.5 L495.3,2050.2 L495.8,2047.8 L496.3,2045.4 L496.8,2043.0 L497.3,2040.6 L497.8,2038.2 L498.3,2035.8 L498.8,2033.4 L499.3,2031.0 L499.8,2028.7 L500.3,2026.3 L500.8,2023.9 L501.3,2021.5 L501.8,2019.1 L502.3,2016.7 L502.8,2014.3 L503.3,2011.9 L503.8,2009.5 L504.4,2007.1 L504.9,2004.7 L505.4,2002.3 L506.0,1999.9 L506.5,1997.5 L507.1,1995.1 L507.6,1992.7 L508.2,1990.3 L508.8,1987.8 L509.4,1985.4 L510.0,1983.0 L510.7,1980.6 L511.3,1978.2 L512.0,1975.8 L512.7,1973.4 L513.5,1971.1 L514.2,1968.7 L515.0,1966.4 L515.9,1964.0 L516.7,1961.7 L517.6,1959.5 L518.6,1957.2 L519.5,1955.0 L520.6,1952.8 L521.7,1950.6 L522.8,1948.5 L524.0,1946.4 L525.2,1944.3 L526.5,1942.3 L527.8,1940.3 L529.2,1938.4 L530.7,1936.5 L532.2,1934.7 L533.8,1932.9 L535.5,1931.2 L537.2,1929.5 L538.9,1927.9 L540.7,1926.3 L542.6,1924.8 L544.6,1923.4 L546.6,1922.0 L548.6,1920.7 L550.7,1919.4 L552.8,1918.2 L555.0,1917.1 L557.2,1915.9 L559.4,1914.9 L561.7,1913.8 L564.0,1912.9 L566.3,1911.9 L568.6,1911.0 L570.9,1910.1 L573.2,1909.2 L575.6,1908.4 L577.9,1907.6 L580.3,1906.8 L582.6,1906.1 L585.0,1905.4 L587.3,1904.7 L589.7,1904.0 L592.1,1903.4 L594.4,1902.8 L596.8,1902.2 L599.2,1901.6 L601.6,1901.1 L604.0,1900.6 L606.4,1900.1 L608.8,1899.6 L611.1,1899.2 L613.5,1898.7 L615.9,1898.3 L618.4,1898.0 L620.8,1897.6 L623.2,1897.3 L625.6,1897.0 L628.0,1896.7 L630.4,1896.4 L632.8,1896.2 L635.3,1896.0 L637.7,1895.8 L640.1,1895.6 L642.6,1895.4 L645.0,1895.3 L647.4,1895.1 L649.9,1895.0 L652.3,1894.9 L654.8,1894.8 L657.2,1894.7 L659.6,1894.7 L662.1,1894.6 L664.5,1894.6 L667.0,1894.6 L669.4,1894.6 L671.9,1894.6 L674.3,1894.6 L676.8,1894.6 L679.3,1894.6 L681.7,1894.6 L684.2,1894.7 L686.6,1894.7 L689.1,1894.8 L691.5,1894.8 L694.0,1894.9 L696.5,1894.9 L698.9,1895.0 L701.4,1895.0 L703.8,1895.1 L706.3,1895.2 L708.8,1895.2 L711.2,1895.3 L713.7,1895.4 L716.1,1895.4 L718.6,1895.5 L721.1,1895.5 L723.5,1895.6 L726.0,1895.6 L728.4,1895.7 L730.9,1895.7 L733.3,1895.7 L735.8,1895.7 L738.2,1895.7 L740.7,1895.7 L743.1,1895.7 L745.6,1895.7 L748.0,1895.7 L750.5,1895.6 L752.9,1895.5 L755.3,1895.5 L757.8,1895.4 L760.2,1895.3 L762.6,1895.2 L765.1,1895.0 L767.5,1894.9 L769.9,1894.7" fill="none" stroke="#80CDC1" stroke-width="8.5" stroke-linejoin="round"/>
</g>
<path d="M284.8,1861.7 V2614.5 H768.0" fill="none" stroke="#444444" stroke-width="2.2"/>
<line x1="280.8" y1="1894.9" x2="284.8" y2="1894.9" stroke="#444444" stroke-width="2"/>
<line x1="280.8" y1="2066.1" x2="284.8" y2="2066.1" stroke="#444444" stroke-width="2"/>
<line x1="280.8" y1="2237.2" x2="284.8" y2="2237.2" stroke="#444444" stroke-width="2"/>
<line x1="280.8" y1="2408.4" x2="284.8" y2="2408.4" stroke="#444444" stroke-width="2"/>
<line x1="280.8" y1="2579.6" x2="284.8" y2="2579.6" stroke="#444444" stroke-width="2"/>
<line x1="306.6" y1="2614.5" x2="306.6" y2="2618.5" stroke="#444444" stroke-width="2"/>
<line x1="453.4" y1="2614.5" x2="453.4" y2="2618.5" stroke="#444444" stroke-width="2"/>
<line x1="600.1" y1="2614.5" x2="600.1" y2="2618.5" stroke="#444444" stroke-width="2"/>
<line x1="746.9" y1="2614.5" x2="746.9" y2="2618.5" stroke="#444444" stroke-width="2"/>
<text x="276.3" y="1909.4" font-size="38" fill="#4d4d4d" text-anchor="end" >1.00</text>
<text x="276.3" y="2080.6" font-size="38" fill="#4d4d4d" text-anchor="end" >0.75</text>
<text x="276.3" y="2251.7" font-size="38" fill="#4d4d4d" text-anchor="end" >0.50</text>
<text x="276.3" y="2422.9" font-size="38" fill="#4d4d4d" text-anchor="end" >0.25</text>
<text x="276.3" y="2594.1" font-size="38" fill="#4d4d4d" text-anchor="end" >0.00</text>
<text x="306.6" y="2650.2" font-size="38" fill="#4d4d4d" text-anchor="middle" >−2</text>
<text x="453.4" y="2650.2" font-size="38" fill="#4d4d4d" text-anchor="middle" >0</text>
<text x="600.1" y="2650.2" font-size="38" fill="#4d4d4d" text-anchor="middle" >2</text>
<text x="746.9" y="2650.2" font-size="38" fill="#4d4d4d" text-anchor="middle" >4</text>
<text x="527.0" y="2692.7" font-size="50.2" fill="#000" text-anchor="middle" >CLIP enrichment, log2</text>
<text transform="translate(140.1,2237.5) rotate(-90)" font-size="50.2" text-anchor="middle">Cumulative fraction</text>
<text x="792.5" y="2193.2" font-size="38.5" fill="#000" text-anchor="start" >No. of</text>
<text x="792.5" y="2234.1" font-size="38.5" fill="#000" text-anchor="start" >NGCAU</text>
<rect x="793.3" y="2266.1" width="19.4" height="8.2" fill="#8C510A"/>
<rect x="793.3" y="2295.8" width="19.4" height="8.2" fill="#80CDC1"/>
<text x="834.0" y="2281.2" font-size="38" fill="#000" text-anchor="start" >0</text>
<text x="834.0" y="2312.6" font-size="38" fill="#000" text-anchor="start" >1–3</text>
<clipPath id="clipf"><rect x="1197.3" y="1839" width="510.20000000000005" height="767.3000000000002"/></clipPath>
<g clip-path="url(#clipf)">
<path d="M1194.7,2570.0 L1197.4,2570.1 L1200.0,2570.2 L1202.6,2570.2 L1205.2,2570.1 L1207.8,2569.9 L1210.3,2569.6 L1212.8,2569.3 L1215.3,2568.9 L1217.7,2568.4 L1220.1,2567.9 L1222.5,2567.3 L1224.9,2566.6 L1227.2,2565.9 L1229.5,2565.1 L1231.8,2564.2 L1234.0,2563.3 L1236.3,2562.3 L1238.4,2561.3 L1240.6,2560.2 L1242.7,2559.0 L1244.9,2557.8 L1246.9,2556.6 L1249.0,2555.3 L1251.0,2553.9 L1253.0,2552.5 L1255.0,2551.1 L1256.9,2549.6 L1258.9,2548.1 L1260.7,2546.5 L1262.6,2544.9 L1264.5,2543.2 L1266.3,2541.5 L1268.1,2539.8 L1269.8,2538.1 L1271.5,2536.3 L1273.2,2534.5 L1274.9,2532.6 L1276.6,2530.8 L1278.2,2528.8 L1279.8,2526.9 L1281.4,2525.0 L1282.9,2523.0 L1284.5,2521.0 L1286.0,2519.0 L1287.4,2517.0 L1288.9,2514.9 L1290.3,2512.9 L1291.7,2510.8 L1293.1,2508.7 L1294.4,2506.6 L1295.8,2504.5 L1297.1,2502.4 L1298.3,2500.3 L1299.6,2498.1 L1300.8,2496.0 L1302.0,2493.8 L1303.2,2491.6 L1304.4,2489.5 L1305.5,2487.3 L1306.6,2485.1 L1307.8,2482.9 L1308.8,2480.7 L1309.9,2478.4 L1310.9,2476.2 L1312.0,2474.0 L1313.0,2471.7 L1314.0,2469.5 L1314.9,2467.2 L1315.9,2464.9 L1316.8,2462.7 L1317.7,2460.4 L1318.6,2458.1 L1319.5,2455.8 L1320.4,2453.5 L1321.3,2451.2 L1322.1,2448.9 L1322.9,2446.6 L1323.8,2444.2 L1324.6,2441.9 L1325.4,2439.6 L1326.1,2437.2 L1326.9,2434.9 L1327.7,2432.5 L1328.4,2430.2 L1329.2,2427.8 L1329.9,2425.5 L1330.6,2423.1 L1331.3,2420.7 L1332.0,2418.4 L1332.7,2416.0 L1333.4,2413.6 L1334.0,2411.2 L1334.7,2408.8 L1335.4,2406.4 L1336.0,2404.1 L1336.7,2401.7 L1337.3,2399.3 L1338.0,2396.9 L1338.6,2394.5 L1339.2,2392.1 L1339.8,2389.7 L1340.5,2387.3 L1341.1,2384.9 L1341.7,2382.5 L1342.3,2380.1 L1342.9,2377.7 L1343.5,2375.3 L1344.1,2372.9 L1344.7,2370.5 L1345.3,2368.1 L1345.8,2365.6 L1346.4,2363.2 L1347.0,2360.8 L1347.6,2358.4 L1348.1,2356.0 L1348.7,2353.6 L1349.3,2351.2 L1349.8,2348.8 L1350.4,2346.3 L1350.9,2343.9 L1351.5,2341.5 L1352.0,2339.1 L1352.6,2336.7 L1353.1,2334.2 L1353.7,2331.8 L1354.2,2329.4 L1354.7,2327.0 L1355.3,2324.6 L1355.8,2322.1 L1356.3,2319.7 L1356.8,2317.3 L1357.4,2314.9 L1357.9,2312.4 L1358.4,2310.0 L1358.9,2307.6 L1359.4,2305.2 L1359.9,2302.7 L1360.4,2300.3 L1360.9,2297.9 L1361.4,2295.4 L1362.0,2293.0 L1362.5,2290.6 L1363.0,2288.2 L1363.4,2285.7 L1363.9,2283.3 L1364.4,2280.9 L1364.9,2278.4 L1365.4,2276.0 L1365.9,2273.6 L1366.4,2271.1 L1366.9,2268.7 L1367.4,2266.3 L1367.9,2263.8 L1368.3,2261.4 L1368.8,2259.0 L1369.3,2256.6 L1369.8,2254.1 L1370.3,2251.7 L1370.8,2249.3 L1371.2,2246.8 L1371.7,2244.4 L1372.2,2242.0 L1372.7,2239.5 L1373.2,2237.1 L1373.6,2234.7 L1374.1,2232.2 L1374.6,2229.8 L1375.1,2227.4 L1375.5,2224.9 L1376.0,2222.5 L1376.5,2220.1 L1377.0,2217.7 L1377.5,2215.2 L1377.9,2212.8 L1378.4,2210.4 L1378.9,2207.9 L1379.4,2205.5 L1379.8,2203.1 L1380.3,2200.7 L1380.8,2198.2 L1381.3,2195.8 L1381.8,2193.4 L1382.3,2191.0 L1382.7,2188.5 L1383.2,2186.1 L1383.7,2183.7 L1384.2,2181.3 L1384.7,2178.8 L1385.2,2176.4 L1385.7,2174.0 L1386.2,2171.6 L1386.7,2169.2 L1387.1,2166.7 L1387.6,2164.3 L1388.1,2161.9 L1388.6,2159.5 L1389.1,2157.1 L1389.6,2154.7 L1390.2,2152.3 L1390.7,2149.8 L1391.2,2147.4 L1391.7,2145.0 L1392.2,2142.6 L1392.7,2140.2 L1393.2,2137.8 L1393.7,2135.4 L1394.3,2133.0 L1394.8,2130.6 L1395.3,2128.1 L1395.9,2125.7 L1396.4,2123.3 L1396.9,2120.9 L1397.5,2118.5 L1398.0,2116.1 L1398.6,2113.7 L1399.1,2111.3 L1399.7,2108.9 L1400.2,2106.5 L1400.8,2104.1 L1401.4,2101.7 L1401.9,2099.3 L1402.5,2096.9 L1403.1,2094.5 L1403.7,2092.1 L1404.2,2089.7 L1404.8,2087.3 L1405.4,2084.9 L1406.0,2082.5 L1406.6,2080.1 L1407.2,2077.7 L1407.8,2075.3 L1408.5,2072.9 L1409.1,2070.5 L1409.7,2068.1 L1410.3,2065.7 L1411.0,2063.3 L1411.6,2060.9 L1412.3,2058.5 L1412.9,2056.1 L1413.6,2053.7 L1414.2,2051.3 L1414.9,2048.9 L1415.6,2046.5 L1416.2,2044.1 L1416.9,2041.7 L1417.6,2039.3 L1418.3,2036.9 L1419.0,2034.5 L1419.7,2032.1 L1420.5,2029.7 L1421.2,2027.4 L1421.9,2025.0 L1422.7,2022.6 L1423.4,2020.2 L1424.2,2017.8 L1425.0,2015.5 L1425.8,2013.1 L1426.6,2010.7 L1427.4,2008.4 L1428.2,2006.0 L1429.0,2003.7 L1429.9,2001.3 L1430.7,1999.0 L1431.6,1996.7 L1432.5,1994.3 L1433.4,1992.0 L1434.3,1989.7 L1435.3,1987.4 L1436.2,1985.1 L1437.2,1982.9 L1438.2,1980.6 L1439.2,1978.3 L1440.2,1976.1 L1441.3,1973.8 L1442.3,1971.6 L1443.4,1969.4 L1444.5,1967.2 L1445.6,1965.0 L1446.8,1962.8 L1447.9,1960.7 L1449.1,1958.5 L1450.3,1956.4 L1451.6,1954.3 L1452.8,1952.1 L1454.1,1950.1 L1455.4,1948.0 L1456.7,1945.9 L1458.1,1943.9 L1459.5,1941.8 L1460.9,1939.8 L1462.3,1937.8 L1463.7,1935.8 L1465.2,1933.9 L1466.7,1931.9 L1468.3,1930.0 L1469.8,1928.1 L1471.4,1926.2 L1473.1,1924.4 L1474.7,1922.5 L1476.4,1920.7 L1478.1,1918.9 L1479.8,1917.2 L1481.6,1915.5 L1483.4,1913.8 L1485.2,1912.1 L1487.1,1910.5 L1488.9,1908.9 L1490.8,1907.4 L1492.8,1905.9 L1494.7,1904.4 L1496.7,1903.0 L1498.7,1901.6 L1500.8,1900.3 L1502.8,1899.0 L1504.9,1897.8 L1507.1,1896.6 L1509.2,1895.5 L1511.4,1894.4 L1513.6,1893.4 L1515.9,1892.4 L1518.1,1891.5 L1520.4,1890.6 L1522.7,1889.8 L1525.0,1889.0 L1527.3,1888.2 L1529.7,1887.5 L1532.1,1886.8 L1534.4,1886.2 L1536.8,1885.6 L1539.3,1885.0 L1541.7,1884.4 L1544.1,1883.9 L1546.6,1883.4 L1549.0,1883.0 L1551.5,1882.5 L1553.9,1882.1 L1556.4,1881.7 L1558.9,1881.4 L1561.4,1881.0 L1563.9,1880.7 L1566.3,1880.4 L1568.8,1880.1 L1571.3,1879.8 L1573.8,1879.6 L1576.3,1879.3 L1578.8,1879.1 L1581.3,1878.9 L1583.7,1878.7 L1586.2,1878.5 L1588.7,1878.3 L1591.2,1878.1 L1593.7,1878.0 L1596.1,1877.8 L1598.6,1877.7 L1601.1,1877.6 L1603.6,1877.4 L1606.1,1877.3 L1608.6,1877.2 L1611.0,1877.2 L1613.5,1877.1 L1616.0,1877.0 L1618.5,1876.9 L1621.0,1876.9 L1623.4,1876.8 L1625.9,1876.8 L1628.4,1876.7 L1630.9,1876.7 L1633.3,1876.6 L1635.8,1876.6 L1638.3,1876.6 L1640.8,1876.6 L1643.2,1876.5 L1645.7,1876.5 L1648.2,1876.5 L1650.7,1876.5 L1653.1,1876.5 L1655.6,1876.4 L1658.1,1876.4 L1660.6,1876.4 L1663.0,1876.4 L1665.5,1876.4 L1668.0,1876.3 L1670.4,1876.3 L1672.9,1876.3 L1675.4,1876.3 L1677.9,1876.2 L1680.3,1876.2 L1682.8,1876.1 L1685.3,1876.1 L1687.7,1876.0 L1690.2,1876.0 L1692.7,1875.9 L1695.1,1875.8 L1697.6,1875.7 L1700.1,1875.6 L1702.5,1875.5 L1705.0,1875.4 L1707.4,1875.3 L1709.9,1875.2" fill="none" stroke="#8C510A" stroke-width="9.2" stroke-linejoin="round"/>
<path d="M1194.7,2571.3 L1197.4,2571.6 L1200.1,2571.8 L1202.7,2572.0 L1205.4,2572.1 L1207.9,2572.0 L1210.5,2571.9 L1213.1,2571.7 L1215.6,2571.4 L1218.1,2571.1 L1220.6,2570.7 L1223.0,2570.1 L1225.4,2569.6 L1227.8,2568.9 L1230.2,2568.2 L1232.6,2567.4 L1234.9,2566.6 L1237.2,2565.7 L1239.4,2564.7 L1241.7,2563.6 L1243.9,2562.6 L1246.1,2561.4 L1248.2,2560.2 L1250.4,2559.0 L1252.5,2557.7 L1254.5,2556.3 L1256.6,2554.9 L1258.6,2553.5 L1260.6,2552.0 L1262.5,2550.5 L1264.4,2548.9 L1266.3,2547.3 L1268.2,2545.7 L1270.0,2544.1 L1271.8,2542.4 L1273.6,2540.6 L1275.4,2538.9 L1277.1,2537.1 L1278.8,2535.3 L1280.4,2533.4 L1282.1,2531.5 L1283.7,2529.6 L1285.3,2527.7 L1286.8,2525.7 L1288.4,2523.7 L1289.9,2521.7 L1291.4,2519.7 L1292.8,2517.6 L1294.3,2515.6 L1295.7,2513.5 L1297.1,2511.4 L1298.4,2509.2 L1299.8,2507.1 L1301.1,2504.9 L1302.4,2502.7 L1303.7,2500.5 L1305.0,2498.3 L1306.2,2496.1 L1307.4,2493.9 L1308.6,2491.6 L1309.8,2489.4 L1311.0,2487.1 L1312.1,2484.9 L1313.2,2482.6 L1314.4,2480.3 L1315.5,2478.0 L1316.5,2475.7 L1317.6,2473.4 L1318.6,2471.1 L1319.7,2468.8 L1320.7,2466.5 L1321.7,2464.2 L1322.6,2461.9 L1323.6,2459.6 L1324.6,2457.3 L1325.5,2454.9 L1326.4,2452.6 L1327.3,2450.3 L1328.2,2447.9 L1329.1,2445.6 L1330.0,2443.2 L1330.8,2440.9 L1331.7,2438.5 L1332.5,2436.2 L1333.3,2433.8 L1334.1,2431.4 L1334.9,2429.1 L1335.7,2426.7 L1336.4,2424.3 L1337.2,2421.9 L1338.0,2419.6 L1338.7,2417.2 L1339.4,2414.8 L1340.1,2412.4 L1340.8,2410.0 L1341.5,2407.6 L1342.2,2405.2 L1342.9,2402.8 L1343.6,2400.4 L1344.3,2398.0 L1344.9,2395.6 L1345.6,2393.2 L1346.2,2390.8 L1346.8,2388.4 L1347.5,2385.9 L1348.1,2383.5 L1348.7,2381.1 L1349.3,2378.7 L1349.9,2376.2 L1350.5,2373.8 L1351.1,2371.4 L1351.7,2369.0 L1352.3,2366.5 L1352.9,2364.1 L1353.5,2361.7 L1354.0,2359.2 L1354.6,2356.8 L1355.2,2354.4 L1355.7,2351.9 L1356.3,2349.5 L1356.8,2347.0 L1357.4,2344.6 L1357.9,2342.1 L1358.4,2339.7 L1359.0,2337.2 L1359.5,2334.8 L1360.0,2332.4 L1360.6,2329.9 L1361.1,2327.4 L1361.6,2325.0 L1362.1,2322.5 L1362.6,2320.1 L1363.1,2317.6 L1363.6,2315.2 L1364.1,2312.7 L1364.6,2310.3 L1365.1,2307.8 L1365.6,2305.3 L1366.1,2302.9 L1366.6,2300.4 L1367.1,2298.0 L1367.6,2295.5 L1368.1,2293.0 L1368.5,2290.6 L1369.0,2288.1 L1369.5,2285.6 L1370.0,2283.2 L1370.4,2280.7 L1370.9,2278.2 L1371.4,2275.8 L1371.9,2273.3 L1372.3,2270.8 L1372.8,2268.3 L1373.2,2265.9 L1373.7,2263.4 L1374.2,2260.9 L1374.6,2258.5 L1375.1,2256.0 L1375.5,2253.5 L1376.0,2251.1 L1376.5,2248.6 L1376.9,2246.1 L1377.4,2243.6 L1377.8,2241.2 L1378.3,2238.7 L1378.7,2236.2 L1379.2,2233.7 L1379.6,2231.3 L1380.1,2228.8 L1380.5,2226.3 L1381.0,2223.9 L1381.4,2221.4 L1381.9,2218.9 L1382.3,2216.4 L1382.8,2214.0 L1383.2,2211.5 L1383.7,2209.0 L1384.1,2206.6 L1384.6,2204.1 L1385.1,2201.6 L1385.5,2199.1 L1386.0,2196.7 L1386.4,2194.2 L1386.9,2191.7 L1387.4,2189.3 L1387.8,2186.8 L1388.3,2184.3 L1388.7,2181.9 L1389.2,2179.4 L1389.7,2176.9 L1390.1,2174.5 L1390.6,2172.0 L1391.1,2169.5 L1391.6,2167.1 L1392.0,2164.6 L1392.5,2162.2 L1393.0,2159.7 L1393.5,2157.2 L1394.0,2154.8 L1394.4,2152.3 L1394.9,2149.9 L1395.4,2147.4 L1395.9,2145.0 L1396.4,2142.5 L1396.9,2140.0 L1397.4,2137.6 L1397.9,2135.1 L1398.4,2132.7 L1398.9,2130.2 L1399.5,2127.8 L1400.0,2125.3 L1400.5,2122.9 L1401.0,2120.5 L1401.5,2118.0 L1402.1,2115.6 L1402.6,2113.1 L1403.1,2110.7 L1403.6,2108.2 L1404.2,2105.8 L1404.7,2103.3 L1405.2,2100.9 L1405.8,2098.5 L1406.3,2096.0 L1406.9,2093.6 L1407.4,2091.1 L1407.9,2088.7 L1408.5,2086.2 L1409.0,2083.8 L1409.6,2081.4 L1410.1,2078.9 L1410.7,2076.5 L1411.2,2074.0 L1411.7,2071.6 L1412.3,2069.1 L1412.8,2066.7 L1413.4,2064.2 L1413.9,2061.8 L1414.5,2059.3 L1415.0,2056.9 L1415.6,2054.4 L1416.1,2052.0 L1416.7,2049.5 L1417.3,2047.1 L1417.8,2044.6 L1418.4,2042.2 L1418.9,2039.7 L1419.5,2037.3 L1420.0,2034.8 L1420.6,2032.3 L1421.1,2029.9 L1421.7,2027.4 L1422.2,2025.0 L1422.7,2022.5 L1423.3,2020.0 L1423.8,2017.5 L1424.4,2015.1 L1424.9,2012.6 L1425.5,2010.1 L1426.1,2007.7 L1426.6,2005.2 L1427.2,2002.8 L1427.8,2000.3 L1428.4,1997.8 L1429.0,1995.4 L1429.6,1993.0 L1430.2,1990.5 L1430.9,1988.1 L1431.6,1985.7 L1432.3,1983.3 L1433.0,1980.9 L1433.7,1978.5 L1434.5,1976.1 L1435.2,1973.8 L1436.0,1971.4 L1436.9,1969.1 L1437.7,1966.7 L1438.6,1964.4 L1439.5,1962.1 L1440.5,1959.8 L1441.5,1957.6 L1442.5,1955.3 L1443.6,1953.1 L1444.7,1950.9 L1445.8,1948.7 L1447.0,1946.6 L1448.2,1944.4 L1449.5,1942.3 L1450.8,1940.2 L1452.1,1938.1 L1453.5,1936.0 L1455.0,1934.0 L1456.5,1932.0 L1458.0,1930.0 L1459.6,1928.1 L1461.3,1926.2 L1463.0,1924.3 L1464.7,1922.4 L1466.6,1920.6 L1468.4,1918.8 L1470.3,1917.0 L1472.3,1915.2 L1474.2,1913.5 L1476.2,1911.7 L1478.1,1910.0 L1480.0,1908.3 L1481.9,1906.6 L1483.7,1904.9 L1485.5,1903.2 L1487.3,1901.5 L1489.0,1899.8 L1490.6,1898.1 L1492.4,1896.6 L1494.2,1895.2 L1496.2,1893.9 L1498.3,1892.8 L1500.5,1891.8 L1502.9,1891.0 L1505.3,1890.2 L1507.7,1889.5 L1510.2,1888.9 L1512.8,1888.3 L1515.3,1887.8 L1517.8,1887.2 L1520.3,1886.6 L1522.8,1886.0 L1525.3,1885.5 L1527.8,1884.9 L1530.2,1884.4 L1532.7,1883.9 L1535.2,1883.3 L1537.6,1882.8 L1540.1,1882.3 L1542.6,1881.8 L1545.0,1881.4 L1547.5,1880.9 L1549.9,1880.4 L1552.4,1880.0 L1554.8,1879.6 L1557.3,1879.2 L1559.7,1878.8 L1562.2,1878.5 L1564.7,1878.2 L1567.1,1877.8 L1569.6,1877.5 L1572.1,1877.3 L1574.6,1877.0 L1577.0,1876.8 L1579.5,1876.6 L1582.0,1876.3 L1584.5,1876.2 L1587.0,1876.0 L1589.5,1875.8 L1592.0,1875.7 L1594.5,1875.5 L1597.0,1875.4 L1599.5,1875.3 L1602.0,1875.2 L1604.5,1875.1 L1607.0,1875.1 L1609.5,1875.0 L1612.1,1874.9 L1614.6,1874.9 L1617.1,1874.9 L1619.6,1874.8 L1622.1,1874.8 L1624.6,1874.8 L1627.2,1874.8 L1629.7,1874.8 L1632.2,1874.8 L1634.7,1874.8 L1637.2,1874.8 L1639.8,1874.9 L1642.3,1874.9 L1644.8,1874.9 L1647.3,1874.9 L1649.8,1875.0 L1652.4,1875.0 L1654.9,1875.0 L1657.4,1875.1 L1659.9,1875.1 L1662.4,1875.1 L1664.9,1875.1 L1667.5,1875.2 L1670.0,1875.2 L1672.5,1875.2 L1675.0,1875.2 L1677.5,1875.2 L1680.0,1875.3 L1682.5,1875.3 L1685.0,1875.3 L1687.5,1875.2 L1690.0,1875.2 L1692.5,1875.2 L1695.0,1875.2 L1697.5,1875.1 L1700.0,1875.1 L1702.5,1875.0 L1704.9,1875.0 L1707.4,1874.9 L1709.9,1874.8" fill="none" stroke="#80CDC1" stroke-width="9.2" stroke-linejoin="round"/>
</g>
<path d="M1197.3,1839.0 V2606.3 H1707.5" fill="none" stroke="#444444" stroke-width="2.2"/>
<line x1="1193.3" y1="1874.8" x2="1197.3" y2="1874.8" stroke="#444444" stroke-width="2"/>
<line x1="1193.3" y1="2049.1" x2="1197.3" y2="2049.1" stroke="#444444" stroke-width="2"/>
<line x1="1193.3" y1="2223.3" x2="1197.3" y2="2223.3" stroke="#444444" stroke-width="2"/>
<line x1="1193.3" y1="2397.6" x2="1197.3" y2="2397.6" stroke="#444444" stroke-width="2"/>
<line x1="1193.3" y1="2571.9" x2="1197.3" y2="2571.9" stroke="#444444" stroke-width="2"/>
<line x1="1220.5" y1="2606.3" x2="1220.5" y2="2610.3" stroke="#444444" stroke-width="2"/>
<line x1="1375.1" y1="2606.3" x2="1375.1" y2="2610.3" stroke="#444444" stroke-width="2"/>
<line x1="1529.6" y1="2606.3" x2="1529.6" y2="2610.3" stroke="#444444" stroke-width="2"/>
<line x1="1684.2" y1="2606.3" x2="1684.2" y2="2610.3" stroke="#444444" stroke-width="2"/>
<text x="1188.8" y="1889.6" font-size="39" fill="#4d4d4d" text-anchor="end" >1.00</text>
<text x="1188.8" y="2063.9" font-size="39" fill="#4d4d4d" text-anchor="end" >0.75</text>
<text x="1188.8" y="2238.2" font-size="39" fill="#4d4d4d" text-anchor="end" >0.50</text>
<text x="1188.8" y="2412.5" font-size="39" fill="#4d4d4d" text-anchor="end" >0.25</text>
<text x="1188.8" y="2586.7" font-size="39" fill="#4d4d4d" text-anchor="end" >0.00</text>
<text x="1220.5" y="2642.1" font-size="39" fill="#4d4d4d" text-anchor="middle" >−2</text>
<text x="1375.1" y="2642.1" font-size="39" fill="#4d4d4d" text-anchor="middle" >0</text>
<text x="1529.6" y="2642.1" font-size="39" fill="#4d4d4d" text-anchor="middle" >2</text>
<text x="1684.2" y="2642.1" font-size="39" fill="#4d4d4d" text-anchor="middle" >4</text>
<text x="1453.0" y="2684.6" font-size="51.5" fill="#000" text-anchor="middle" >CLIP enrichment, log2</text>
<text transform="translate(1050.1,2224) rotate(-90)" font-size="51.5" text-anchor="middle">Cumulative fraction</text>
<text x="1733.0" y="2177.8" font-size="40" fill="#000" text-anchor="start" >No. of</text>
<text x="1733.0" y="2218.4" font-size="40" fill="#000" text-anchor="start" >AU</text>
<rect x="1733.8" y="2251.9" width="19.4" height="8.2" fill="#8C510A"/>
<rect x="1733.8" y="2282.6" width="19.4" height="8.2" fill="#80CDC1"/>
<text x="1774.5" y="2267.8" font-size="39" fill="#000" text-anchor="start" >0</text>
<text x="1774.5" y="2299.0" font-size="39" fill="#000" text-anchor="start" >1–12</text>
</svg>
</body></html>
